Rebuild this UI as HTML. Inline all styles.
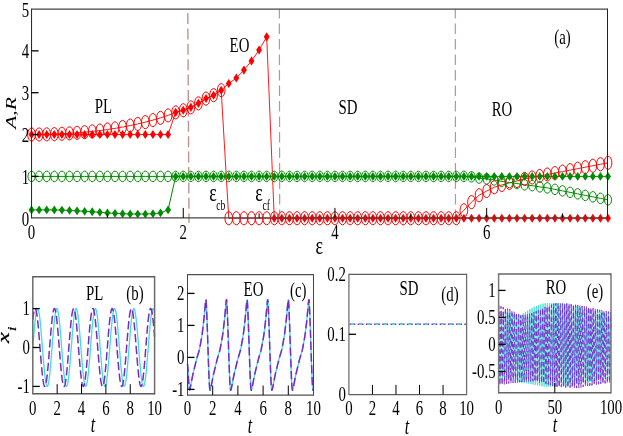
<!DOCTYPE html>
<html><head><meta charset="utf-8"><title>Figure</title>
<style>html,body{margin:0;padding:0;background:#fff;}body{width:623px;height:436px;overflow:hidden;font-family:"Liberation Serif",serif;}</style>
</head><body>
<svg width="623" height="436" viewBox="0 0 623 436" style="display:block;will-change:transform">
<rect width="623" height="436" fill="#fff"/>
<g font-family="'Liberation Serif', serif" fill="#000">
<line x1="187.8" y1="13.0" x2="189" y2="222.7" stroke="#c29292" stroke-width="1.4" stroke-dasharray="11 4.4"/>
<line x1="279.35" y1="9.2" x2="279.7" y2="217.9" stroke="#c29292" stroke-width="1.2" stroke-dasharray="10.4 5.1" stroke-dashoffset="1.1"/>
<line x1="455.3" y1="9.2" x2="455.5" y2="217.9" stroke="#c29292" stroke-width="1.2" stroke-dasharray="10.4 5.1" stroke-dashoffset="1.1"/>
<polyline points="31.55,134.55 39.13,134.5 46.72,134.36 54.3,134.13 61.89,133.8 69.47,133.37 77.06,132.83 84.64,132.19 92.23,131.43 99.81,130.54 107.4,129.53 114.98,128.37 122.57,127.07 130.16,125.6 137.74,123.96 145.32,122.13 152.91,120.11 160.5,117.86 168.08,115.39 175.66,112.37 183.25,110.28 190.84,107.35 198.42,103.37 206,98.56 213.59,95.21 221.18,90.19 228.76,218.25 236.34,218.25 243.93,218.25 251.51,218.25 259.1,218.25 266.69,218.25 274.27,218.25 281.85,218.25 289.44,218.25 297.02,218.25 304.61,218.25 312.19,218.25 319.78,218.25 327.37,218.25 334.95,218.25 342.53,218.25 350.12,218.25 357.7,218.25 365.29,218.25 372.88,218.25 380.46,218.25 388.05,218.25 395.63,218.25 403.22,218.25 410.8,218.25 418.38,218.25 425.97,218.25 433.55,218.25 441.14,218.25 448.72,218.25 456.31,218.25 463.89,210.3 471.48,202.14 479.06,195.23 486.65,191.05 494.23,187.28 501.82,184.98 509.4,182.89 516.99,181 524.57,178.91 532.16,177.45 539.75,175.98 547.33,174.52 554.91,173.05 562.5,171.59 570.08,170.12 577.67,168.66 585.25,167.19 592.84,165.73 600.42,164.26 608.01,162.8" fill="none" stroke="#ff0000" stroke-width="0.9" />
<polyline points="31.55,134.55 39.13,134.55 46.72,134.55 54.3,134.55 61.89,134.55 69.47,134.55 77.06,134.55 84.64,134.55 92.23,134.55 99.81,134.55 107.4,134.55 114.98,134.55 122.57,134.55 130.16,134.55 137.74,134.55 145.32,134.55 152.91,134.55 160.5,134.55 168.08,134.55 175.66,112.37 183.25,110.28 190.84,107.35 198.42,103.37 206,98.56 213.59,95.21 221.18,90.19 228.76,83.49 236.34,78.05 243.93,70.1 251.51,60.89 259.1,50.01 266.69,36.83 274.27,218.25 281.85,218.25 289.44,218.25 297.02,218.25 304.61,218.25 312.19,218.25 319.78,218.25 327.37,218.25 334.95,218.25 342.53,218.25 350.12,218.25 357.7,218.25 365.29,218.25 372.88,218.25 380.46,218.25 388.05,218.25 395.63,218.25 403.22,218.25 410.8,218.25 418.38,218.25 425.97,218.25 433.55,218.25 441.14,218.25 448.72,218.25 456.31,218.25 463.89,218.25 471.48,218.25 479.06,218.25 486.65,218.25 494.23,218.25 501.82,218.25 509.4,218.25 516.99,218.25 524.57,218.25 532.16,218.25 539.75,218.25 547.33,218.25 554.91,218.25 562.5,218.25 570.08,218.25 577.67,218.25 585.25,218.25 592.84,218.25 600.42,218.25 608.01,218.25" fill="none" stroke="#ff0000" stroke-width="0.9" />
<polyline points="31.55,176.4 39.13,176.4 46.72,176.4 54.3,176.4 61.89,176.4 69.47,176.4 77.06,176.4 84.64,176.4 92.23,176.4 99.81,176.4 107.4,176.4 114.98,176.4 122.57,176.4 130.16,176.4 137.74,176.4 145.32,176.4 152.91,176.4 160.5,176.4 168.08,176.4 175.66,176.4 183.25,176.4 190.84,176.4 198.42,176.4 206,176.4 213.59,176.4 221.18,176.4 228.76,176.4 236.34,176.4 243.93,176.4 251.51,176.4 259.1,176.4 266.69,176.4 274.27,176.4 281.85,176.4 289.44,176.4 297.02,176.4 304.61,176.4 312.19,176.4 319.78,176.4 327.37,176.4 334.95,176.4 342.53,176.4 350.12,176.4 357.7,176.4 365.29,176.4 372.88,176.4 380.46,176.4 388.05,176.4 395.63,176.4 403.22,176.4 410.8,176.4 418.38,176.4 425.97,176.4 433.55,176.4 441.14,176.4 448.72,176.4 456.31,176.4 463.89,176.4 471.48,176.82 479.06,178.07 486.65,178.91 494.23,179.96 501.82,181.42 509.4,182.47 516.99,183.51 524.57,184.77 532.16,185.61 539.75,186.86 547.33,187.87 554.91,189.36 562.5,190.86 570.08,192.36 577.67,193.85 585.25,195.35 592.84,196.84 600.42,198.34 608.01,199.84" fill="none" stroke="#008b00" stroke-width="1" />
<polyline points="31.55,209.88 39.13,209.88 46.72,209.88 54.3,209.96 61.89,210.09 69.47,210.42 77.06,210.84 84.64,211.3 92.23,211.76 99.81,212.35 107.4,212.94 114.98,213.35 122.57,213.73 130.16,213.98 137.74,214.06 145.32,214.06 152.91,213.65 160.5,212.94 168.08,209.88 175.66,176.4 183.25,176.4 190.84,176.4 198.42,176.4 206,176.4 213.59,176.4 221.18,176.4 228.76,176.4 236.34,176.4 243.93,176.4 251.51,176.4 259.1,176.4 266.69,176.4 274.27,176.4 281.85,176.4 289.44,176.4 297.02,176.4 304.61,176.4 312.19,176.4 319.78,176.4 327.37,176.4 334.95,176.4 342.53,176.4 350.12,176.4 357.7,176.4 365.29,176.4 372.88,176.4 380.46,176.4 388.05,176.4 395.63,176.4 403.22,176.4 410.8,176.4 418.38,176.4 425.97,176.4 433.55,176.4 441.14,176.4 448.72,176.4 456.31,176.4 463.89,176.4 471.48,176.4 479.06,176.4 486.65,176.4 494.23,176.4 501.82,176.4 509.4,176.4 516.99,176.4 524.57,176.4 532.16,176.4 539.75,176.4 547.33,176.4 554.91,176.4 562.5,176.4 570.08,176.4 577.67,176.4 585.25,176.4 592.84,176.4 600.42,176.4 608.01,176.4" fill="none" stroke="#008b00" stroke-width="1" />
<ellipse cx="31.55" cy="134.55" rx="3.85" ry="6.6" fill="none" stroke="#ff0000" stroke-width="1"/>
<ellipse cx="39.13" cy="134.5" rx="3.85" ry="6.6" fill="none" stroke="#ff0000" stroke-width="1"/>
<ellipse cx="46.72" cy="134.36" rx="3.85" ry="6.6" fill="none" stroke="#ff0000" stroke-width="1"/>
<ellipse cx="54.3" cy="134.13" rx="3.85" ry="6.6" fill="none" stroke="#ff0000" stroke-width="1"/>
<ellipse cx="61.89" cy="133.8" rx="3.85" ry="6.6" fill="none" stroke="#ff0000" stroke-width="1"/>
<ellipse cx="69.47" cy="133.37" rx="3.85" ry="6.6" fill="none" stroke="#ff0000" stroke-width="1"/>
<ellipse cx="77.06" cy="132.83" rx="3.85" ry="6.6" fill="none" stroke="#ff0000" stroke-width="1"/>
<ellipse cx="84.64" cy="132.19" rx="3.85" ry="6.6" fill="none" stroke="#ff0000" stroke-width="1"/>
<ellipse cx="92.23" cy="131.43" rx="3.85" ry="6.6" fill="none" stroke="#ff0000" stroke-width="1"/>
<ellipse cx="99.81" cy="130.54" rx="3.85" ry="6.6" fill="none" stroke="#ff0000" stroke-width="1"/>
<ellipse cx="107.4" cy="129.53" rx="3.85" ry="6.6" fill="none" stroke="#ff0000" stroke-width="1"/>
<ellipse cx="114.98" cy="128.37" rx="3.85" ry="6.6" fill="none" stroke="#ff0000" stroke-width="1"/>
<ellipse cx="122.57" cy="127.07" rx="3.85" ry="6.6" fill="none" stroke="#ff0000" stroke-width="1"/>
<ellipse cx="130.16" cy="125.6" rx="3.85" ry="6.6" fill="none" stroke="#ff0000" stroke-width="1"/>
<ellipse cx="137.74" cy="123.96" rx="3.85" ry="6.6" fill="none" stroke="#ff0000" stroke-width="1"/>
<ellipse cx="145.32" cy="122.13" rx="3.85" ry="6.6" fill="none" stroke="#ff0000" stroke-width="1"/>
<ellipse cx="152.91" cy="120.11" rx="3.85" ry="6.6" fill="none" stroke="#ff0000" stroke-width="1"/>
<ellipse cx="160.5" cy="117.86" rx="3.85" ry="6.6" fill="none" stroke="#ff0000" stroke-width="1"/>
<ellipse cx="168.08" cy="115.39" rx="3.85" ry="6.6" fill="none" stroke="#ff0000" stroke-width="1"/>
<ellipse cx="175.66" cy="112.37" rx="3.85" ry="6.6" fill="none" stroke="#ff0000" stroke-width="1"/>
<ellipse cx="183.25" cy="110.28" rx="3.85" ry="6.6" fill="none" stroke="#ff0000" stroke-width="1"/>
<ellipse cx="190.84" cy="107.35" rx="3.85" ry="6.6" fill="none" stroke="#ff0000" stroke-width="1"/>
<ellipse cx="198.42" cy="103.37" rx="3.85" ry="6.6" fill="none" stroke="#ff0000" stroke-width="1"/>
<ellipse cx="206" cy="98.56" rx="3.85" ry="6.6" fill="none" stroke="#ff0000" stroke-width="1"/>
<ellipse cx="213.59" cy="95.21" rx="3.85" ry="6.6" fill="none" stroke="#ff0000" stroke-width="1"/>
<ellipse cx="221.18" cy="90.19" rx="3.85" ry="6.6" fill="none" stroke="#ff0000" stroke-width="1"/>
<ellipse cx="228.76" cy="218.25" rx="3.85" ry="6.6" fill="none" stroke="#ff0000" stroke-width="1"/>
<ellipse cx="236.34" cy="218.25" rx="3.85" ry="6.6" fill="none" stroke="#ff0000" stroke-width="1"/>
<ellipse cx="243.93" cy="218.25" rx="3.85" ry="6.6" fill="none" stroke="#ff0000" stroke-width="1"/>
<ellipse cx="251.51" cy="218.25" rx="3.85" ry="6.6" fill="none" stroke="#ff0000" stroke-width="1"/>
<ellipse cx="259.1" cy="218.25" rx="3.85" ry="6.6" fill="none" stroke="#ff0000" stroke-width="1"/>
<ellipse cx="266.69" cy="218.25" rx="3.85" ry="6.6" fill="none" stroke="#ff0000" stroke-width="1"/>
<ellipse cx="274.27" cy="218.25" rx="3.85" ry="6.6" fill="none" stroke="#ff0000" stroke-width="1"/>
<ellipse cx="281.85" cy="218.25" rx="3.85" ry="6.6" fill="none" stroke="#ff0000" stroke-width="1"/>
<ellipse cx="289.44" cy="218.25" rx="3.85" ry="6.6" fill="none" stroke="#ff0000" stroke-width="1"/>
<ellipse cx="297.02" cy="218.25" rx="3.85" ry="6.6" fill="none" stroke="#ff0000" stroke-width="1"/>
<ellipse cx="304.61" cy="218.25" rx="3.85" ry="6.6" fill="none" stroke="#ff0000" stroke-width="1"/>
<ellipse cx="312.19" cy="218.25" rx="3.85" ry="6.6" fill="none" stroke="#ff0000" stroke-width="1"/>
<ellipse cx="319.78" cy="218.25" rx="3.85" ry="6.6" fill="none" stroke="#ff0000" stroke-width="1"/>
<ellipse cx="327.37" cy="218.25" rx="3.85" ry="6.6" fill="none" stroke="#ff0000" stroke-width="1"/>
<ellipse cx="334.95" cy="218.25" rx="3.85" ry="6.6" fill="none" stroke="#ff0000" stroke-width="1"/>
<ellipse cx="342.53" cy="218.25" rx="3.85" ry="6.6" fill="none" stroke="#ff0000" stroke-width="1"/>
<ellipse cx="350.12" cy="218.25" rx="3.85" ry="6.6" fill="none" stroke="#ff0000" stroke-width="1"/>
<ellipse cx="357.7" cy="218.25" rx="3.85" ry="6.6" fill="none" stroke="#ff0000" stroke-width="1"/>
<ellipse cx="365.29" cy="218.25" rx="3.85" ry="6.6" fill="none" stroke="#ff0000" stroke-width="1"/>
<ellipse cx="372.88" cy="218.25" rx="3.85" ry="6.6" fill="none" stroke="#ff0000" stroke-width="1"/>
<ellipse cx="380.46" cy="218.25" rx="3.85" ry="6.6" fill="none" stroke="#ff0000" stroke-width="1"/>
<ellipse cx="388.05" cy="218.25" rx="3.85" ry="6.6" fill="none" stroke="#ff0000" stroke-width="1"/>
<ellipse cx="395.63" cy="218.25" rx="3.85" ry="6.6" fill="none" stroke="#ff0000" stroke-width="1"/>
<ellipse cx="403.22" cy="218.25" rx="3.85" ry="6.6" fill="none" stroke="#ff0000" stroke-width="1"/>
<ellipse cx="410.8" cy="218.25" rx="3.85" ry="6.6" fill="none" stroke="#ff0000" stroke-width="1"/>
<ellipse cx="418.38" cy="218.25" rx="3.85" ry="6.6" fill="none" stroke="#ff0000" stroke-width="1"/>
<ellipse cx="425.97" cy="218.25" rx="3.85" ry="6.6" fill="none" stroke="#ff0000" stroke-width="1"/>
<ellipse cx="433.55" cy="218.25" rx="3.85" ry="6.6" fill="none" stroke="#ff0000" stroke-width="1"/>
<ellipse cx="441.14" cy="218.25" rx="3.85" ry="6.6" fill="none" stroke="#ff0000" stroke-width="1"/>
<ellipse cx="448.72" cy="218.25" rx="3.85" ry="6.6" fill="none" stroke="#ff0000" stroke-width="1"/>
<ellipse cx="456.31" cy="218.25" rx="3.85" ry="6.6" fill="none" stroke="#ff0000" stroke-width="1"/>
<ellipse cx="463.89" cy="210.3" rx="3.85" ry="6.6" fill="none" stroke="#ff0000" stroke-width="1"/>
<ellipse cx="471.48" cy="202.14" rx="3.85" ry="6.6" fill="none" stroke="#ff0000" stroke-width="1"/>
<ellipse cx="479.06" cy="195.23" rx="3.85" ry="6.6" fill="none" stroke="#ff0000" stroke-width="1"/>
<ellipse cx="486.65" cy="191.05" rx="3.85" ry="6.6" fill="none" stroke="#ff0000" stroke-width="1"/>
<ellipse cx="494.23" cy="187.28" rx="3.85" ry="6.6" fill="none" stroke="#ff0000" stroke-width="1"/>
<ellipse cx="501.82" cy="184.98" rx="3.85" ry="6.6" fill="none" stroke="#ff0000" stroke-width="1"/>
<ellipse cx="509.4" cy="182.89" rx="3.85" ry="6.6" fill="none" stroke="#ff0000" stroke-width="1"/>
<ellipse cx="516.99" cy="181" rx="3.85" ry="6.6" fill="none" stroke="#ff0000" stroke-width="1"/>
<ellipse cx="524.57" cy="178.91" rx="3.85" ry="6.6" fill="none" stroke="#ff0000" stroke-width="1"/>
<ellipse cx="532.16" cy="177.45" rx="3.85" ry="6.6" fill="none" stroke="#ff0000" stroke-width="1"/>
<ellipse cx="539.75" cy="175.98" rx="3.85" ry="6.6" fill="none" stroke="#ff0000" stroke-width="1"/>
<ellipse cx="547.33" cy="174.52" rx="3.85" ry="6.6" fill="none" stroke="#ff0000" stroke-width="1"/>
<ellipse cx="554.91" cy="173.05" rx="3.85" ry="6.6" fill="none" stroke="#ff0000" stroke-width="1"/>
<ellipse cx="562.5" cy="171.59" rx="3.85" ry="6.6" fill="none" stroke="#ff0000" stroke-width="1"/>
<ellipse cx="570.08" cy="170.12" rx="3.85" ry="6.6" fill="none" stroke="#ff0000" stroke-width="1"/>
<ellipse cx="577.67" cy="168.66" rx="3.85" ry="6.6" fill="none" stroke="#ff0000" stroke-width="1"/>
<ellipse cx="585.25" cy="167.19" rx="3.85" ry="6.6" fill="none" stroke="#ff0000" stroke-width="1"/>
<ellipse cx="592.84" cy="165.73" rx="3.85" ry="6.6" fill="none" stroke="#ff0000" stroke-width="1"/>
<ellipse cx="600.42" cy="164.26" rx="3.85" ry="6.6" fill="none" stroke="#ff0000" stroke-width="1"/>
<ellipse cx="608.01" cy="162.8" rx="3.85" ry="6.6" fill="none" stroke="#ff0000" stroke-width="1"/>
<path d="M28.6 134.55L31.55 130L34.5 134.55L31.55 139.1Z" fill="#ff0000"/>
<path d="M36.18 134.55L39.13 130L42.09 134.55L39.13 139.1Z" fill="#ff0000"/>
<path d="M43.77 134.55L46.72 130L49.67 134.55L46.72 139.1Z" fill="#ff0000"/>
<path d="M51.35 134.55L54.3 130L57.26 134.55L54.3 139.1Z" fill="#ff0000"/>
<path d="M58.94 134.55L61.89 130L64.84 134.55L61.89 139.1Z" fill="#ff0000"/>
<path d="M66.52 134.55L69.47 130L72.42 134.55L69.47 139.1Z" fill="#ff0000"/>
<path d="M74.11 134.55L77.06 130L80.01 134.55L77.06 139.1Z" fill="#ff0000"/>
<path d="M81.69 134.55L84.64 130L87.59 134.55L84.64 139.1Z" fill="#ff0000"/>
<path d="M89.28 134.55L92.23 130L95.18 134.55L92.23 139.1Z" fill="#ff0000"/>
<path d="M96.86 134.55L99.81 130L102.77 134.55L99.81 139.1Z" fill="#ff0000"/>
<path d="M104.45 134.55L107.4 130L110.35 134.55L107.4 139.1Z" fill="#ff0000"/>
<path d="M112.03 134.55L114.98 130L117.94 134.55L114.98 139.1Z" fill="#ff0000"/>
<path d="M119.62 134.55L122.57 130L125.52 134.55L122.57 139.1Z" fill="#ff0000"/>
<path d="M127.2 134.55L130.16 130L133.1 134.55L130.16 139.1Z" fill="#ff0000"/>
<path d="M134.79 134.55L137.74 130L140.69 134.55L137.74 139.1Z" fill="#ff0000"/>
<path d="M142.38 134.55L145.32 130L148.27 134.55L145.32 139.1Z" fill="#ff0000"/>
<path d="M149.96 134.55L152.91 130L155.86 134.55L152.91 139.1Z" fill="#ff0000"/>
<path d="M157.55 134.55L160.5 130L163.44 134.55L160.5 139.1Z" fill="#ff0000"/>
<path d="M165.13 134.55L168.08 130L171.03 134.55L168.08 139.1Z" fill="#ff0000"/>
<path d="M172.72 112.37L175.66 107.82L178.61 112.37L175.66 116.92Z" fill="#ff0000"/>
<path d="M180.3 110.28L183.25 105.73L186.2 110.28L183.25 114.83Z" fill="#ff0000"/>
<path d="M187.89 107.35L190.84 102.8L193.78 107.35L190.84 111.9Z" fill="#ff0000"/>
<path d="M195.47 103.37L198.42 98.82L201.37 103.37L198.42 107.92Z" fill="#ff0000"/>
<path d="M203.06 98.56L206 94.01L208.95 98.56L206 103.11Z" fill="#ff0000"/>
<path d="M210.64 95.21L213.59 90.66L216.54 95.21L213.59 99.76Z" fill="#ff0000"/>
<path d="M218.23 90.19L221.18 85.64L224.12 90.19L221.18 94.74Z" fill="#ff0000"/>
<path d="M225.81 83.49L228.76 78.94L231.71 83.49L228.76 88.04Z" fill="#ff0000"/>
<path d="M233.4 78.05L236.34 73.5L239.29 78.05L236.34 82.6Z" fill="#ff0000"/>
<path d="M240.98 70.1L243.93 65.55L246.88 70.1L243.93 74.65Z" fill="#ff0000"/>
<path d="M248.56 60.89L251.51 56.34L254.46 60.89L251.51 65.44Z" fill="#ff0000"/>
<path d="M256.15 50.01L259.1 45.46L262.05 50.01L259.1 54.56Z" fill="#ff0000"/>
<path d="M263.74 36.83L266.69 32.28L269.63 36.83L266.69 41.38Z" fill="#ff0000"/>
<path d="M271.32 218.25L274.27 213.7L277.22 218.25L274.27 222.8Z" fill="#ff0000"/>
<path d="M278.9 218.25L281.85 213.7L284.8 218.25L281.85 222.8Z" fill="#ff0000"/>
<path d="M286.49 218.25L289.44 213.7L292.39 218.25L289.44 222.8Z" fill="#ff0000"/>
<path d="M294.07 218.25L297.02 213.7L299.97 218.25L297.02 222.8Z" fill="#ff0000"/>
<path d="M301.66 218.25L304.61 213.7L307.56 218.25L304.61 222.8Z" fill="#ff0000"/>
<path d="M309.25 218.25L312.19 213.7L315.14 218.25L312.19 222.8Z" fill="#ff0000"/>
<path d="M316.83 218.25L319.78 213.7L322.73 218.25L319.78 222.8Z" fill="#ff0000"/>
<path d="M324.42 218.25L327.37 213.7L330.31 218.25L327.37 222.8Z" fill="#ff0000"/>
<path d="M332 218.25L334.95 213.7L337.9 218.25L334.95 222.8Z" fill="#ff0000"/>
<path d="M339.58 218.25L342.53 213.7L345.48 218.25L342.53 222.8Z" fill="#ff0000"/>
<path d="M347.17 218.25L350.12 213.7L353.07 218.25L350.12 222.8Z" fill="#ff0000"/>
<path d="M354.75 218.25L357.7 213.7L360.65 218.25L357.7 222.8Z" fill="#ff0000"/>
<path d="M362.34 218.25L365.29 213.7L368.24 218.25L365.29 222.8Z" fill="#ff0000"/>
<path d="M369.93 218.25L372.88 213.7L375.82 218.25L372.88 222.8Z" fill="#ff0000"/>
<path d="M377.51 218.25L380.46 213.7L383.41 218.25L380.46 222.8Z" fill="#ff0000"/>
<path d="M385.1 218.25L388.05 213.7L391 218.25L388.05 222.8Z" fill="#ff0000"/>
<path d="M392.68 218.25L395.63 213.7L398.58 218.25L395.63 222.8Z" fill="#ff0000"/>
<path d="M400.27 218.25L403.22 213.7L406.17 218.25L403.22 222.8Z" fill="#ff0000"/>
<path d="M407.85 218.25L410.8 213.7L413.75 218.25L410.8 222.8Z" fill="#ff0000"/>
<path d="M415.43 218.25L418.38 213.7L421.33 218.25L418.38 222.8Z" fill="#ff0000"/>
<path d="M423.02 218.25L425.97 213.7L428.92 218.25L425.97 222.8Z" fill="#ff0000"/>
<path d="M430.6 218.25L433.55 213.7L436.5 218.25L433.55 222.8Z" fill="#ff0000"/>
<path d="M438.19 218.25L441.14 213.7L444.09 218.25L441.14 222.8Z" fill="#ff0000"/>
<path d="M445.77 218.25L448.72 213.7L451.67 218.25L448.72 222.8Z" fill="#ff0000"/>
<path d="M453.36 218.25L456.31 213.7L459.26 218.25L456.31 222.8Z" fill="#ff0000"/>
<path d="M460.94 218.25L463.89 213.7L466.84 218.25L463.89 222.8Z" fill="#ff0000"/>
<path d="M468.53 218.25L471.48 213.7L474.43 218.25L471.48 222.8Z" fill="#ff0000"/>
<path d="M476.12 218.25L479.06 213.7L482.01 218.25L479.06 222.8Z" fill="#ff0000"/>
<path d="M483.7 218.25L486.65 213.7L489.6 218.25L486.65 222.8Z" fill="#ff0000"/>
<path d="M491.28 218.25L494.23 213.7L497.18 218.25L494.23 222.8Z" fill="#ff0000"/>
<path d="M498.87 218.25L501.82 213.7L504.77 218.25L501.82 222.8Z" fill="#ff0000"/>
<path d="M506.45 218.25L509.4 213.7L512.36 218.25L509.4 222.8Z" fill="#ff0000"/>
<path d="M514.04 218.25L516.99 213.7L519.94 218.25L516.99 222.8Z" fill="#ff0000"/>
<path d="M521.62 218.25L524.57 213.7L527.52 218.25L524.57 222.8Z" fill="#ff0000"/>
<path d="M529.21 218.25L532.16 213.7L535.11 218.25L532.16 222.8Z" fill="#ff0000"/>
<path d="M536.79 218.25L539.75 213.7L542.7 218.25L539.75 222.8Z" fill="#ff0000"/>
<path d="M544.38 218.25L547.33 213.7L550.28 218.25L547.33 222.8Z" fill="#ff0000"/>
<path d="M551.96 218.25L554.91 213.7L557.87 218.25L554.91 222.8Z" fill="#ff0000"/>
<path d="M559.55 218.25L562.5 213.7L565.45 218.25L562.5 222.8Z" fill="#ff0000"/>
<path d="M567.13 218.25L570.08 213.7L573.03 218.25L570.08 222.8Z" fill="#ff0000"/>
<path d="M574.72 218.25L577.67 213.7L580.62 218.25L577.67 222.8Z" fill="#ff0000"/>
<path d="M582.3 218.25L585.25 213.7L588.2 218.25L585.25 222.8Z" fill="#ff0000"/>
<path d="M589.89 218.25L592.84 213.7L595.79 218.25L592.84 222.8Z" fill="#ff0000"/>
<path d="M597.47 218.25L600.42 213.7L603.38 218.25L600.42 222.8Z" fill="#ff0000"/>
<path d="M605.06 218.25L608.01 213.7L610.96 218.25L608.01 222.8Z" fill="#ff0000"/>
<ellipse cx="31.55" cy="176.4" rx="3.55" ry="5.3" fill="none" stroke="#008b00" stroke-width="1"/>
<ellipse cx="39.13" cy="176.4" rx="3.55" ry="5.3" fill="none" stroke="#008b00" stroke-width="1"/>
<ellipse cx="46.72" cy="176.4" rx="3.55" ry="5.3" fill="none" stroke="#008b00" stroke-width="1"/>
<ellipse cx="54.3" cy="176.4" rx="3.55" ry="5.3" fill="none" stroke="#008b00" stroke-width="1"/>
<ellipse cx="61.89" cy="176.4" rx="3.55" ry="5.3" fill="none" stroke="#008b00" stroke-width="1"/>
<ellipse cx="69.47" cy="176.4" rx="3.55" ry="5.3" fill="none" stroke="#008b00" stroke-width="1"/>
<ellipse cx="77.06" cy="176.4" rx="3.55" ry="5.3" fill="none" stroke="#008b00" stroke-width="1"/>
<ellipse cx="84.64" cy="176.4" rx="3.55" ry="5.3" fill="none" stroke="#008b00" stroke-width="1"/>
<ellipse cx="92.23" cy="176.4" rx="3.55" ry="5.3" fill="none" stroke="#008b00" stroke-width="1"/>
<ellipse cx="99.81" cy="176.4" rx="3.55" ry="5.3" fill="none" stroke="#008b00" stroke-width="1"/>
<ellipse cx="107.4" cy="176.4" rx="3.55" ry="5.3" fill="none" stroke="#008b00" stroke-width="1"/>
<ellipse cx="114.98" cy="176.4" rx="3.55" ry="5.3" fill="none" stroke="#008b00" stroke-width="1"/>
<ellipse cx="122.57" cy="176.4" rx="3.55" ry="5.3" fill="none" stroke="#008b00" stroke-width="1"/>
<ellipse cx="130.16" cy="176.4" rx="3.55" ry="5.3" fill="none" stroke="#008b00" stroke-width="1"/>
<ellipse cx="137.74" cy="176.4" rx="3.55" ry="5.3" fill="none" stroke="#008b00" stroke-width="1"/>
<ellipse cx="145.32" cy="176.4" rx="3.55" ry="5.3" fill="none" stroke="#008b00" stroke-width="1"/>
<ellipse cx="152.91" cy="176.4" rx="3.55" ry="5.3" fill="none" stroke="#008b00" stroke-width="1"/>
<ellipse cx="160.5" cy="176.4" rx="3.55" ry="5.3" fill="none" stroke="#008b00" stroke-width="1"/>
<ellipse cx="168.08" cy="176.4" rx="3.55" ry="5.3" fill="none" stroke="#008b00" stroke-width="1"/>
<ellipse cx="175.66" cy="176.4" rx="3.55" ry="5.3" fill="none" stroke="#008b00" stroke-width="1"/>
<ellipse cx="183.25" cy="176.4" rx="3.55" ry="5.3" fill="none" stroke="#008b00" stroke-width="1"/>
<ellipse cx="190.84" cy="176.4" rx="3.55" ry="5.3" fill="none" stroke="#008b00" stroke-width="1"/>
<ellipse cx="198.42" cy="176.4" rx="3.55" ry="5.3" fill="none" stroke="#008b00" stroke-width="1"/>
<ellipse cx="206" cy="176.4" rx="3.55" ry="5.3" fill="none" stroke="#008b00" stroke-width="1"/>
<ellipse cx="213.59" cy="176.4" rx="3.55" ry="5.3" fill="none" stroke="#008b00" stroke-width="1"/>
<ellipse cx="221.18" cy="176.4" rx="3.55" ry="5.3" fill="none" stroke="#008b00" stroke-width="1"/>
<ellipse cx="228.76" cy="176.4" rx="3.55" ry="5.3" fill="none" stroke="#008b00" stroke-width="1"/>
<ellipse cx="236.34" cy="176.4" rx="3.55" ry="5.3" fill="none" stroke="#008b00" stroke-width="1"/>
<ellipse cx="243.93" cy="176.4" rx="3.55" ry="5.3" fill="none" stroke="#008b00" stroke-width="1"/>
<ellipse cx="251.51" cy="176.4" rx="3.55" ry="5.3" fill="none" stroke="#008b00" stroke-width="1"/>
<ellipse cx="259.1" cy="176.4" rx="3.55" ry="5.3" fill="none" stroke="#008b00" stroke-width="1"/>
<ellipse cx="266.69" cy="176.4" rx="3.55" ry="5.3" fill="none" stroke="#008b00" stroke-width="1"/>
<ellipse cx="274.27" cy="176.4" rx="3.55" ry="5.3" fill="none" stroke="#008b00" stroke-width="1"/>
<ellipse cx="281.85" cy="176.4" rx="3.55" ry="5.3" fill="none" stroke="#008b00" stroke-width="1"/>
<ellipse cx="289.44" cy="176.4" rx="3.55" ry="5.3" fill="none" stroke="#008b00" stroke-width="1"/>
<ellipse cx="297.02" cy="176.4" rx="3.55" ry="5.3" fill="none" stroke="#008b00" stroke-width="1"/>
<ellipse cx="304.61" cy="176.4" rx="3.55" ry="5.3" fill="none" stroke="#008b00" stroke-width="1"/>
<ellipse cx="312.19" cy="176.4" rx="3.55" ry="5.3" fill="none" stroke="#008b00" stroke-width="1"/>
<ellipse cx="319.78" cy="176.4" rx="3.55" ry="5.3" fill="none" stroke="#008b00" stroke-width="1"/>
<ellipse cx="327.37" cy="176.4" rx="3.55" ry="5.3" fill="none" stroke="#008b00" stroke-width="1"/>
<ellipse cx="334.95" cy="176.4" rx="3.55" ry="5.3" fill="none" stroke="#008b00" stroke-width="1"/>
<ellipse cx="342.53" cy="176.4" rx="3.55" ry="5.3" fill="none" stroke="#008b00" stroke-width="1"/>
<ellipse cx="350.12" cy="176.4" rx="3.55" ry="5.3" fill="none" stroke="#008b00" stroke-width="1"/>
<ellipse cx="357.7" cy="176.4" rx="3.55" ry="5.3" fill="none" stroke="#008b00" stroke-width="1"/>
<ellipse cx="365.29" cy="176.4" rx="3.55" ry="5.3" fill="none" stroke="#008b00" stroke-width="1"/>
<ellipse cx="372.88" cy="176.4" rx="3.55" ry="5.3" fill="none" stroke="#008b00" stroke-width="1"/>
<ellipse cx="380.46" cy="176.4" rx="3.55" ry="5.3" fill="none" stroke="#008b00" stroke-width="1"/>
<ellipse cx="388.05" cy="176.4" rx="3.55" ry="5.3" fill="none" stroke="#008b00" stroke-width="1"/>
<ellipse cx="395.63" cy="176.4" rx="3.55" ry="5.3" fill="none" stroke="#008b00" stroke-width="1"/>
<ellipse cx="403.22" cy="176.4" rx="3.55" ry="5.3" fill="none" stroke="#008b00" stroke-width="1"/>
<ellipse cx="410.8" cy="176.4" rx="3.55" ry="5.3" fill="none" stroke="#008b00" stroke-width="1"/>
<ellipse cx="418.38" cy="176.4" rx="3.55" ry="5.3" fill="none" stroke="#008b00" stroke-width="1"/>
<ellipse cx="425.97" cy="176.4" rx="3.55" ry="5.3" fill="none" stroke="#008b00" stroke-width="1"/>
<ellipse cx="433.55" cy="176.4" rx="3.55" ry="5.3" fill="none" stroke="#008b00" stroke-width="1"/>
<ellipse cx="441.14" cy="176.4" rx="3.55" ry="5.3" fill="none" stroke="#008b00" stroke-width="1"/>
<ellipse cx="448.72" cy="176.4" rx="3.55" ry="5.3" fill="none" stroke="#008b00" stroke-width="1"/>
<ellipse cx="456.31" cy="176.4" rx="3.55" ry="5.3" fill="none" stroke="#008b00" stroke-width="1"/>
<ellipse cx="463.89" cy="176.4" rx="3.55" ry="5.3" fill="none" stroke="#008b00" stroke-width="1"/>
<ellipse cx="471.48" cy="176.82" rx="3.55" ry="5.3" fill="none" stroke="#008b00" stroke-width="1"/>
<ellipse cx="479.06" cy="178.07" rx="3.55" ry="5.3" fill="none" stroke="#008b00" stroke-width="1"/>
<ellipse cx="486.65" cy="178.91" rx="3.55" ry="5.3" fill="none" stroke="#008b00" stroke-width="1"/>
<ellipse cx="494.23" cy="179.96" rx="3.55" ry="5.3" fill="none" stroke="#008b00" stroke-width="1"/>
<ellipse cx="501.82" cy="181.42" rx="3.55" ry="5.3" fill="none" stroke="#008b00" stroke-width="1"/>
<ellipse cx="509.4" cy="182.47" rx="3.55" ry="5.3" fill="none" stroke="#008b00" stroke-width="1"/>
<ellipse cx="516.99" cy="183.51" rx="3.55" ry="5.3" fill="none" stroke="#008b00" stroke-width="1"/>
<ellipse cx="524.57" cy="184.77" rx="3.55" ry="5.3" fill="none" stroke="#008b00" stroke-width="1"/>
<ellipse cx="532.16" cy="185.61" rx="3.55" ry="5.3" fill="none" stroke="#008b00" stroke-width="1"/>
<ellipse cx="539.75" cy="186.86" rx="3.55" ry="5.3" fill="none" stroke="#008b00" stroke-width="1"/>
<ellipse cx="547.33" cy="187.87" rx="3.55" ry="5.3" fill="none" stroke="#008b00" stroke-width="1"/>
<ellipse cx="554.91" cy="189.36" rx="3.55" ry="5.3" fill="none" stroke="#008b00" stroke-width="1"/>
<ellipse cx="562.5" cy="190.86" rx="3.55" ry="5.3" fill="none" stroke="#008b00" stroke-width="1"/>
<ellipse cx="570.08" cy="192.36" rx="3.55" ry="5.3" fill="none" stroke="#008b00" stroke-width="1"/>
<ellipse cx="577.67" cy="193.85" rx="3.55" ry="5.3" fill="none" stroke="#008b00" stroke-width="1"/>
<ellipse cx="585.25" cy="195.35" rx="3.55" ry="5.3" fill="none" stroke="#008b00" stroke-width="1"/>
<ellipse cx="592.84" cy="196.84" rx="3.55" ry="5.3" fill="none" stroke="#008b00" stroke-width="1"/>
<ellipse cx="600.42" cy="198.34" rx="3.55" ry="5.3" fill="none" stroke="#008b00" stroke-width="1"/>
<ellipse cx="608.01" cy="199.84" rx="3.55" ry="5.3" fill="none" stroke="#008b00" stroke-width="1"/>
<path d="M28.55 209.88L31.55 205.48L34.55 209.88L31.55 214.28Z" fill="#008b00"/>
<path d="M36.13 209.88L39.13 205.48L42.13 209.88L39.13 214.28Z" fill="#008b00"/>
<path d="M43.72 209.88L46.72 205.48L49.72 209.88L46.72 214.28Z" fill="#008b00"/>
<path d="M51.3 209.96L54.3 205.56L57.3 209.96L54.3 214.36Z" fill="#008b00"/>
<path d="M58.89 210.09L61.89 205.69L64.89 210.09L61.89 214.49Z" fill="#008b00"/>
<path d="M66.47 210.42L69.47 206.02L72.47 210.42L69.47 214.82Z" fill="#008b00"/>
<path d="M74.06 210.84L77.06 206.44L80.06 210.84L77.06 215.24Z" fill="#008b00"/>
<path d="M81.64 211.3L84.64 206.9L87.64 211.3L84.64 215.7Z" fill="#008b00"/>
<path d="M89.23 211.76L92.23 207.36L95.23 211.76L92.23 216.16Z" fill="#008b00"/>
<path d="M96.81 212.35L99.81 207.95L102.81 212.35L99.81 216.75Z" fill="#008b00"/>
<path d="M104.4 212.94L107.4 208.54L110.4 212.94L107.4 217.34Z" fill="#008b00"/>
<path d="M111.98 213.35L114.98 208.95L117.98 213.35L114.98 217.75Z" fill="#008b00"/>
<path d="M119.57 213.73L122.57 209.33L125.57 213.73L122.57 218.13Z" fill="#008b00"/>
<path d="M127.16 213.98L130.16 209.58L133.16 213.98L130.16 218.38Z" fill="#008b00"/>
<path d="M134.74 214.06L137.74 209.66L140.74 214.06L137.74 218.47Z" fill="#008b00"/>
<path d="M142.32 214.06L145.32 209.66L148.32 214.06L145.32 218.47Z" fill="#008b00"/>
<path d="M149.91 213.65L152.91 209.25L155.91 213.65L152.91 218.05Z" fill="#008b00"/>
<path d="M157.5 212.94L160.5 208.54L163.5 212.94L160.5 217.34Z" fill="#008b00"/>
<path d="M165.08 209.88L168.08 205.48L171.08 209.88L168.08 214.28Z" fill="#008b00"/>
<path d="M172.66 176.4L175.66 172L178.66 176.4L175.66 180.8Z" fill="#008b00"/>
<path d="M180.25 176.4L183.25 172L186.25 176.4L183.25 180.8Z" fill="#008b00"/>
<path d="M187.84 176.4L190.84 172L193.84 176.4L190.84 180.8Z" fill="#008b00"/>
<path d="M195.42 176.4L198.42 172L201.42 176.4L198.42 180.8Z" fill="#008b00"/>
<path d="M203 176.4L206 172L209 176.4L206 180.8Z" fill="#008b00"/>
<path d="M210.59 176.4L213.59 172L216.59 176.4L213.59 180.8Z" fill="#008b00"/>
<path d="M218.18 176.4L221.18 172L224.18 176.4L221.18 180.8Z" fill="#008b00"/>
<path d="M225.76 176.4L228.76 172L231.76 176.4L228.76 180.8Z" fill="#008b00"/>
<path d="M233.34 176.4L236.34 172L239.34 176.4L236.34 180.8Z" fill="#008b00"/>
<path d="M240.93 176.4L243.93 172L246.93 176.4L243.93 180.8Z" fill="#008b00"/>
<path d="M248.51 176.4L251.51 172L254.51 176.4L251.51 180.8Z" fill="#008b00"/>
<path d="M256.1 176.4L259.1 172L262.1 176.4L259.1 180.8Z" fill="#008b00"/>
<path d="M263.69 176.4L266.69 172L269.69 176.4L266.69 180.8Z" fill="#008b00"/>
<path d="M271.27 176.4L274.27 172L277.27 176.4L274.27 180.8Z" fill="#008b00"/>
<path d="M278.85 176.4L281.85 172L284.85 176.4L281.85 180.8Z" fill="#008b00"/>
<path d="M286.44 176.4L289.44 172L292.44 176.4L289.44 180.8Z" fill="#008b00"/>
<path d="M294.02 176.4L297.02 172L300.02 176.4L297.02 180.8Z" fill="#008b00"/>
<path d="M301.61 176.4L304.61 172L307.61 176.4L304.61 180.8Z" fill="#008b00"/>
<path d="M309.19 176.4L312.19 172L315.19 176.4L312.19 180.8Z" fill="#008b00"/>
<path d="M316.78 176.4L319.78 172L322.78 176.4L319.78 180.8Z" fill="#008b00"/>
<path d="M324.37 176.4L327.37 172L330.37 176.4L327.37 180.8Z" fill="#008b00"/>
<path d="M331.95 176.4L334.95 172L337.95 176.4L334.95 180.8Z" fill="#008b00"/>
<path d="M339.53 176.4L342.53 172L345.53 176.4L342.53 180.8Z" fill="#008b00"/>
<path d="M347.12 176.4L350.12 172L353.12 176.4L350.12 180.8Z" fill="#008b00"/>
<path d="M354.7 176.4L357.7 172L360.7 176.4L357.7 180.8Z" fill="#008b00"/>
<path d="M362.29 176.4L365.29 172L368.29 176.4L365.29 180.8Z" fill="#008b00"/>
<path d="M369.88 176.4L372.88 172L375.88 176.4L372.88 180.8Z" fill="#008b00"/>
<path d="M377.46 176.4L380.46 172L383.46 176.4L380.46 180.8Z" fill="#008b00"/>
<path d="M385.05 176.4L388.05 172L391.05 176.4L388.05 180.8Z" fill="#008b00"/>
<path d="M392.63 176.4L395.63 172L398.63 176.4L395.63 180.8Z" fill="#008b00"/>
<path d="M400.22 176.4L403.22 172L406.22 176.4L403.22 180.8Z" fill="#008b00"/>
<path d="M407.8 176.4L410.8 172L413.8 176.4L410.8 180.8Z" fill="#008b00"/>
<path d="M415.38 176.4L418.38 172L421.38 176.4L418.38 180.8Z" fill="#008b00"/>
<path d="M422.97 176.4L425.97 172L428.97 176.4L425.97 180.8Z" fill="#008b00"/>
<path d="M430.55 176.4L433.55 172L436.55 176.4L433.55 180.8Z" fill="#008b00"/>
<path d="M438.14 176.4L441.14 172L444.14 176.4L441.14 180.8Z" fill="#008b00"/>
<path d="M445.72 176.4L448.72 172L451.72 176.4L448.72 180.8Z" fill="#008b00"/>
<path d="M453.31 176.4L456.31 172L459.31 176.4L456.31 180.8Z" fill="#008b00"/>
<path d="M460.89 176.4L463.89 172L466.89 176.4L463.89 180.8Z" fill="#008b00"/>
<path d="M468.48 176.4L471.48 172L474.48 176.4L471.48 180.8Z" fill="#008b00"/>
<path d="M476.06 176.4L479.06 172L482.06 176.4L479.06 180.8Z" fill="#008b00"/>
<path d="M483.65 176.4L486.65 172L489.65 176.4L486.65 180.8Z" fill="#008b00"/>
<path d="M491.23 176.4L494.23 172L497.23 176.4L494.23 180.8Z" fill="#008b00"/>
<path d="M498.82 176.4L501.82 172L504.82 176.4L501.82 180.8Z" fill="#008b00"/>
<path d="M506.4 176.4L509.4 172L512.4 176.4L509.4 180.8Z" fill="#008b00"/>
<path d="M513.99 176.4L516.99 172L519.99 176.4L516.99 180.8Z" fill="#008b00"/>
<path d="M521.57 176.4L524.57 172L527.57 176.4L524.57 180.8Z" fill="#008b00"/>
<path d="M529.16 176.4L532.16 172L535.16 176.4L532.16 180.8Z" fill="#008b00"/>
<path d="M536.75 176.4L539.75 172L542.75 176.4L539.75 180.8Z" fill="#008b00"/>
<path d="M544.33 176.4L547.33 172L550.33 176.4L547.33 180.8Z" fill="#008b00"/>
<path d="M551.91 176.4L554.91 172L557.91 176.4L554.91 180.8Z" fill="#008b00"/>
<path d="M559.5 176.4L562.5 172L565.5 176.4L562.5 180.8Z" fill="#008b00"/>
<path d="M567.08 176.4L570.08 172L573.08 176.4L570.08 180.8Z" fill="#008b00"/>
<path d="M574.67 176.4L577.67 172L580.67 176.4L577.67 180.8Z" fill="#008b00"/>
<path d="M582.25 176.4L585.25 172L588.25 176.4L585.25 180.8Z" fill="#008b00"/>
<path d="M589.84 176.4L592.84 172L595.84 176.4L592.84 180.8Z" fill="#008b00"/>
<path d="M597.42 176.4L600.42 172L603.42 176.4L600.42 180.8Z" fill="#008b00"/>
<path d="M605.01 176.4L608.01 172L611.01 176.4L608.01 180.8Z" fill="#008b00"/>
<line x1="31.55" y1="8.55" x2="31.55" y2="218.55" stroke="#222" stroke-width="1.0" />
<line x1="607.5" y1="8.55" x2="607.5" y2="218.55" stroke="#222" stroke-width="1.0" />
<line x1="31.55" y1="9.2" x2="607.5" y2="9.2" stroke="#444" stroke-width="1.3" />
<line x1="31.55" y1="217.9" x2="607.5" y2="217.9" stroke="#444" stroke-width="1.3" />
<line x1="31.55" y1="176.4" x2="38.55" y2="176.4" stroke="#000" stroke-width="1.3" />
<line x1="31.55" y1="134.55" x2="38.55" y2="134.55" stroke="#000" stroke-width="1.3" />
<line x1="31.55" y1="92.7" x2="38.55" y2="92.7" stroke="#000" stroke-width="1.3" />
<line x1="31.55" y1="50.85" x2="38.55" y2="50.85" stroke="#000" stroke-width="1.3" />
<line x1="183.25" y1="217.9" x2="183.25" y2="207.9" stroke="#000" stroke-width="1.0" />
<line x1="334.95" y1="217.9" x2="334.95" y2="207.9" stroke="#000" stroke-width="1.0" />
<line x1="486.65" y1="217.9" x2="486.65" y2="207.9" stroke="#000" stroke-width="1.0" />
<line x1="107.4" y1="217.9" x2="107.4" y2="213.4" stroke="#000" stroke-width="1.0" />
<line x1="259.1" y1="217.9" x2="259.1" y2="213.4" stroke="#000" stroke-width="1.0" />
<line x1="410.8" y1="217.9" x2="410.8" y2="213.4" stroke="#000" stroke-width="1.0" />
<line x1="562.5" y1="217.9" x2="562.5" y2="213.4" stroke="#000" stroke-width="1.0" />
<text transform="translate(29.05,225.85) scale(0.69,1)" font-size="21.5" text-anchor="end" >0</text>
<text transform="translate(29.05,184) scale(0.69,1)" font-size="21.5" text-anchor="end" >1</text>
<text transform="translate(29.05,142.15) scale(0.69,1)" font-size="21.5" text-anchor="end" >2</text>
<text transform="translate(29.05,100.3) scale(0.69,1)" font-size="21.5" text-anchor="end" >3</text>
<text transform="translate(29.05,58.45) scale(0.69,1)" font-size="21.5" text-anchor="end" >4</text>
<text transform="translate(29.05,16.6) scale(0.69,1)" font-size="21.5" text-anchor="end" >5</text>
<text transform="translate(31.55,238.9) scale(0.69,1)" font-size="21.5" text-anchor="middle" >0</text>
<text transform="translate(183.25,238.9) scale(0.69,1)" font-size="21.5" text-anchor="middle" >2</text>
<text transform="translate(334.95,238.9) scale(0.69,1)" font-size="21.5" text-anchor="middle" >4</text>
<text transform="translate(486.65,238.9) scale(0.69,1)" font-size="21.5" text-anchor="middle" >6</text>
<text transform="translate(319.3,254.3) scale(0.69,1)" font-size="26" text-anchor="middle" >ε</text>
<text transform="translate(15.7,113) scale(0.69,1) rotate(-90)" font-size="21.5" text-anchor="middle" font-style="italic">A,R</text>
<text transform="translate(103.5,113.1) scale(0.69,1)" font-size="21.5" text-anchor="middle" >PL</text>
<text transform="translate(239.5,52.3) scale(0.69,1)" font-size="21.5" text-anchor="middle" >EO</text>
<text transform="translate(348,113.5) scale(0.69,1)" font-size="21.5" text-anchor="middle" >SD</text>
<text transform="translate(502,115.5) scale(0.69,1)" font-size="21.5" text-anchor="middle" >RO</text>
<text transform="translate(562.5,43.7) scale(0.69,1)" font-size="21.5" text-anchor="middle" >(a)</text>
<text transform="translate(213,201.3) scale(0.69,1)" font-size="26" text-anchor="middle" >ε</text>
<text transform="translate(220.8,210.1) scale(0.69,1)" font-size="14" text-anchor="middle" >cb</text>
<text transform="translate(259,201.3) scale(0.69,1)" font-size="26" text-anchor="middle" >ε</text>
<text transform="translate(266.2,210.1) scale(0.69,1)" font-size="14" text-anchor="middle" >cf</text>
<polyline points="32.8,347.5 33,344.92 33.21,342.36 33.41,339.82 33.61,337.31 33.81,334.84 34.02,332.44 34.22,330.09 34.42,327.83 34.63,325.65 34.83,323.56 35.03,321.59 35.24,319.72 35.44,317.98 35.64,316.37 35.84,314.89 36.05,313.56 36.25,312.37 36.45,311.34 36.66,310.47 36.86,309.76 37.06,309.22 37.27,308.85 37.47,308.64 37.67,308.61 37.88,308.74 38.08,309.05 38.28,309.53 38.48,310.17 38.69,310.98 38.89,311.94 39.09,313.06 39.3,314.34 39.5,315.76 39.7,317.32 39.9,319.01 40.11,320.83 40.31,322.76 40.51,324.8 40.72,326.94 40.92,329.18 41.12,331.49 41.33,333.87 41.53,336.32 41.73,338.81 41.93,341.34 42.14,343.9 42.34,346.47 42.54,349.05 42.75,351.62 42.95,354.17 43.15,356.69 43.36,359.18 43.56,361.61 43.76,363.98 43.96,366.28 44.17,368.49 44.37,370.61 44.57,372.64 44.78,374.55 44.98,376.34 45.18,378 45.39,379.54 45.59,380.93 45.79,382.17 45.99,383.26 46.2,384.2 46.4,384.97 46.6,385.58 46.81,386.02 47.01,386.3 47.21,386.4 47.42,386.33 47.62,386.09 47.82,385.68 48.02,385.11 48.23,384.37 48.43,383.46 48.63,382.4 48.84,381.19 49.04,379.83 49.24,378.32 49.45,376.68 49.65,374.92 49.85,373.03 50.05,371.03 50.26,368.92 50.46,366.73 50.66,364.44 50.87,362.09 51.07,359.67 51.27,357.19 51.48,354.68 51.68,352.13 51.88,349.56 52.08,346.98 52.29,344.41 52.49,341.85 52.69,339.31 52.9,336.81 53.1,334.36 53.3,331.96 53.51,329.63 53.71,327.38 53.91,325.22 54.11,323.16 54.32,321.2 54.52,319.36 54.72,317.65 54.93,316.06 55.13,314.61 55.33,313.31 55.54,312.15 55.74,311.16 55.94,310.32 56.14,309.64 56.35,309.13 56.55,308.79 56.75,308.62 56.96,308.62 57.16,308.79 57.36,309.13 57.57,309.64 57.77,310.32 57.97,311.16 58.17,312.15 58.38,313.31 58.58,314.61 58.78,316.06 58.99,317.65 59.19,319.36 59.39,321.2 59.6,323.16 59.8,325.22 60,327.38 60.2,329.63 60.41,331.96 60.61,334.36 60.81,336.81 61.02,339.31 61.22,341.85 61.42,344.41 61.63,346.98 61.83,349.56 62.03,352.13 62.23,354.68 62.44,357.19 62.64,359.67 62.84,362.09 63.05,364.44 63.25,366.73 63.45,368.92 63.66,371.03 63.86,373.03 64.06,374.92 64.27,376.68 64.47,378.32 64.67,379.83 64.87,381.19 65.08,382.4 65.28,383.46 65.48,384.37 65.69,385.11 65.89,385.68 66.09,386.09 66.29,386.33 66.5,386.4 66.7,386.3 66.9,386.02 67.11,385.58 67.31,384.97 67.51,384.2 67.72,383.26 67.92,382.17 68.12,380.93 68.32,379.54 68.53,378 68.73,376.34 68.93,374.55 69.14,372.64 69.34,370.61 69.54,368.49 69.75,366.28 69.95,363.98 70.15,361.61 70.35,359.18 70.56,356.69 70.76,354.17 70.96,351.62 71.17,349.05 71.37,346.47 71.57,343.9 71.78,341.34 71.98,338.81 72.18,336.32 72.38,333.87 72.59,331.49 72.79,329.18 72.99,326.94 73.2,324.8 73.4,322.76 73.6,320.83 73.81,319.01 74.01,317.32 74.21,315.76 74.41,314.34 74.62,313.06 74.82,311.94 75.02,310.98 75.23,310.17 75.43,309.53 75.63,309.05 75.84,308.74 76.04,308.61 76.24,308.64 76.44,308.85 76.65,309.22 76.85,309.76 77.05,310.47 77.26,311.34 77.46,312.37 77.66,313.56 77.87,314.89 78.07,316.37 78.27,317.98 78.47,319.72 78.68,321.59 78.88,323.56 79.08,325.65 79.29,327.83 79.49,330.09 79.69,332.44 79.9,334.84 80.1,337.31 80.3,339.82 80.5,342.36 80.71,344.92 80.91,347.5 81.11,350.08 81.32,352.64 81.52,355.18 81.72,357.69 81.93,360.16 82.13,362.56 82.33,364.91 82.53,367.17 82.74,369.35 82.94,371.44 83.14,373.41 83.35,375.28 83.55,377.02 83.75,378.63 83.96,380.11 84.16,381.44 84.36,382.63 84.56,383.66 84.77,384.53 84.97,385.24 85.17,385.78 85.38,386.15 85.58,386.36 85.78,386.39 85.99,386.26 86.19,385.95 86.39,385.47 86.59,384.83 86.8,384.02 87,383.06 87.2,381.94 87.41,380.66 87.61,379.24 87.81,377.68 88.02,375.99 88.22,374.17 88.42,372.24 88.62,370.2 88.83,368.06 89.03,365.82 89.23,363.51 89.44,361.13 89.64,358.68 89.84,356.19 90.05,353.66 90.25,351.1 90.45,348.53 90.66,345.95 90.86,343.38 91.06,340.83 91.26,338.31 91.47,335.82 91.67,333.39 91.87,331.02 92.08,328.72 92.28,326.51 92.48,324.39 92.69,322.36 92.89,320.45 93.09,318.66 93.29,317 93.5,315.46 93.7,314.07 93.9,312.83 94.11,311.74 94.31,310.8 94.51,310.03 94.72,309.42 94.92,308.98 95.12,308.7 95.32,308.6 95.53,308.67 95.73,308.91 95.93,309.32 96.14,309.89 96.34,310.63 96.54,311.54 96.74,312.6 96.95,313.81 97.15,315.17 97.35,316.68 97.56,318.32 97.76,320.08 97.96,321.97 98.17,323.97 98.37,326.08 98.57,328.27 98.77,330.56 98.98,332.91 99.18,335.33 99.38,337.81 99.59,340.32 99.79,342.87 99.99,345.44 100.2,348.02 100.4,350.59 100.6,353.15 100.8,355.69 101.01,358.19 101.21,360.64 101.41,363.04 101.62,365.37 101.82,367.62 102.02,369.78 102.23,371.84 102.43,373.8 102.63,375.64 102.83,377.35 103.04,378.94 103.24,380.39 103.44,381.69 103.65,382.85 103.85,383.84 104.05,384.68 104.26,385.36 104.46,385.87 104.66,386.21 104.86,386.38 105.07,386.38 105.27,386.21 105.47,385.87 105.68,385.36 105.88,384.68 106.08,383.84 106.29,382.85 106.49,381.69 106.69,380.39 106.89,378.94 107.1,377.35 107.3,375.64 107.5,373.8 107.71,371.84 107.91,369.78 108.11,367.62 108.32,365.37 108.52,363.04 108.72,360.64 108.92,358.19 109.13,355.69 109.33,353.15 109.53,350.59 109.74,348.02 109.94,345.44 110.14,342.87 110.35,340.32 110.55,337.81 110.75,335.33 110.95,332.91 111.16,330.56 111.36,328.27 111.56,326.08 111.77,323.97 111.97,321.97 112.17,320.08 112.38,318.32 112.58,316.68 112.78,315.17 112.98,313.81 113.19,312.6 113.39,311.54 113.59,310.63 113.8,309.89 114,309.32 114.2,308.91 114.41,308.67 114.61,308.6 114.81,308.7 115.02,308.98 115.22,309.42 115.42,310.03 115.62,310.8 115.83,311.74 116.03,312.83 116.23,314.07 116.44,315.46 116.64,317 116.84,318.66 117.05,320.45 117.25,322.36 117.45,324.39 117.65,326.51 117.86,328.72 118.06,331.02 118.26,333.39 118.47,335.82 118.67,338.31 118.87,340.83 119.08,343.38 119.28,345.95 119.48,348.53 119.68,351.1 119.89,353.66 120.09,356.19 120.29,358.68 120.5,361.13 120.7,363.51 120.9,365.82 121.1,368.06 121.31,370.2 121.51,372.24 121.71,374.17 121.92,375.99 122.12,377.68 122.32,379.24 122.53,380.66 122.73,381.94 122.93,383.06 123.14,384.02 123.34,384.83 123.54,385.47 123.74,385.95 123.95,386.26 124.15,386.39 124.35,386.36 124.56,386.15 124.76,385.78 124.96,385.24 125.16,384.53 125.37,383.66 125.57,382.63 125.77,381.44 125.98,380.11 126.18,378.63 126.38,377.02 126.59,375.28 126.79,373.41 126.99,371.44 127.19,369.35 127.4,367.17 127.6,364.91 127.8,362.56 128.01,360.16 128.21,357.69 128.41,355.18 128.62,352.64 128.82,350.08 129.02,347.5 129.22,344.92 129.43,342.36 129.63,339.82 129.83,337.31 130.04,334.84 130.24,332.44 130.44,330.09 130.65,327.83 130.85,325.65 131.05,323.56 131.25,321.59 131.46,319.72 131.66,317.98 131.86,316.37 132.07,314.89 132.27,313.56 132.47,312.37 132.68,311.34 132.88,310.47 133.08,309.76 133.28,309.22 133.49,308.85 133.69,308.64 133.89,308.61 134.1,308.74 134.3,309.05 134.5,309.53 134.71,310.17 134.91,310.98 135.11,311.94 135.31,313.06 135.52,314.34 135.72,315.76 135.92,317.32 136.13,319.01 136.33,320.83 136.53,322.76 136.74,324.8 136.94,326.94 137.14,329.18 137.34,331.49 137.55,333.87 137.75,336.32 137.95,338.81 138.16,341.34 138.36,343.9 138.56,346.47 138.77,349.05 138.97,351.62 139.17,354.17 139.38,356.69 139.58,359.18 139.78,361.61 139.98,363.98 140.19,366.28 140.39,368.49 140.59,370.61 140.8,372.64 141,374.55 141.2,376.34 141.4,378 141.61,379.54 141.81,380.93 142.01,382.17 142.22,383.26 142.42,384.2 142.62,384.97 142.83,385.58 143.03,386.02 143.23,386.3 143.44,386.4 143.64,386.33 143.84,386.09 144.04,385.68 144.25,385.11 144.45,384.37 144.65,383.46 144.86,382.4 145.06,381.19 145.26,379.83 145.46,378.32 145.67,376.68 145.87,374.92 146.07,373.03 146.28,371.03 146.48,368.92 146.68,366.73 146.89,364.44 147.09,362.09 147.29,359.67 147.49,357.19 147.7,354.68 147.9,352.13 148.1,349.56 148.31,346.98 148.51,344.41 148.71,341.85 148.92,339.31 149.12,336.81 149.32,334.36 149.52,331.96 149.73,329.63 149.93,327.38 150.13,325.22 150.34,323.16 150.54,321.2 150.74,319.36 150.95,317.65 151.15,316.06 151.35,314.61 151.56,313.31 151.76,312.15 151.96,311.16 152.16,310.32 152.37,309.64 152.57,309.13 152.77,308.79 152.98,308.62 153.18,308.62 153.38,308.79 153.58,309.13 153.79,309.64 153.99,310.32 154.19,311.16 154.4,312.15 154.6,313.31" fill="none" stroke="#40e0d0" stroke-width="1.3" />
<polyline points="32.8,319.72 33,317.98 33.21,316.37 33.41,314.89 33.61,313.56 33.81,312.37 34.02,311.34 34.22,310.47 34.42,309.76 34.63,309.22 34.83,308.85 35.03,308.64 35.24,308.61 35.44,308.74 35.64,309.05 35.84,309.53 36.05,310.17 36.25,310.98 36.45,311.94 36.66,313.06 36.86,314.34 37.06,315.76 37.27,317.32 37.47,319.01 37.67,320.83 37.88,322.76 38.08,324.8 38.28,326.94 38.48,329.18 38.69,331.49 38.89,333.87 39.09,336.32 39.3,338.81 39.5,341.34 39.7,343.9 39.9,346.47 40.11,349.05 40.31,351.62 40.51,354.17 40.72,356.69 40.92,359.18 41.12,361.61 41.33,363.98 41.53,366.28 41.73,368.49 41.93,370.61 42.14,372.64 42.34,374.55 42.54,376.34 42.75,378 42.95,379.54 43.15,380.93 43.36,382.17 43.56,383.26 43.76,384.2 43.96,384.97 44.17,385.58 44.37,386.02 44.57,386.3 44.78,386.4 44.98,386.33 45.18,386.09 45.39,385.68 45.59,385.11 45.79,384.37 45.99,383.46 46.2,382.4 46.4,381.19 46.6,379.83 46.81,378.32 47.01,376.68 47.21,374.92 47.42,373.03 47.62,371.03 47.82,368.92 48.02,366.73 48.23,364.44 48.43,362.09 48.63,359.67 48.84,357.19 49.04,354.68 49.24,352.13 49.45,349.56 49.65,346.98 49.85,344.41 50.05,341.85 50.26,339.31 50.46,336.81 50.66,334.36 50.87,331.96 51.07,329.63 51.27,327.38 51.48,325.22 51.68,323.16 51.88,321.2 52.08,319.36 52.29,317.65 52.49,316.06 52.69,314.61 52.9,313.31 53.1,312.15 53.3,311.16 53.51,310.32 53.71,309.64 53.91,309.13 54.11,308.79 54.32,308.62 54.52,308.62 54.72,308.79 54.93,309.13 55.13,309.64 55.33,310.32 55.54,311.16 55.74,312.15 55.94,313.31 56.14,314.61 56.35,316.06 56.55,317.65 56.75,319.36 56.96,321.2 57.16,323.16 57.36,325.22 57.57,327.38 57.77,329.63 57.97,331.96 58.17,334.36 58.38,336.81 58.58,339.31 58.78,341.85 58.99,344.41 59.19,346.98 59.39,349.56 59.6,352.13 59.8,354.68 60,357.19 60.2,359.67 60.41,362.09 60.61,364.44 60.81,366.73 61.02,368.92 61.22,371.03 61.42,373.03 61.63,374.92 61.83,376.68 62.03,378.32 62.23,379.83 62.44,381.19 62.64,382.4 62.84,383.46 63.05,384.37 63.25,385.11 63.45,385.68 63.66,386.09 63.86,386.33 64.06,386.4 64.27,386.3 64.47,386.02 64.67,385.58 64.87,384.97 65.08,384.2 65.28,383.26 65.48,382.17 65.69,380.93 65.89,379.54 66.09,378 66.29,376.34 66.5,374.55 66.7,372.64 66.9,370.61 67.11,368.49 67.31,366.28 67.51,363.98 67.72,361.61 67.92,359.18 68.12,356.69 68.32,354.17 68.53,351.62 68.73,349.05 68.93,346.47 69.14,343.9 69.34,341.34 69.54,338.81 69.75,336.32 69.95,333.87 70.15,331.49 70.35,329.18 70.56,326.94 70.76,324.8 70.96,322.76 71.17,320.83 71.37,319.01 71.57,317.32 71.78,315.76 71.98,314.34 72.18,313.06 72.38,311.94 72.59,310.98 72.79,310.17 72.99,309.53 73.2,309.05 73.4,308.74 73.6,308.61 73.81,308.64 74.01,308.85 74.21,309.22 74.41,309.76 74.62,310.47 74.82,311.34 75.02,312.37 75.23,313.56 75.43,314.89 75.63,316.37 75.84,317.98 76.04,319.72 76.24,321.59 76.44,323.56 76.65,325.65 76.85,327.83 77.05,330.09 77.26,332.44 77.46,334.84 77.66,337.31 77.87,339.82 78.07,342.36 78.27,344.92 78.47,347.5 78.68,350.08 78.88,352.64 79.08,355.18 79.29,357.69 79.49,360.16 79.69,362.56 79.9,364.91 80.1,367.17 80.3,369.35 80.5,371.44 80.71,373.41 80.91,375.28 81.11,377.02 81.32,378.63 81.52,380.11 81.72,381.44 81.93,382.63 82.13,383.66 82.33,384.53 82.53,385.24 82.74,385.78 82.94,386.15 83.14,386.36 83.35,386.39 83.55,386.26 83.75,385.95 83.96,385.47 84.16,384.83 84.36,384.02 84.56,383.06 84.77,381.94 84.97,380.66 85.17,379.24 85.38,377.68 85.58,375.99 85.78,374.17 85.99,372.24 86.19,370.2 86.39,368.06 86.59,365.82 86.8,363.51 87,361.13 87.2,358.68 87.41,356.19 87.61,353.66 87.81,351.1 88.02,348.53 88.22,345.95 88.42,343.38 88.62,340.83 88.83,338.31 89.03,335.82 89.23,333.39 89.44,331.02 89.64,328.72 89.84,326.51 90.05,324.39 90.25,322.36 90.45,320.45 90.66,318.66 90.86,317 91.06,315.46 91.26,314.07 91.47,312.83 91.67,311.74 91.87,310.8 92.08,310.03 92.28,309.42 92.48,308.98 92.69,308.7 92.89,308.6 93.09,308.67 93.29,308.91 93.5,309.32 93.7,309.89 93.9,310.63 94.11,311.54 94.31,312.6 94.51,313.81 94.72,315.17 94.92,316.68 95.12,318.32 95.32,320.08 95.53,321.97 95.73,323.97 95.93,326.08 96.14,328.27 96.34,330.56 96.54,332.91 96.74,335.33 96.95,337.81 97.15,340.32 97.35,342.87 97.56,345.44 97.76,348.02 97.96,350.59 98.17,353.15 98.37,355.69 98.57,358.19 98.77,360.64 98.98,363.04 99.18,365.37 99.38,367.62 99.59,369.78 99.79,371.84 99.99,373.8 100.2,375.64 100.4,377.35 100.6,378.94 100.8,380.39 101.01,381.69 101.21,382.85 101.41,383.84 101.62,384.68 101.82,385.36 102.02,385.87 102.23,386.21 102.43,386.38 102.63,386.38 102.83,386.21 103.04,385.87 103.24,385.36 103.44,384.68 103.65,383.84 103.85,382.85 104.05,381.69 104.26,380.39 104.46,378.94 104.66,377.35 104.86,375.64 105.07,373.8 105.27,371.84 105.47,369.78 105.68,367.62 105.88,365.37 106.08,363.04 106.29,360.64 106.49,358.19 106.69,355.69 106.89,353.15 107.1,350.59 107.3,348.02 107.5,345.44 107.71,342.87 107.91,340.32 108.11,337.81 108.32,335.33 108.52,332.91 108.72,330.56 108.92,328.27 109.13,326.08 109.33,323.97 109.53,321.97 109.74,320.08 109.94,318.32 110.14,316.68 110.35,315.17 110.55,313.81 110.75,312.6 110.95,311.54 111.16,310.63 111.36,309.89 111.56,309.32 111.77,308.91 111.97,308.67 112.17,308.6 112.38,308.7 112.58,308.98 112.78,309.42 112.98,310.03 113.19,310.8 113.39,311.74 113.59,312.83 113.8,314.07 114,315.46 114.2,317 114.41,318.66 114.61,320.45 114.81,322.36 115.02,324.39 115.22,326.51 115.42,328.72 115.62,331.02 115.83,333.39 116.03,335.82 116.23,338.31 116.44,340.83 116.64,343.38 116.84,345.95 117.05,348.53 117.25,351.1 117.45,353.66 117.65,356.19 117.86,358.68 118.06,361.13 118.26,363.51 118.47,365.82 118.67,368.06 118.87,370.2 119.08,372.24 119.28,374.17 119.48,375.99 119.68,377.68 119.89,379.24 120.09,380.66 120.29,381.94 120.5,383.06 120.7,384.02 120.9,384.83 121.1,385.47 121.31,385.95 121.51,386.26 121.71,386.39 121.92,386.36 122.12,386.15 122.32,385.78 122.53,385.24 122.73,384.53 122.93,383.66 123.14,382.63 123.34,381.44 123.54,380.11 123.74,378.63 123.95,377.02 124.15,375.28 124.35,373.41 124.56,371.44 124.76,369.35 124.96,367.17 125.16,364.91 125.37,362.56 125.57,360.16 125.77,357.69 125.98,355.18 126.18,352.64 126.38,350.08 126.59,347.5 126.79,344.92 126.99,342.36 127.19,339.82 127.4,337.31 127.6,334.84 127.8,332.44 128.01,330.09 128.21,327.83 128.41,325.65 128.62,323.56 128.82,321.59 129.02,319.72 129.22,317.98 129.43,316.37 129.63,314.89 129.83,313.56 130.04,312.37 130.24,311.34 130.44,310.47 130.65,309.76 130.85,309.22 131.05,308.85 131.25,308.64 131.46,308.61 131.66,308.74 131.86,309.05 132.07,309.53 132.27,310.17 132.47,310.98 132.68,311.94 132.88,313.06 133.08,314.34 133.28,315.76 133.49,317.32 133.69,319.01 133.89,320.83 134.1,322.76 134.3,324.8 134.5,326.94 134.71,329.18 134.91,331.49 135.11,333.87 135.31,336.32 135.52,338.81 135.72,341.34 135.92,343.9 136.13,346.47 136.33,349.05 136.53,351.62 136.74,354.17 136.94,356.69 137.14,359.18 137.34,361.61 137.55,363.98 137.75,366.28 137.95,368.49 138.16,370.61 138.36,372.64 138.56,374.55 138.77,376.34 138.97,378 139.17,379.54 139.38,380.93 139.58,382.17 139.78,383.26 139.98,384.2 140.19,384.97 140.39,385.58 140.59,386.02 140.8,386.3 141,386.4 141.2,386.33 141.4,386.09 141.61,385.68 141.81,385.11 142.01,384.37 142.22,383.46 142.42,382.4 142.62,381.19 142.83,379.83 143.03,378.32 143.23,376.68 143.44,374.92 143.64,373.03 143.84,371.03 144.04,368.92 144.25,366.73 144.45,364.44 144.65,362.09 144.86,359.67 145.06,357.19 145.26,354.68 145.46,352.13 145.67,349.56 145.87,346.98 146.07,344.41 146.28,341.85 146.48,339.31 146.68,336.81 146.89,334.36 147.09,331.96 147.29,329.63 147.49,327.38 147.7,325.22 147.9,323.16 148.1,321.2 148.31,319.36 148.51,317.65 148.71,316.06 148.92,314.61 149.12,313.31 149.32,312.15 149.52,311.16 149.73,310.32 149.93,309.64 150.13,309.13 150.34,308.79 150.54,308.62 150.74,308.62 150.95,308.79 151.15,309.13 151.35,309.64 151.56,310.32 151.76,311.16 151.96,312.15 152.16,313.31 152.37,314.61 152.57,316.06 152.77,317.65 152.98,319.36 153.18,321.2 153.38,323.16 153.58,325.22 153.79,327.38 153.99,329.63 154.19,331.96 154.4,334.36 154.6,336.81" fill="none" stroke="#7d26cd" stroke-width="1.5" stroke-dasharray="8.3 3.5"/>
<line x1="32.8" y1="276" x2="32.8" y2="394.6" stroke="#6c6c6c" stroke-width="1.5" />
<line x1="154.6" y1="276" x2="154.6" y2="394.6" stroke="#6c6c6c" stroke-width="1.5" />
<line x1="32.8" y1="276.8" x2="154.6" y2="276.8" stroke="#5c5c5c" stroke-width="1.6" />
<line x1="32.8" y1="393.8" x2="154.6" y2="393.8" stroke="#5c5c5c" stroke-width="1.6" />
<line x1="32.8" y1="308.6" x2="39.8" y2="308.6" stroke="#000" stroke-width="1.3" />
<text transform="translate(29.8,315.1) scale(0.69,1)" font-size="21.5" text-anchor="end" >1</text>
<line x1="32.8" y1="347.5" x2="39.8" y2="347.5" stroke="#000" stroke-width="1.3" />
<text transform="translate(29.8,354) scale(0.69,1)" font-size="21.5" text-anchor="end" >0</text>
<line x1="32.8" y1="386.4" x2="39.8" y2="386.4" stroke="#000" stroke-width="1.3" />
<text transform="translate(29.8,392.9) scale(0.69,1)" font-size="21.5" text-anchor="end" >-1</text>
<text transform="translate(32.8,414.7) scale(0.69,1)" font-size="21.5" text-anchor="middle" >0</text>
<line x1="57.16" y1="393.8" x2="57.16" y2="384.2" stroke="#000" stroke-width="1.0" />
<text transform="translate(57.16,414.7) scale(0.69,1)" font-size="21.5" text-anchor="middle" >2</text>
<line x1="81.52" y1="393.8" x2="81.52" y2="384.2" stroke="#000" stroke-width="1.0" />
<text transform="translate(81.52,414.7) scale(0.69,1)" font-size="21.5" text-anchor="middle" >4</text>
<line x1="105.88" y1="393.8" x2="105.88" y2="384.2" stroke="#000" stroke-width="1.0" />
<text transform="translate(105.88,414.7) scale(0.69,1)" font-size="21.5" text-anchor="middle" >6</text>
<line x1="130.24" y1="393.8" x2="130.24" y2="384.2" stroke="#000" stroke-width="1.0" />
<text transform="translate(130.24,414.7) scale(0.69,1)" font-size="21.5" text-anchor="middle" >8</text>
<text transform="translate(154.6,414.7) scale(0.69,1)" font-size="21.5" text-anchor="middle" >10</text>
<text transform="translate(94.6,299.7) scale(0.69,1)" font-size="21.5" text-anchor="middle" >PL</text>
<text transform="translate(135,300) scale(0.69,1)" font-size="21.5" text-anchor="middle" >(b)</text>
<text transform="translate(93,432) scale(0.69,1)" font-size="23" text-anchor="middle" font-style="italic" >t</text>
<text transform="translate(9.2,337.5) scale(0.69,1) rotate(-90)" font-size="24.5" text-anchor="middle" font-style="italic" stroke="#000" stroke-width="0.35">x</text>
<text transform="translate(16,329) scale(0.69,1) rotate(-90)" font-size="17" text-anchor="middle" font-style="italic" stroke="#000" stroke-width="0.25">i</text>
<polyline points="187.5,363.88 187.71,366.08 187.92,368.94 188.13,372.18 188.34,375.57 188.55,378.97 188.76,382.31 188.97,385.42 189.18,387.96 189.39,389.44 189.6,389.91 189.81,389.6 190.02,388.84 190.23,387.91 190.44,386.88 190.65,385.81 190.86,384.72 191.07,383.63 191.28,382.54 191.49,381.44 191.7,380.35 191.91,379.26 192.12,378.17 192.33,377.09 192.54,376.04 192.75,375.04 192.96,374.1 193.17,373.21 193.38,372.34 193.59,371.47 193.8,370.61 194.01,369.75 194.22,368.89 194.43,368.03 194.64,367.17 194.85,366.31 195.06,365.45 195.27,364.59 195.48,363.73 195.69,362.87 195.9,362.01 196.11,361.16 196.32,360.31 196.53,359.49 196.74,358.71 196.95,357.96 197.16,357.25 197.37,356.54 197.58,355.84 197.79,355.13 198,354.43 198.21,353.73 198.42,353.02 198.63,352.32 198.84,351.61 199.05,350.87 199.26,350.08 199.47,349.17 199.68,348.16 199.89,347.08 200.1,345.95 200.31,344.81 200.52,343.66 200.73,342.52 200.94,341.38 201.15,340.23 201.36,339.09 201.57,337.93 201.78,336.7 201.99,335.37 202.2,333.88 202.41,332.24 202.62,330.51 202.83,328.74 203.04,326.96 203.25,325.18 203.46,323.39 203.67,321.54 203.88,319.59 204.09,317.5 204.3,315.26 204.51,312.95 204.72,310.6 204.93,308.24 205.14,305.87 205.35,303.5 205.56,301.37 205.77,299.92 205.98,299.86 206.19,301.69 206.4,305.12 206.61,309.65 206.82,314.78 207.03,320.26 207.24,326.05 207.45,332.16 207.66,338.49 207.87,344.92 208.08,351.35 208.29,357.65 208.5,363.69 208.71,369.4 208.92,374.76 209.13,379.64 209.34,383.81 209.55,386.95 209.76,389.01 209.97,390.02 210.18,390.15 210.39,389.72 210.6,388.93 210.81,388 211.02,386.98 211.23,385.91 211.44,384.83 211.65,383.74 211.86,382.64 212.07,381.55 212.28,380.46 212.49,379.37 212.7,378.28 212.91,377.2 213.12,376.14 213.33,375.14 213.54,374.19 213.75,373.29 213.96,372.42 214.17,371.56 214.38,370.7 214.59,369.84 214.8,368.98 215.01,368.12 215.22,367.26 215.43,366.4 215.64,365.54 215.85,364.68 216.06,363.82 216.27,362.96 216.48,362.1 216.69,361.24 216.9,360.39 217.11,359.57 217.32,358.79 217.53,358.04 217.74,357.32 217.95,356.61 218.16,355.91 218.37,355.2 218.58,354.5 218.79,353.8 219,353.09 219.21,352.39 219.42,351.68 219.63,350.95 219.84,350.16 220.05,349.27 220.26,348.27 220.47,347.19 220.68,346.06 220.89,344.92 221.1,343.78 221.31,342.63 221.52,341.49 221.73,340.35 221.94,339.2 222.15,338.04 222.36,336.83 222.57,335.51 222.78,334.04 222.99,332.41 223.2,330.68 223.41,328.92 223.62,327.14 223.83,325.36 224.04,323.57 224.25,321.73 224.46,319.79 224.67,317.71 224.88,315.49 225.09,313.18 225.3,310.84 225.51,308.48 225.72,306.1 225.93,303.73 226.14,301.56 226.35,300.03 226.56,299.73 226.77,301.41 226.98,304.72 227.19,309.16 227.4,314.25 227.61,319.71 227.82,325.45 228.03,331.53 228.24,337.85 228.45,344.28 228.66,350.71 228.87,357.03 229.08,363.11 229.29,368.84 229.5,374.25 229.71,379.18 229.92,383.42 230.13,386.7 230.34,388.84 230.55,389.97 230.76,390.17 230.97,389.77 231.18,389.02 231.39,388.1 231.6,387.09 231.81,386.02 232.02,384.94 232.23,383.85 232.44,382.75 232.65,381.66 232.86,380.57 233.07,379.48 233.28,378.39 233.49,377.31 233.7,376.25 233.91,375.24 234.12,374.28 234.33,373.38 234.54,372.51 234.75,371.65 234.96,370.78 235.17,369.92 235.38,369.06 235.59,368.2 235.8,367.34 236.01,366.48 236.22,365.62 236.43,364.76 236.64,363.9 236.85,363.04 237.06,362.18 237.27,361.33 237.48,360.48 237.69,359.65 237.9,358.86 238.11,358.11 238.32,357.39 238.53,356.68 238.74,355.98 238.95,355.27 239.16,354.57 239.37,353.87 239.58,353.16 239.79,352.46 240,351.75 240.21,351.02 240.42,350.24 240.63,349.37 240.84,348.37 241.05,347.3 241.26,346.17 241.47,345.03 241.68,343.89 241.89,342.75 242.1,341.61 242.31,340.46 242.52,339.32 242.73,338.16 242.94,336.96 243.15,335.65 243.36,334.19 243.57,332.58 243.78,330.86 243.99,329.09 244.2,327.32 244.41,325.54 244.62,323.75 244.83,321.92 245.04,319.99 245.25,317.92 245.46,315.72 245.67,313.41 245.88,311.07 246.09,308.71 246.3,306.34 246.51,303.97 246.72,301.75 246.93,300.14 247.14,299.73 247.35,301.16 247.56,304.32 247.77,308.69 247.98,313.73 248.19,319.15 248.4,324.87 248.61,330.91 248.82,337.21 249.03,343.64 249.24,350.07 249.45,356.4 249.66,362.51 249.87,368.28 250.08,373.72 250.29,378.72 250.5,383.03 250.71,386.42 250.92,388.67 251.13,389.93 251.34,390.18 251.55,389.83 251.76,389.11 251.97,388.2 252.18,387.19 252.39,386.13 252.6,385.05 252.81,383.95 253.02,382.86 253.23,381.77 253.44,380.68 253.65,379.59 253.86,378.5 254.07,377.41 254.28,376.35 254.49,375.34 254.7,374.37 254.91,373.47 255.12,372.6 255.33,371.73 255.54,370.87 255.75,370.01 255.96,369.15 256.17,368.29 256.38,367.43 256.59,366.57 256.8,365.71 257.01,364.85 257.22,363.99 257.43,363.13 257.64,362.27 257.85,361.41 258.06,360.56 258.27,359.73 258.48,358.94 258.69,358.19 258.9,357.46 259.11,356.75 259.32,356.05 259.53,355.34 259.74,354.64 259.95,353.94 260.16,353.24 260.37,352.53 260.58,351.82 260.79,351.1 261,350.32 261.21,349.46 261.42,348.48 261.63,347.41 261.84,346.29 262.05,345.15 262.26,344.01 262.47,342.86 262.68,341.72 262.89,340.58 263.1,339.43 263.31,338.28 263.52,337.08 263.73,335.79 263.94,334.34 264.15,332.74 264.36,331.03 264.57,329.27 264.78,327.5 264.99,325.72 265.2,323.93 265.41,322.1 265.62,320.19 265.83,318.13 266.04,315.94 266.25,313.65 266.46,311.31 266.67,308.95 266.88,306.58 267.09,304.21 267.3,301.94 267.51,300.26 267.72,299.73 267.93,300.9 268.14,303.93 268.35,308.22 268.56,313.2 268.77,318.59 268.98,324.29 269.19,330.28 269.4,336.57 269.61,342.99 269.82,349.44 270.03,355.78 270.24,361.91 270.45,367.73 270.66,373.19 270.87,378.25 271.08,382.63 271.29,386.12 271.5,388.5 271.71,389.82 271.92,390.2 272.13,389.88 272.34,389.19 272.55,388.29 272.76,387.29 272.97,386.24 273.18,385.15 273.39,384.06 273.6,382.97 273.81,381.88 274.02,380.79 274.23,379.7 274.44,378.61 274.65,377.52 274.86,376.46 275.07,375.44 275.28,374.47 275.49,373.56 275.7,372.68 275.91,371.82 276.12,370.96 276.33,370.1 276.54,369.24 276.75,368.38 276.96,367.52 277.17,366.66 277.38,365.8 277.59,364.94 277.8,364.08 278.01,363.22 278.22,362.36 278.43,361.5 278.64,360.65 278.85,359.81 279.06,359.02 279.27,358.26 279.48,357.53 279.69,356.82 279.9,356.12 280.11,355.41 280.32,354.71 280.53,354.01 280.74,353.31 280.95,352.6 281.16,351.9 281.37,351.17 281.58,350.4 281.79,349.55 282,348.58 282.21,347.52 282.42,346.4 282.63,345.26 282.84,344.12 283.05,342.98 283.26,341.83 283.47,340.69 283.68,339.55 283.89,338.39 284.1,337.2 284.31,335.93 284.52,334.49 284.73,332.91 284.94,331.21 285.15,329.45 285.36,327.68 285.57,325.9 285.78,324.11 285.99,322.29 286.2,320.39 286.41,318.35 286.62,316.17 286.83,313.88 287.04,311.54 287.25,309.19 287.46,306.82 287.67,304.44 287.88,302.15 288.09,300.38 288.3,299.72 288.51,300.7 288.72,303.56 288.93,307.74 289.14,312.68 289.35,318.04 289.56,323.71 289.77,329.67 289.98,335.93 290.19,342.35 290.4,348.79 290.61,355.15 290.82,361.3 291.03,367.16 291.24,372.66 291.45,377.79 291.66,382.24 291.87,385.81 292.08,388.32 292.29,389.72 292.5,390.21 292.71,389.94 292.92,389.27 293.13,388.39 293.34,387.4 293.55,386.34 293.76,385.26 293.97,384.17 294.18,383.08 294.39,381.99 294.6,380.9 294.81,379.81 295.02,378.71 295.23,377.63 295.44,376.56 295.65,375.54 295.86,374.56 296.07,373.65 296.28,372.77 296.49,371.9 296.7,371.04 296.91,370.18 297.12,369.32 297.33,368.46 297.54,367.6 297.75,366.74 297.96,365.88 298.17,365.02 298.38,364.16 298.59,363.3 298.8,362.44 299.01,361.58 299.22,360.73 299.43,359.9 299.64,359.09 299.85,358.33 300.06,357.6 300.27,356.89 300.48,356.19 300.69,355.48 300.9,354.78 301.11,354.08 301.32,353.38 301.53,352.67 301.74,351.97 301.95,351.25 302.16,350.48 302.37,349.64 302.58,348.69 302.79,347.63 303,346.51 303.21,345.38 303.42,344.23 303.63,343.09 303.84,341.95 304.05,340.81 304.26,339.66 304.47,338.51 304.68,337.32 304.89,336.06 305.1,334.64 305.31,333.07 305.52,331.38 305.73,329.63 305.94,327.85 306.15,326.07 306.36,324.29 306.57,322.47 306.78,320.58 306.99,318.56 307.2,316.39 307.41,314.11 307.62,311.78 307.83,309.42 308.04,307.05 308.25,304.68 308.46,302.38 308.67,300.49 308.88,299.72 309.09,300.55 309.3,303.2 309.51,307.27 309.72,312.17 309.93,317.49 310.14,323.13 310.35,329.07 310.56,335.29 310.77,341.7 310.98,348.15 311.19,354.53 311.4,360.7 311.61,366.59 311.82,372.13 312.03,377.29 312.24,381.84 312.45,385.5 312.66,388.11 312.87,389.62 313.08,390.2 313.29,389.99 313.5,389.35" fill="none" stroke="#40e0d0" stroke-width="1.3" stroke-linejoin="round"/>
<polyline points="187.5,363.88 187.71,366.08 187.92,368.94 188.13,372.18 188.34,375.57 188.55,378.97 188.76,382.31 188.97,385.42 189.18,387.96 189.39,389.44 189.6,389.91 189.81,389.6 190.02,388.84 190.23,387.91 190.44,386.88 190.65,385.81 190.86,384.72 191.07,383.63 191.28,382.54 191.49,381.44 191.7,380.35 191.91,379.26 192.12,378.17 192.33,377.09 192.54,376.04 192.75,375.04 192.96,374.1 193.17,373.21 193.38,372.34 193.59,371.47 193.8,370.61 194.01,369.75 194.22,368.89 194.43,368.03 194.64,367.17 194.85,366.31 195.06,365.45 195.27,364.59 195.48,363.73 195.69,362.87 195.9,362.01 196.11,361.16 196.32,360.31 196.53,359.49 196.74,358.71 196.95,357.96 197.16,357.25 197.37,356.54 197.58,355.84 197.79,355.13 198,354.43 198.21,353.73 198.42,353.02 198.63,352.32 198.84,351.61 199.05,350.87 199.26,350.08 199.47,349.17 199.68,348.16 199.89,347.08 200.1,345.95 200.31,344.81 200.52,343.66 200.73,342.52 200.94,341.38 201.15,340.23 201.36,339.09 201.57,337.93 201.78,336.7 201.99,335.37 202.2,333.88 202.41,332.24 202.62,330.51 202.83,328.74 203.04,326.96 203.25,325.18 203.46,323.39 203.67,321.54 203.88,319.59 204.09,317.5 204.3,315.26 204.51,312.95 204.72,310.6 204.93,308.24 205.14,305.87 205.35,303.5 205.56,301.37 205.77,299.92 205.98,299.86 206.19,301.69 206.4,305.12 206.61,309.65 206.82,314.78 207.03,320.26 207.24,326.05 207.45,332.16 207.66,338.49 207.87,344.92 208.08,351.35 208.29,357.65 208.5,363.69 208.71,369.4 208.92,374.76 209.13,379.64 209.34,383.81 209.55,386.95 209.76,389.01 209.97,390.02 210.18,390.15 210.39,389.72 210.6,388.93 210.81,388 211.02,386.98 211.23,385.91 211.44,384.83 211.65,383.74 211.86,382.64 212.07,381.55 212.28,380.46 212.49,379.37 212.7,378.28 212.91,377.2 213.12,376.14 213.33,375.14 213.54,374.19 213.75,373.29 213.96,372.42 214.17,371.56 214.38,370.7 214.59,369.84 214.8,368.98 215.01,368.12 215.22,367.26 215.43,366.4 215.64,365.54 215.85,364.68 216.06,363.82 216.27,362.96 216.48,362.1 216.69,361.24 216.9,360.39 217.11,359.57 217.32,358.79 217.53,358.04 217.74,357.32 217.95,356.61 218.16,355.91 218.37,355.2 218.58,354.5 218.79,353.8 219,353.09 219.21,352.39 219.42,351.68 219.63,350.95 219.84,350.16 220.05,349.27 220.26,348.27 220.47,347.19 220.68,346.06 220.89,344.92 221.1,343.78 221.31,342.63 221.52,341.49 221.73,340.35 221.94,339.2 222.15,338.04 222.36,336.83 222.57,335.51 222.78,334.04 222.99,332.41 223.2,330.68 223.41,328.92 223.62,327.14 223.83,325.36 224.04,323.57 224.25,321.73 224.46,319.79 224.67,317.71 224.88,315.49 225.09,313.18 225.3,310.84 225.51,308.48 225.72,306.1 225.93,303.73 226.14,301.56 226.35,300.03 226.56,299.73 226.77,301.41 226.98,304.72 227.19,309.16 227.4,314.25 227.61,319.71 227.82,325.45 228.03,331.53 228.24,337.85 228.45,344.28 228.66,350.71 228.87,357.03 229.08,363.11 229.29,368.84 229.5,374.25 229.71,379.18 229.92,383.42 230.13,386.7 230.34,388.84 230.55,389.97 230.76,390.17 230.97,389.77 231.18,389.02 231.39,388.1 231.6,387.09 231.81,386.02 232.02,384.94 232.23,383.85 232.44,382.75 232.65,381.66 232.86,380.57 233.07,379.48 233.28,378.39 233.49,377.31 233.7,376.25 233.91,375.24 234.12,374.28 234.33,373.38 234.54,372.51 234.75,371.65 234.96,370.78 235.17,369.92 235.38,369.06 235.59,368.2 235.8,367.34 236.01,366.48 236.22,365.62 236.43,364.76 236.64,363.9 236.85,363.04 237.06,362.18 237.27,361.33 237.48,360.48 237.69,359.65 237.9,358.86 238.11,358.11 238.32,357.39 238.53,356.68 238.74,355.98 238.95,355.27 239.16,354.57 239.37,353.87 239.58,353.16 239.79,352.46 240,351.75 240.21,351.02 240.42,350.24 240.63,349.37 240.84,348.37 241.05,347.3 241.26,346.17 241.47,345.03 241.68,343.89 241.89,342.75 242.1,341.61 242.31,340.46 242.52,339.32 242.73,338.16 242.94,336.96 243.15,335.65 243.36,334.19 243.57,332.58 243.78,330.86 243.99,329.09 244.2,327.32 244.41,325.54 244.62,323.75 244.83,321.92 245.04,319.99 245.25,317.92 245.46,315.72 245.67,313.41 245.88,311.07 246.09,308.71 246.3,306.34 246.51,303.97 246.72,301.75 246.93,300.14 247.14,299.73 247.35,301.16 247.56,304.32 247.77,308.69 247.98,313.73 248.19,319.15 248.4,324.87 248.61,330.91 248.82,337.21 249.03,343.64 249.24,350.07 249.45,356.4 249.66,362.51 249.87,368.28 250.08,373.72 250.29,378.72 250.5,383.03 250.71,386.42 250.92,388.67 251.13,389.93 251.34,390.18 251.55,389.83 251.76,389.11 251.97,388.2 252.18,387.19 252.39,386.13 252.6,385.05 252.81,383.95 253.02,382.86 253.23,381.77 253.44,380.68 253.65,379.59 253.86,378.5 254.07,377.41 254.28,376.35 254.49,375.34 254.7,374.37 254.91,373.47 255.12,372.6 255.33,371.73 255.54,370.87 255.75,370.01 255.96,369.15 256.17,368.29 256.38,367.43 256.59,366.57 256.8,365.71 257.01,364.85 257.22,363.99 257.43,363.13 257.64,362.27 257.85,361.41 258.06,360.56 258.27,359.73 258.48,358.94 258.69,358.19 258.9,357.46 259.11,356.75 259.32,356.05 259.53,355.34 259.74,354.64 259.95,353.94 260.16,353.24 260.37,352.53 260.58,351.82 260.79,351.1 261,350.32 261.21,349.46 261.42,348.48 261.63,347.41 261.84,346.29 262.05,345.15 262.26,344.01 262.47,342.86 262.68,341.72 262.89,340.58 263.1,339.43 263.31,338.28 263.52,337.08 263.73,335.79 263.94,334.34 264.15,332.74 264.36,331.03 264.57,329.27 264.78,327.5 264.99,325.72 265.2,323.93 265.41,322.1 265.62,320.19 265.83,318.13 266.04,315.94 266.25,313.65 266.46,311.31 266.67,308.95 266.88,306.58 267.09,304.21 267.3,301.94 267.51,300.26 267.72,299.73 267.93,300.9 268.14,303.93 268.35,308.22 268.56,313.2 268.77,318.59 268.98,324.29 269.19,330.28 269.4,336.57 269.61,342.99 269.82,349.44 270.03,355.78 270.24,361.91 270.45,367.73 270.66,373.19 270.87,378.25 271.08,382.63 271.29,386.12 271.5,388.5 271.71,389.82 271.92,390.2 272.13,389.88 272.34,389.19 272.55,388.29 272.76,387.29 272.97,386.24 273.18,385.15 273.39,384.06 273.6,382.97 273.81,381.88 274.02,380.79 274.23,379.7 274.44,378.61 274.65,377.52 274.86,376.46 275.07,375.44 275.28,374.47 275.49,373.56 275.7,372.68 275.91,371.82 276.12,370.96 276.33,370.1 276.54,369.24 276.75,368.38 276.96,367.52 277.17,366.66 277.38,365.8 277.59,364.94 277.8,364.08 278.01,363.22 278.22,362.36 278.43,361.5 278.64,360.65 278.85,359.81 279.06,359.02 279.27,358.26 279.48,357.53 279.69,356.82 279.9,356.12 280.11,355.41 280.32,354.71 280.53,354.01 280.74,353.31 280.95,352.6 281.16,351.9 281.37,351.17 281.58,350.4 281.79,349.55 282,348.58 282.21,347.52 282.42,346.4 282.63,345.26 282.84,344.12 283.05,342.98 283.26,341.83 283.47,340.69 283.68,339.55 283.89,338.39 284.1,337.2 284.31,335.93 284.52,334.49 284.73,332.91 284.94,331.21 285.15,329.45 285.36,327.68 285.57,325.9 285.78,324.11 285.99,322.29 286.2,320.39 286.41,318.35 286.62,316.17 286.83,313.88 287.04,311.54 287.25,309.19 287.46,306.82 287.67,304.44 287.88,302.15 288.09,300.38 288.3,299.72 288.51,300.7 288.72,303.56 288.93,307.74 289.14,312.68 289.35,318.04 289.56,323.71 289.77,329.67 289.98,335.93 290.19,342.35 290.4,348.79 290.61,355.15 290.82,361.3 291.03,367.16 291.24,372.66 291.45,377.79 291.66,382.24 291.87,385.81 292.08,388.32 292.29,389.72 292.5,390.21 292.71,389.94 292.92,389.27 293.13,388.39 293.34,387.4 293.55,386.34 293.76,385.26 293.97,384.17 294.18,383.08 294.39,381.99 294.6,380.9 294.81,379.81 295.02,378.71 295.23,377.63 295.44,376.56 295.65,375.54 295.86,374.56 296.07,373.65 296.28,372.77 296.49,371.9 296.7,371.04 296.91,370.18 297.12,369.32 297.33,368.46 297.54,367.6 297.75,366.74 297.96,365.88 298.17,365.02 298.38,364.16 298.59,363.3 298.8,362.44 299.01,361.58 299.22,360.73 299.43,359.9 299.64,359.09 299.85,358.33 300.06,357.6 300.27,356.89 300.48,356.19 300.69,355.48 300.9,354.78 301.11,354.08 301.32,353.38 301.53,352.67 301.74,351.97 301.95,351.25 302.16,350.48 302.37,349.64 302.58,348.69 302.79,347.63 303,346.51 303.21,345.38 303.42,344.23 303.63,343.09 303.84,341.95 304.05,340.81 304.26,339.66 304.47,338.51 304.68,337.32 304.89,336.06 305.1,334.64 305.31,333.07 305.52,331.38 305.73,329.63 305.94,327.85 306.15,326.07 306.36,324.29 306.57,322.47 306.78,320.58 306.99,318.56 307.2,316.39 307.41,314.11 307.62,311.78 307.83,309.42 308.04,307.05 308.25,304.68 308.46,302.38 308.67,300.49 308.88,299.72 309.09,300.55 309.3,303.2 309.51,307.27 309.72,312.17 309.93,317.49 310.14,323.13 310.35,329.07 310.56,335.29 310.77,341.7 310.98,348.15 311.19,354.53 311.4,360.7 311.61,366.59 311.82,372.13 312.03,377.29 312.24,381.84 312.45,385.5 312.66,388.11 312.87,389.62 313.08,390.2 313.29,389.99 313.5,389.35" fill="none" stroke="#7d26cd" stroke-width="1.5" stroke-dasharray="8.3 3.5" stroke-linejoin="round"/>
<line x1="187.5" y1="274.1" x2="187.5" y2="395.7" stroke="#444" stroke-width="1.05" />
<line x1="313.5" y1="274.1" x2="313.5" y2="395.7" stroke="#444" stroke-width="1.05" />
<line x1="187.5" y1="274.7" x2="313.5" y2="274.7" stroke="#505050" stroke-width="1.2" />
<line x1="187.5" y1="395.1" x2="313.5" y2="395.1" stroke="#505050" stroke-width="1.2" />
<line x1="187.5" y1="293.4" x2="194.5" y2="293.4" stroke="#000" stroke-width="1.3" />
<text transform="translate(184.5,299.9) scale(0.69,1)" font-size="21.5" text-anchor="end" >2</text>
<line x1="187.5" y1="325.4" x2="194.5" y2="325.4" stroke="#000" stroke-width="1.3" />
<text transform="translate(184.5,331.9) scale(0.69,1)" font-size="21.5" text-anchor="end" >1</text>
<line x1="187.5" y1="357.4" x2="194.5" y2="357.4" stroke="#000" stroke-width="1.3" />
<text transform="translate(184.5,363.9) scale(0.69,1)" font-size="21.5" text-anchor="end" >0</text>
<line x1="187.5" y1="389.4" x2="194.5" y2="389.4" stroke="#000" stroke-width="1.3" />
<text transform="translate(184.5,395.9) scale(0.69,1)" font-size="21.5" text-anchor="end" >-1</text>
<text transform="translate(187.5,414.6) scale(0.69,1)" font-size="21.5" text-anchor="middle" >0</text>
<line x1="212.7" y1="395.1" x2="212.7" y2="385.5" stroke="#000" stroke-width="1.0" />
<text transform="translate(212.7,414.6) scale(0.69,1)" font-size="21.5" text-anchor="middle" >2</text>
<line x1="237.9" y1="395.1" x2="237.9" y2="385.5" stroke="#000" stroke-width="1.0" />
<text transform="translate(237.9,414.6) scale(0.69,1)" font-size="21.5" text-anchor="middle" >4</text>
<line x1="263.1" y1="395.1" x2="263.1" y2="385.5" stroke="#000" stroke-width="1.0" />
<text transform="translate(263.1,414.6) scale(0.69,1)" font-size="21.5" text-anchor="middle" >6</text>
<line x1="288.3" y1="395.1" x2="288.3" y2="385.5" stroke="#000" stroke-width="1.0" />
<text transform="translate(288.3,414.6) scale(0.69,1)" font-size="21.5" text-anchor="middle" >8</text>
<text transform="translate(313.5,414.6) scale(0.69,1)" font-size="21.5" text-anchor="middle" >10</text>
<text transform="translate(253.5,295.8) scale(0.69,1)" font-size="21.5" text-anchor="middle" >EO</text>
<text transform="translate(298.3,296.5) scale(0.69,1)" font-size="21.5" text-anchor="middle" >(c)</text>
<text transform="translate(250,433) scale(0.69,1)" font-size="23" text-anchor="middle" font-style="italic" >t</text>
<line x1="349.5" y1="324.2" x2="466.6" y2="324.2" stroke="#7d26cd" stroke-width="1.5" stroke-dasharray="5.8 2.4"/>
<line x1="349.5" y1="324.2" x2="466.6" y2="324.2" stroke="#40e0d0" stroke-width="1.5" stroke-dasharray="3.4 4.8" stroke-dashoffset="-1.2"/>
<line x1="348.9" y1="273.68" x2="348.9" y2="395.12" stroke="#707070" stroke-width="1.3" />
<line x1="466.6" y1="273.68" x2="466.6" y2="395.12" stroke="#707070" stroke-width="1.3" />
<line x1="348.9" y1="274.3" x2="466.6" y2="274.3" stroke="#606060" stroke-width="1.25" />
<line x1="348.9" y1="394.5" x2="466.6" y2="394.5" stroke="#606060" stroke-width="1.25" />
<text transform="translate(345.9,280.8) scale(0.69,1)" font-size="21.5" text-anchor="end" >0.2</text>
<line x1="348.9" y1="334.3" x2="355.9" y2="334.3" stroke="#000" stroke-width="1.3" />
<text transform="translate(345.9,340.8) scale(0.69,1)" font-size="21.5" text-anchor="end" >0.1</text>
<text transform="translate(345.9,401) scale(0.69,1)" font-size="21.5" text-anchor="end" >0</text>
<text transform="translate(348.9,415.4) scale(0.69,1)" font-size="21.5" text-anchor="middle" >0</text>
<line x1="372.44" y1="394.5" x2="372.44" y2="384.9" stroke="#000" stroke-width="1.0" />
<text transform="translate(372.44,415.4) scale(0.69,1)" font-size="21.5" text-anchor="middle" >2</text>
<line x1="395.98" y1="394.5" x2="395.98" y2="384.9" stroke="#000" stroke-width="1.0" />
<text transform="translate(395.98,415.4) scale(0.69,1)" font-size="21.5" text-anchor="middle" >4</text>
<line x1="419.52" y1="394.5" x2="419.52" y2="384.9" stroke="#000" stroke-width="1.0" />
<text transform="translate(419.52,415.4) scale(0.69,1)" font-size="21.5" text-anchor="middle" >6</text>
<line x1="443.06" y1="394.5" x2="443.06" y2="384.9" stroke="#000" stroke-width="1.0" />
<text transform="translate(443.06,415.4) scale(0.69,1)" font-size="21.5" text-anchor="middle" >8</text>
<text transform="translate(466.6,415.4) scale(0.69,1)" font-size="21.5" text-anchor="middle" >10</text>
<text transform="translate(409,295.3) scale(0.69,1)" font-size="21.5" text-anchor="middle" >SD</text>
<text transform="translate(450,300.5) scale(0.69,1)" font-size="21.5" text-anchor="middle" >(d)</text>
<text transform="translate(407,433.8) scale(0.69,1)" font-size="23" text-anchor="middle" font-style="italic" >t</text>
<polyline points="498.6,344.94 498.64,341.3 498.67,337.7 498.71,334.18 498.75,330.79 498.79,327.57 498.82,324.54 498.86,321.75 498.9,319.23 498.94,317 498.97,315.1 499.01,313.54 499.05,312.35 499.09,311.53 499.12,311.1 499.16,311.06 499.2,311.41 499.24,312.14 499.27,313.26 499.31,314.74 499.35,316.57 499.39,318.73 499.42,321.19 499.46,323.93 499.5,326.91 499.54,330.1 499.57,333.46 499.61,336.96 499.65,340.54 499.69,344.18 499.72,347.84 499.76,351.45 499.8,355 499.84,358.43 499.87,361.71 499.91,364.79 499.95,367.65 499.99,370.25 500.02,372.56 500.06,374.55 500.1,376.21 500.14,377.5 500.17,378.43 500.21,378.97 500.25,379.12 500.29,378.87 500.32,378.25 500.36,377.24 500.4,375.86 500.44,374.12 500.47,372.06 500.51,369.68 500.55,367.03 500.59,364.12 500.62,361 500.66,357.69 500.7,354.24 500.74,350.69 500.77,347.07 500.81,343.44 500.85,339.82 500.89,336.27 500.92,332.83 500.96,329.52 501,326.4 501.04,323.5 501.07,320.85 501.11,318.48 501.15,316.42 501.19,314.69 501.22,313.32 501.26,312.31 501.3,311.69 501.34,311.45 501.37,311.6 501.41,312.14 501.45,313.07 501.48,314.37 501.52,316.02 501.56,318.01 501.6,320.32 501.63,322.91 501.67,325.77 501.71,328.85 501.75,332.12 501.78,335.54 501.82,339.08 501.86,342.68 501.9,346.32 501.93,349.95 501.97,353.53 502.01,357.01 502.05,360.36 502.08,363.54 502.12,366.5 502.16,369.23 502.2,371.68 502.23,373.82 502.27,375.64 502.31,377.12 502.35,378.22 502.38,378.96 502.42,379.3 502.46,379.25 502.5,378.82 502.53,378 502.57,376.81 502.61,375.26 502.65,373.36 502.68,371.14 502.72,368.63 502.76,365.86 502.8,362.85 502.83,359.64 502.87,356.26 502.91,352.77 502.95,349.19 502.98,345.57 503.02,341.95 503.06,338.38 503.1,334.88 503.13,331.51 503.17,328.31 503.21,325.3 503.25,322.53 503.28,320.02 503.32,317.81 503.36,315.92 503.4,314.37 503.43,313.18 503.47,312.37 503.51,311.94 503.55,311.9 503.58,312.25 503.62,312.98 503.66,314.09 503.7,315.56 503.73,317.38 503.77,319.53 503.81,321.97 503.85,324.69 503.88,327.65 503.92,330.82 503.96,334.16 504,337.64 504.03,341.2 504.07,344.82 504.11,348.45 504.15,352.05 504.18,355.57 504.22,358.98 504.26,362.24 504.29,365.3 504.33,368.14 504.37,370.73 504.41,373.02 504.44,375 504.48,376.65 504.52,377.93 504.56,378.85 504.59,379.39 504.63,379.54 504.67,379.3 504.71,378.67 504.74,377.67 504.78,376.3 504.82,374.58 504.86,372.52 504.89,370.16 504.93,367.52 504.97,364.64 505.01,361.53 505.04,358.24 505.08,354.82 505.12,351.29 505.16,347.69 505.19,344.08 505.23,340.49 505.27,336.96 505.31,333.54 505.34,330.25 505.38,327.15 505.42,324.27 505.46,321.63 505.49,319.28 505.53,317.23 505.57,315.51 505.61,314.15 505.64,313.15 505.68,312.53 505.72,312.29 505.76,312.44 505.79,312.98 505.83,313.9 505.87,315.19 505.91,316.83 505.94,318.81 505.98,321.11 506.02,323.69 506.06,326.52 506.09,329.58 506.13,332.83 506.17,336.23 506.21,339.75 506.24,343.33 506.28,346.95 506.32,350.56 506.36,354.11 506.39,357.57 506.43,360.9 506.47,364.05 506.51,367 506.54,369.71 506.58,372.15 506.62,374.28 506.66,376.09 506.69,377.55 506.73,378.65 506.77,379.38 506.81,379.72 506.84,379.68 506.88,379.24 506.92,378.43 506.96,377.25 506.99,375.7 507.03,373.82 507.07,371.62 507.1,369.12 507.14,366.36 507.18,363.37 507.22,360.18 507.25,356.83 507.29,353.36 507.33,349.8 507.37,346.2 507.4,342.61 507.44,339.05 507.48,335.58 507.52,332.23 507.55,329.05 507.59,326.06 507.63,323.3 507.67,320.81 507.7,318.61 507.74,316.74 507.78,315.2 507.82,314.02 507.85,313.21 507.89,312.78 507.93,312.74 507.97,313.09 508,313.81 508.04,314.92 508.08,316.38 508.12,318.19 508.15,320.32 508.19,322.75 508.23,325.46 508.27,328.4 508.3,331.55 508.34,334.87 508.38,338.32 508.42,341.86 508.45,345.46 508.49,349.06 508.53,352.64 508.57,356.14 508.6,359.53 508.64,362.76 508.68,365.81 508.72,368.64 508.75,371.2 508.79,373.48 508.83,375.45 508.87,377.08 508.9,378.36 508.94,379.28 508.98,379.81 509.02,379.96 509.05,379.72 509.09,379.1 509.13,378.1 509.17,376.74 509.2,375.03 509.24,372.99 509.28,370.64 509.32,368.02 509.35,365.15 509.39,362.06 509.43,358.8 509.47,355.39 509.5,351.88 509.54,348.31 509.58,344.72 509.62,341.16 509.65,337.65 509.69,334.24 509.73,330.98 509.77,327.9 509.8,325.03 509.84,322.41 509.88,320.07 509.91,318.04 509.95,316.33 509.99,314.97 510.03,313.98 510.06,313.36 510.1,313.12 510.14,313.27 510.18,313.81 510.21,314.72 510.25,316 510.29,317.63 510.33,319.6 510.36,321.88 510.4,324.44 510.44,327.27 510.48,330.31 510.51,333.54 510.55,336.93 510.59,340.43 510.63,344 510.66,347.6 510.7,351.19 510.74,354.73 510.78,358.18 510.81,361.49 510.85,364.64 510.89,367.58 510.93,370.28 510.96,372.7 511,374.83 511.04,376.64 511.08,378.1 511.11,379.2 511.15,379.93 511.19,380.27 511.23,380.23 511.26,379.8 511.3,379 511.34,377.82 511.38,376.28 511.41,374.41 511.45,372.22 511.49,369.73 511.53,366.98 511.56,364 511.6,360.82 511.64,357.48 511.68,354.01 511.71,350.47 511.75,346.88 511.79,343.29 511.83,339.75 511.86,336.28 511.9,332.94 511.94,329.76 511.98,326.78 512.01,324.02 512.05,321.54 512.09,319.34 512.13,317.46 512.16,315.92 512.2,314.74 512.24,313.94 512.28,313.51 512.31,313.46 512.35,313.81 512.39,314.53 512.43,315.63 512.46,317.09 512.5,318.9 512.54,321.03 512.58,323.46 512.61,326.16 512.65,329.1 512.69,332.25 512.72,335.57 512.76,339.02 512.8,342.57 512.84,346.16 512.87,349.77 512.91,353.35 512.95,356.85 512.99,360.24 513.02,363.48 513.06,366.53 513.1,369.36 513.14,371.93 513.17,374.22 513.21,376.19 513.25,377.83 513.29,379.11 513.32,380.03 513.36,380.57 513.4,380.72 513.44,380.49 513.47,379.87 513.51,378.87 513.55,377.51 513.59,375.8 513.62,373.76 513.66,371.41 513.7,368.79 513.74,365.91 513.77,362.82 513.81,359.55 513.85,356.14 513.89,352.63 513.92,349.05 513.96,345.45 514,341.87 514.04,338.36 514.07,334.94 514.11,331.67 514.15,328.58 514.19,325.7 514.22,323.08 514.26,320.73 514.3,318.68 514.34,316.97 514.37,315.61 514.41,314.61 514.45,313.99 514.49,313.75 514.52,313.9 514.56,314.44 514.6,315.35 514.64,316.64 514.67,318.28 514.71,320.25 514.75,322.54 514.79,325.11 514.82,327.94 514.86,331 514.9,334.24 514.94,337.64 514.97,341.14 515.01,344.73 515.05,348.34 515.09,351.94 515.12,355.49 515.16,358.95 515.2,362.28 515.24,365.43 515.27,368.38 515.31,371.09 515.35,373.52 515.39,375.66 515.42,377.47 515.46,378.94 515.5,380.04 515.53,380.77 515.57,381.11 515.61,381.07 515.65,380.65 515.68,379.84 515.72,378.65 515.76,377.11 515.8,375.23 515.83,373.03 515.87,370.54 515.91,367.78 515.95,364.79 515.98,361.6 516.02,358.25 516.06,354.77 516.1,351.22 516.13,347.62 516.17,344.02 516.21,340.46 516.25,336.99 516.28,333.63 516.32,330.44 516.36,327.45 516.4,324.69 516.43,322.19 516.47,319.99 516.51,318.11 516.55,316.56 516.58,315.38 516.62,314.57 516.66,314.14 516.7,314.1 516.73,314.44 516.77,315.17 516.81,316.27 516.85,317.74 516.88,319.55 516.92,321.69 516.96,324.12 517,326.83 517.03,329.78 517.07,332.94 517.11,336.27 517.15,339.73 517.18,343.29 517.22,346.9 517.26,350.52 517.3,354.1 517.33,357.62 517.37,361.02 517.41,364.27 517.45,367.33 517.48,370.17 517.52,372.75 517.56,375.04 517.6,377.02 517.63,378.66 517.67,379.95 517.71,380.87 517.75,381.41 517.78,381.56 517.82,381.33 517.86,380.71 517.9,379.71 517.93,378.34 517.97,376.63 518.01,374.58 518.05,372.23 518.08,369.59 518.12,366.71 518.16,363.61 518.2,360.33 518.23,356.91 518.27,353.38 518.31,349.79 518.34,346.18 518.38,342.59 518.42,339.07 518.46,335.64 518.49,332.36 518.53,329.26 518.57,326.37 518.61,323.74 518.64,321.38 518.68,319.33 518.72,317.61 518.76,316.25 518.79,315.24 518.83,314.62 518.87,314.38 518.91,314.54 518.94,315.07 518.98,315.99 519.02,317.28 519.06,318.92 519.09,320.9 519.13,323.2 519.17,325.78 519.21,328.62 519.24,331.68 519.28,334.94 519.32,338.34 519.36,341.86 519.39,345.45 519.43,349.08 519.47,352.69 519.51,356.25 519.54,359.72 519.58,363.06 519.62,366.22 519.66,369.18 519.69,371.9 519.73,374.34 519.77,376.48 519.81,378.3 519.84,379.77 519.88,380.88 519.92,381.61 519.96,381.96 519.99,381.92 520.03,381.49 520.07,380.67 520.11,379.49 520.14,377.94 520.18,376.06 520.22,373.85 520.26,371.35 520.29,368.58 520.33,365.58 520.37,362.38 520.41,359.02 520.44,355.53 520.48,351.97 520.52,348.36 520.56,344.75 520.59,341.18 520.63,337.69 520.67,334.33 520.71,331.13 520.74,328.12 520.78,325.35 520.82,322.85 520.86,320.64 520.89,318.75 520.93,317.2 520.97,316.02 521.01,315.2 521.04,314.77 521.08,314.73 521.12,315.04 521.15,315.75 521.19,316.83 521.23,318.27 521.27,320.06 521.3,322.19 521.34,324.61 521.38,327.32 521.42,330.27 521.45,333.43 521.49,336.76 521.53,340.23 521.57,343.8 521.6,347.42 521.64,351.06 521.68,354.67 521.72,358.21 521.75,361.64 521.79,364.92 521.83,368.01 521.87,370.87 521.9,373.48 521.94,375.8 521.98,377.8 522.02,379.47 522.05,380.77 522.09,381.7 522.13,382.25 522.17,382.41 522.2,382.17 522.24,381.54 522.28,380.52 522.32,379.13 522.35,377.38 522.39,375.3 522.43,372.9 522.47,370.21 522.5,367.26 522.54,364.1 522.58,360.74 522.62,357.24 522.65,353.63 522.69,349.95 522.73,346.25 522.77,342.56 522.8,338.94 522.84,335.41 522.88,332.04 522.92,328.84 522.95,325.86 522.99,323.13 523.03,320.69 523.07,318.56 523.1,316.77 523.14,315.34 523.18,314.29 523.22,313.62 523.25,313.35 523.29,313.47 523.33,314 523.37,314.91 523.4,316.21 523.44,317.88 523.48,319.89 523.52,322.23 523.55,324.87 523.59,327.77 523.63,330.91 523.67,334.25 523.7,337.75 523.74,341.37 523.78,345.06 523.82,348.79 523.85,352.52 523.89,356.19 523.93,359.78 523.96,363.22 524,366.49 524.04,369.55 524.08,372.37 524.11,374.9 524.15,377.12 524.19,379 524.23,380.53 524.26,381.68 524.3,382.44 524.34,382.8 524.38,382.75 524.41,382.31 524.45,381.46 524.49,380.23 524.53,378.61 524.56,376.64 524.6,374.34 524.64,371.72 524.68,368.83 524.71,365.69 524.75,362.34 524.79,358.82 524.83,355.16 524.86,351.42 524.9,347.62 524.94,343.83 524.98,340.07 525.01,336.4 525.05,332.86 525.09,329.48 525.13,326.31 525.16,323.38 525.2,320.72 525.24,318.38 525.28,316.37 525.31,314.71 525.35,313.43 525.39,312.55 525.43,312.07 525.46,311.99 525.5,312.33 525.54,313.07 525.58,314.2 525.61,315.73 525.65,317.62 525.69,319.85 525.73,322.41 525.76,325.26 525.8,328.36 525.84,331.69 525.88,335.2 525.91,338.86 525.95,342.61 525.99,346.43 526.03,350.26 526.06,354.06 526.1,357.79 526.14,361.39 526.18,364.85 526.21,368.1 526.25,371.11 526.29,373.86 526.33,376.3 526.36,378.4 526.4,380.16 526.44,381.53 526.48,382.51 526.51,383.09 526.55,383.25 526.59,383 526.63,382.33 526.66,381.26 526.7,379.8 526.74,377.96 526.77,375.77 526.81,373.24 526.85,370.41 526.89,367.31 526.92,363.98 526.96,360.45 527,356.77 527.04,352.97 527.07,349.1 527.11,345.2 527.15,341.33 527.19,337.51 527.22,333.81 527.26,330.26 527.3,326.89 527.34,323.76 527.37,320.89 527.41,318.33 527.45,316.09 527.49,314.21 527.52,312.71 527.56,311.6 527.6,310.89 527.64,310.61 527.67,310.74 527.71,311.29 527.75,312.26 527.79,313.63 527.82,315.38 527.86,317.5 527.9,319.96 527.94,322.73 527.97,325.79 528.01,329.09 528.05,332.6 528.09,336.28 528.12,340.08 528.16,343.97 528.2,347.9 528.24,351.81 528.27,355.67 528.31,359.44 528.35,363.06 528.39,366.5 528.42,369.72 528.46,372.68 528.5,375.34 528.54,377.67 528.57,379.65 528.61,381.25 528.65,382.46 528.69,383.26 528.72,383.64 528.76,383.59 528.8,383.12 528.84,382.23 528.87,380.93 528.91,379.24 528.95,377.17 528.99,374.75 529.02,372 529.06,368.96 529.1,365.66 529.14,362.14 529.17,358.43 529.21,354.59 529.25,350.66 529.29,346.68 529.32,342.69 529.36,338.74 529.4,334.89 529.44,331.16 529.47,327.62 529.51,324.28 529.55,321.21 529.58,318.42 529.62,315.96 529.66,313.84 529.7,312.11 529.73,310.77 529.77,309.84 529.81,309.33 529.85,309.25 529.88,309.61 529.92,310.39 529.96,311.58 530,313.18 530.03,315.17 530.07,317.52 530.11,320.2 530.15,323.19 530.18,326.46 530.22,329.95 530.26,333.64 530.3,337.48 530.33,341.43 530.37,345.43 530.41,349.46 530.45,353.45 530.48,357.36 530.52,361.15 530.56,364.77 530.6,368.19 530.63,371.35 530.67,374.23 530.71,376.79 530.75,379.01 530.78,380.85 530.82,382.29 530.86,383.32 530.9,383.92 530.93,384.09 530.97,383.83 531.01,383.13 531.05,382 531.08,380.47 531.12,378.54 531.16,376.23 531.2,373.58 531.23,370.61 531.27,367.36 531.31,363.86 531.35,360.16 531.38,356.29 531.42,352.31 531.46,348.25 531.5,344.16 531.53,340.09 531.57,336.09 531.61,332.21 531.65,328.48 531.68,324.95 531.72,321.66 531.76,318.66 531.8,315.96 531.83,313.62 531.87,311.64 531.91,310.07 531.95,308.9 531.98,308.17 532.02,307.87 532.06,308.01 532.1,308.59 532.13,309.61 532.17,311.04 532.21,312.88 532.25,315.1 532.28,317.69 532.32,320.6 532.36,323.81 532.39,327.28 532.43,330.97 532.47,334.83 532.51,338.83 532.54,342.91 532.58,347.03 532.62,351.13 532.66,355.19 532.69,359.13 532.73,362.93 532.77,366.54 532.81,369.91 532.84,373 532.88,375.79 532.92,378.23 532.96,380.31 532.99,381.99 533.03,383.25 533.07,384.08 533.11,384.48 533.14,384.43 533.18,383.94 533.22,383.01 533.26,381.65 533.29,379.88 533.33,377.72 533.37,375.18 533.41,372.31 533.44,369.14 533.48,365.69 533.52,362.02 533.56,358.16 533.59,354.15 533.63,350.04 533.67,345.89 533.71,341.73 533.74,337.62 533.78,333.61 533.82,329.73 533.86,326.03 533.89,322.56 533.93,319.36 533.97,316.47 534.01,313.9 534.04,311.71 534.08,309.91 534.12,308.52 534.16,307.56 534.19,307.05 534.23,306.98 534.27,307.35 534.31,308.18 534.34,309.43 534.38,311.11 534.42,313.19 534.46,315.64 534.49,318.44 534.53,321.56 534.57,324.97 534.61,328.61 534.64,332.45 534.68,336.46 534.72,340.57 534.76,344.74 534.79,348.92 534.83,353.08 534.87,357.15 534.91,361.09 534.94,364.86 534.98,368.41 535.02,371.7 535.06,374.69 535.09,377.36 535.13,379.65 535.17,381.56 535.2,383.06 535.24,384.13 535.28,384.76 535.32,384.93 535.35,384.66 535.39,383.93 535.43,382.77 535.47,381.18 535.5,379.17 535.54,376.78 535.58,374.04 535.62,370.96 535.65,367.59 535.69,363.97 535.73,360.13 535.77,356.12 535.8,352 535.84,347.79 535.88,343.56 535.92,339.36 535.95,335.22 535.99,331.2 536.03,327.35 536.07,323.7 536.1,320.31 536.14,317.21 536.18,314.43 536.22,312.01 536.25,309.98 536.29,308.36 536.33,307.16 536.37,306.41 536.4,306.11 536.44,306.27 536.48,306.88 536.52,307.94 536.55,309.43 536.59,311.34 536.63,313.65 536.67,316.32 536.7,319.34 536.74,322.66 536.78,326.24 536.82,330.05 536.85,334.04 536.89,338.17 536.93,342.39 536.97,346.64 537,350.88 537.04,355.07 537.08,359.14 537.12,363.07 537.15,366.79 537.19,370.27 537.23,373.47 537.27,376.35 537.3,378.87 537.34,381.01 537.38,382.75 537.42,384.05 537.45,384.91 537.49,385.32 537.53,385.27 537.57,384.76 537.6,383.8 537.64,382.4 537.68,380.57 537.72,378.33 537.75,375.72 537.79,372.76 537.83,369.48 537.87,365.92 537.9,362.12 537.94,358.13 537.98,354 538.01,349.76 538.05,345.47 538.09,341.18 538.13,336.93 538.16,332.78 538.2,328.78 538.24,324.96 538.28,321.38 538.31,318.08 538.35,315.09 538.39,312.44 538.43,310.18 538.46,308.32 538.5,306.89 538.54,305.9 538.58,305.37 538.61,305.29 538.65,305.68 538.69,306.53 538.73,307.83 538.76,309.56 538.8,311.71 538.84,314.24 538.88,317.13 538.91,320.36 538.95,323.87 538.99,327.63 539.03,331.6 539.06,335.73 539.1,339.97 539.14,344.28 539.18,348.61 539.21,352.89 539.25,357.1 539.29,361.17 539.33,365.06 539.36,368.72 539.4,372.12 539.44,375.21 539.48,377.96 539.51,380.33 539.55,382.3 539.59,383.84 539.63,384.95 539.66,385.59 539.7,385.77 539.74,385.49 539.78,384.74 539.81,383.54 539.85,381.9 539.89,379.83 539.93,377.36 539.96,374.53 540,371.35 540.04,367.87 540.08,364.13 540.11,360.17 540.15,356.04 540.19,351.78 540.23,347.44 540.26,343.08 540.3,338.73 540.34,334.46 540.38,330.32 540.41,326.34 540.45,322.58 540.49,319.08 540.53,315.87 540.56,313.01 540.6,310.51 540.64,308.42 540.68,306.74 540.71,305.51 540.75,304.74 540.79,304.43 540.82,304.59 540.86,305.22 540.9,306.31 540.94,307.85 540.97,309.82 541.01,312.2 541.05,314.97 541.09,318.08 541.12,321.5 541.16,325.2 541.2,329.14 541.24,333.25 541.27,337.51 541.31,341.86 541.35,346.25 541.39,350.63 541.42,354.95 541.46,359.16 541.5,363.2 541.54,367.05 541.57,370.64 541.61,373.94 541.65,376.91 541.69,379.51 541.72,381.72 541.76,383.51 541.8,384.85 541.84,385.74 541.87,386.16 541.91,386.11 541.95,385.59 541.99,384.59 542.02,383.15 542.06,381.26 542.1,378.95 542.14,376.26 542.17,373.2 542.21,369.81 542.25,366.14 542.29,362.23 542.32,358.11 542.36,353.84 542.4,349.47 542.44,345.05 542.47,340.62 542.51,336.24 542.55,331.96 542.59,327.83 542.62,323.9 542.66,320.2 542.7,316.79 542.74,313.71 542.77,310.98 542.81,308.65 542.85,306.73 542.89,305.25 542.92,304.23 542.96,303.68 543,303.61 543.04,304.01 543.07,304.89 543.11,306.23 543.15,308.01 543.19,310.23 543.22,312.84 543.26,315.83 543.3,319.15 543.34,322.77 543.37,326.65 543.41,330.75 543.45,335.01 543.49,339.38 543.52,343.83 543.56,348.29 543.6,352.71 543.63,357.04 543.67,361.24 543.71,365.24 543.75,369.02 543.78,372.51 543.82,375.69 543.86,378.51 543.9,380.95 543.93,382.97 543.97,384.55 544.01,385.68 544.05,386.34 544.08,386.52 544.12,386.22 544.16,385.44 544.2,384.2 544.23,382.5 544.27,380.38 544.31,377.84 544.35,374.92 544.38,371.66 544.42,368.09 544.46,364.25 544.5,360.19 544.53,355.95 544.57,351.59 544.61,347.15 544.65,342.68 544.68,338.24 544.72,333.87 544.76,329.64 544.8,325.57 544.83,321.73 544.87,318.16 544.91,314.9 544.95,311.98 544.98,309.44 545.02,307.31 545.06,305.61 545.1,304.37 545.13,303.59 545.17,303.29 545.21,303.46 545.25,304.12 545.28,305.25 545.32,306.83 545.36,308.85 545.4,311.29 545.43,314.11 545.47,317.29 545.51,320.79 545.55,324.56 545.58,328.57 545.62,332.77 545.66,337.11 545.7,341.54 545.73,346.01 545.77,350.46 545.81,354.85 545.85,359.13 545.88,363.24 545.92,367.14 545.96,370.78 546,374.13 546.03,377.13 546.07,379.77 546.11,382.01 546.15,383.81 546.18,385.17 546.22,386.07 546.26,386.49 546.3,386.43 546.33,385.89 546.37,384.88 546.41,383.4 546.44,381.49 546.48,379.15 546.52,376.41 546.56,373.32 546.59,369.89 546.63,366.18 546.67,362.22 546.71,358.06 546.74,353.74 546.78,349.33 546.82,344.86 546.86,340.39 546.89,335.98 546.93,331.67 546.97,327.5 547.01,323.54 547.04,319.83 547.08,316.4 547.12,313.3 547.16,310.56 547.19,308.22 547.23,306.3 547.27,304.83 547.31,303.81 547.34,303.27 547.38,303.21 547.42,303.63 547.46,304.52 547.49,305.88 547.53,307.69 547.57,309.92 547.61,312.56 547.64,315.57 547.68,318.92 547.72,322.56 547.76,326.47 547.79,330.58 547.83,334.86 547.87,339.26 547.91,343.72 547.94,348.19 547.98,352.62 548.02,356.97 548.06,361.17 548.09,365.19 548.13,368.97 548.17,372.48 548.21,375.66 548.24,378.49 548.28,380.93 548.32,382.96 548.36,384.55 548.39,385.68 548.43,386.34 548.47,386.52 548.51,386.22 548.54,385.44 548.58,384.19 548.62,382.49 548.66,380.36 548.69,377.82 548.73,374.89 548.77,371.62 548.81,368.04 548.84,364.2 548.88,360.12 548.92,355.88 548.96,351.5 548.99,347.05 549.03,342.57 549.07,338.12 549.11,333.74 549.14,329.49 549.18,325.42 549.22,321.57 549.25,317.99 549.29,314.72 549.33,311.79 549.37,309.24 549.4,307.11 549.44,305.41 549.48,304.16 549.52,303.38 549.55,303.08 549.59,303.25 549.63,303.91 549.67,305.04 549.7,306.63 549.74,308.65 549.78,311.1 549.82,313.93 549.85,317.12 549.89,320.62 549.93,324.41 549.97,328.43 550,332.64 550.04,336.99 550.08,341.42 550.12,345.9 550.15,350.37 550.19,354.77 550.23,359.06 550.27,363.18 550.3,367.09 550.34,370.74 550.38,374.09 550.42,377.11 550.45,379.75 550.49,382 550.53,383.81 550.57,385.17 550.6,386.07 550.64,386.49 550.68,386.43 550.72,385.89 550.75,384.87 550.79,383.4 550.83,381.47 550.87,379.13 550.9,376.39 550.94,373.28 550.98,369.85 551.02,366.12 551.05,362.15 551.09,357.98 551.13,353.66 551.17,349.23 551.2,344.76 551.24,340.28 551.28,335.85 551.32,331.53 551.35,327.36 551.39,323.38 551.43,319.66 551.47,316.22 551.5,313.11 551.54,310.37 551.58,308.02 551.62,306.1 551.65,304.62 551.69,303.6 551.73,303.06 551.77,303 551.8,303.42 551.84,304.31 551.88,305.68 551.92,307.49 551.95,309.73 551.99,312.37 552.03,315.39 552.06,318.75 552.1,322.4 552.14,326.32 552.18,330.44 552.21,334.73 552.25,339.14 552.29,343.61 552.33,348.09 552.36,352.54 552.4,356.89 552.44,361.11 552.48,365.14 552.51,368.93 552.55,372.44 552.59,375.63 552.63,378.47 552.66,380.92 552.7,382.95 552.74,384.54 552.78,385.68 552.81,386.34 552.85,386.52 552.89,386.22 552.93,385.44 552.96,384.19 553,382.48 553.04,380.34 553.08,377.79 553.11,374.86 553.15,371.58 553.19,368 553.23,364.14 553.26,360.06 553.3,355.8 553.34,351.41 553.38,346.95 553.41,342.46 553.45,337.99 553.49,333.61 553.53,329.35 553.56,325.26 553.6,321.41 553.64,317.82 553.68,314.53 553.71,311.6 553.75,309.05 553.79,306.91 553.83,305.2 553.86,303.95 553.9,303.17 553.94,302.87 553.98,303.04 554.01,303.7 554.05,304.83 554.09,306.43 554.13,308.46 554.16,310.91 554.2,313.75 554.24,316.94 554.28,320.46 554.31,324.25 554.35,328.28 554.39,332.5 554.43,336.86 554.46,341.31 554.5,345.8 554.54,350.28 554.58,354.69 554.61,358.99 554.65,363.12 554.69,367.04 554.73,370.7 554.76,374.06 554.8,377.09 554.84,379.73 554.87,381.98 554.91,383.79 554.95,385.15 554.99,386.05 555.02,386.46 555.06,386.4 555.1,385.86 555.14,384.84 555.17,383.36 555.21,381.43 555.25,379.08 555.29,376.33 555.32,373.22 555.36,369.78 555.4,366.06 555.44,362.09 555.47,357.91 555.51,353.59 555.55,349.16 555.59,344.69 555.62,340.21 555.66,335.79 555.7,331.47 555.74,327.31 555.77,323.34 555.81,319.63 555.85,316.2 555.89,313.1 555.92,310.37 555.96,308.03 556,306.11 556.04,304.64 556.07,303.64 556.11,303.1 556.15,303.05 556.19,303.47 556.22,304.37 556.26,305.74 556.3,307.55 556.34,309.79 556.37,312.44 556.41,315.45 556.45,318.8 556.49,322.45 556.52,326.36 556.56,330.47 556.6,334.75 556.64,339.14 556.67,343.6 556.71,348.06 556.75,352.49 556.79,356.83 556.82,361.03 556.86,365.04 556.9,368.81 556.94,372.3 556.97,375.48 557.01,378.3 557.05,380.73 557.09,382.75 557.12,384.33 557.16,385.45 557.2,386.11 557.24,386.28 557.27,385.98 557.31,385.2 557.35,383.96 557.39,382.26 557.42,380.13 557.46,377.6 557.5,374.68 557.54,371.43 557.57,367.86 557.61,364.03 557.65,359.98 557.68,355.75 557.72,351.4 557.76,346.97 557.8,342.51 557.83,338.09 557.87,333.74 557.91,329.52 557.95,325.47 557.98,321.65 558.02,318.1 558.06,314.85 558.1,311.95 558.13,309.42 558.17,307.31 558.21,305.62 558.25,304.39 558.28,303.62 558.32,303.33 558.36,303.52 558.4,304.18 558.43,305.3 558.47,306.88 558.51,308.9 558.55,311.33 558.58,314.15 558.62,317.31 558.66,320.8 558.7,324.56 558.73,328.55 558.77,332.72 558.81,337.04 558.85,341.44 558.88,345.88 558.92,350.3 558.96,354.67 559,358.91 559.03,362.99 559.07,366.87 559.11,370.48 559.15,373.8 559.18,376.78 559.22,379.4 559.26,381.61 559.3,383.4 559.33,384.75 559.37,385.63 559.41,386.04 559.45,385.98 559.48,385.44 559.52,384.44 559.56,382.97 559.6,381.07 559.63,378.75 559.67,376.04 559.71,372.97 559.75,369.57 559.78,365.89 559.82,361.97 559.86,357.85 559.9,353.58 559.93,349.21 559.97,344.79 560.01,340.38 560.05,336.01 560.08,331.75 560.12,327.63 560.16,323.72 560.2,320.05 560.23,316.66 560.27,313.6 560.31,310.9 560.35,308.6 560.38,306.71 560.42,305.26 560.46,304.26 560.49,303.73 560.53,303.68 560.57,304.1 560.61,304.99 560.64,306.34 560.68,308.13 560.72,310.34 560.76,312.95 560.79,315.93 560.83,319.24 560.87,322.84 560.91,326.69 560.94,330.76 560.98,334.98 561.02,339.32 561.06,343.72 561.09,348.13 561.13,352.5 561.17,356.78 561.21,360.93 561.24,364.88 561.28,368.61 561.32,372.06 561.36,375.19 561.39,377.98 561.43,380.38 561.47,382.38 561.51,383.93 561.54,385.04 561.58,385.69 561.62,385.86 561.66,385.56 561.69,384.79 561.73,383.57 561.77,381.89 561.81,379.79 561.84,377.29 561.88,374.41 561.92,371.19 561.96,367.67 561.99,363.89 562.03,359.89 562.07,355.72 562.11,351.42 562.14,347.05 562.18,342.65 562.22,338.28 562.26,333.98 562.29,329.82 562.33,325.82 562.37,322.05 562.41,318.54 562.44,315.33 562.48,312.47 562.52,309.98 562.56,307.89 562.59,306.23 562.63,305.01 562.67,304.25 562.71,303.96 562.74,304.15 562.78,304.8 562.82,305.91 562.86,307.47 562.89,309.46 562.93,311.86 562.97,314.64 563.01,317.77 563.04,321.21 563.08,324.92 563.12,328.86 563.16,332.98 563.19,337.24 563.23,341.59 563.27,345.97 563.3,350.34 563.34,354.65 563.38,358.84 563.42,362.87 563.45,366.69 563.49,370.26 563.53,373.54 563.57,376.48 563.6,379.06 563.64,381.25 563.68,383.02 563.72,384.34 563.75,385.22 563.79,385.62 563.83,385.56 563.87,385.03 563.9,384.04 563.94,382.59 563.98,380.71 564.02,378.42 564.05,375.75 564.09,372.71 564.13,369.36 564.17,365.73 564.2,361.86 564.24,357.79 564.28,353.58 564.32,349.26 564.35,344.9 564.39,340.54 564.43,336.23 564.47,332.02 564.5,327.96 564.54,324.09 564.58,320.47 564.62,317.13 564.65,314.11 564.69,311.44 564.73,309.16 564.77,307.3 564.8,305.87 564.84,304.88 564.88,304.36 564.92,304.31 564.95,304.73 564.99,305.6 565.03,306.93 565.07,308.7 565.1,310.89 565.14,313.46 565.18,316.4 565.22,319.67 565.25,323.22 565.29,327.03 565.33,331.04 565.37,335.21 565.4,339.49 565.44,343.84 565.48,348.19 565.52,352.51 565.55,356.73 565.59,360.83 565.63,364.73 565.67,368.41 565.7,371.82 565.74,374.91 565.78,377.66 565.82,380.03 565.85,382 565.89,383.54 565.93,384.63 565.97,385.27 566,385.44 566.04,385.14 566.08,384.39 566.11,383.17 566.15,381.52 566.19,379.45 566.23,376.98 566.26,374.14 566.3,370.96 566.34,367.49 566.38,363.75 566.41,359.81 566.45,355.69 566.49,351.45 566.53,347.13 566.56,342.8 566.6,338.48 566.64,334.25 566.68,330.14 566.71,326.2 566.75,322.47 566.79,319.01 566.83,315.85 566.86,313.03 566.9,310.57 566.94,308.51 566.98,306.87 567.01,305.67 567.05,304.93 567.09,304.65 567.13,304.83 567.16,305.47 567.2,306.57 567.24,308.11 567.28,310.08 567.31,312.45 567.35,315.19 567.39,318.28 567.43,321.67 567.46,325.33 567.5,329.22 567.54,333.29 567.58,337.49 567.61,341.77 567.65,346.1 567.69,350.41 567.73,354.66 567.76,358.79 567.8,362.76 567.84,366.53 567.88,370.05 567.91,373.29 567.95,376.19 567.99,378.73 568.03,380.89 568.06,382.63 568.1,383.94 568.14,384.8 568.18,385.2 568.21,385.14 568.25,384.62 568.29,383.64 568.33,382.21 568.36,380.36 568.4,378.1 568.44,375.47 568.48,372.48 568.51,369.17 568.55,365.59 568.59,361.78 568.63,357.77 568.66,353.62 568.7,349.37 568.74,345.07 568.78,340.77 568.81,336.53 568.85,332.38 568.89,328.38 568.92,324.57 568.96,321 569,317.71 569.04,314.74 569.07,312.11 569.11,309.87 569.15,308.04 569.19,306.63 569.22,305.66 569.26,305.15 569.3,305.1 569.34,305.51 569.37,306.38 569.41,307.69 569.45,309.43 569.49,311.59 569.52,314.12 569.56,317.02 569.6,320.24 569.64,323.74 569.67,327.49 569.71,331.45 569.75,335.55 569.79,339.77 569.82,344.05 569.86,348.34 569.9,352.59 569.94,356.75 569.97,360.78 570.01,364.63 570.05,368.25 570.09,371.6 570.12,374.65 570.16,377.36 570.2,379.69 570.24,381.63 570.27,383.15 570.31,384.22 570.35,384.85 570.39,385.02 570.42,384.73 570.46,383.98 570.5,382.79 570.54,381.16 570.57,379.12 570.61,376.69 570.65,373.89 570.69,370.77 570.72,367.35 570.76,363.67 570.8,359.79 570.84,355.73 570.87,351.56 570.91,347.31 570.95,343.04 570.99,338.8 571.02,334.63 571.06,330.58 571.1,326.7 571.14,323.04 571.17,319.63 571.21,316.52 571.25,313.74 571.29,311.32 571.32,309.29 571.36,307.68 571.4,306.5 571.44,305.77 571.47,305.49 571.51,305.67 571.55,306.3 571.59,307.38 571.62,308.9 571.66,310.84 571.7,313.17 571.73,315.87 571.77,318.91 571.81,322.25 571.85,325.85 571.88,329.68 571.92,333.68 571.96,337.82 572,342.04 572.03,346.29 572.07,350.53 572.11,354.71 572.15,358.78 572.18,362.7 572.22,366.41 572.26,369.87 572.3,373.05 572.33,375.91 572.37,378.42 572.41,380.54 572.45,382.25 572.48,383.54 572.52,384.39 572.56,384.78 572.6,384.72 572.63,384.21 572.67,383.24 572.71,381.84 572.75,380.02 572.78,377.79 572.82,375.2 572.86,372.26 572.9,369.01 572.93,365.48 572.97,361.73 573.01,357.78 573.05,353.69 573.08,349.51 573.12,345.28 573.16,341.05 573.2,336.87 573.23,332.79 573.27,328.85 573.31,325.11 573.35,321.59 573.38,318.35 573.42,315.43 573.46,312.85 573.5,310.64 573.53,308.83 573.57,307.44 573.61,306.49 573.65,305.99 573.68,305.94 573.72,306.34 573.76,307.2 573.8,308.49 573.83,310.21 573.87,312.33 573.91,314.82 573.95,317.68 573.98,320.84 574.02,324.29 574.06,327.98 574.1,331.87 574.13,335.92 574.17,340.07 574.21,344.28 574.25,348.5 574.28,352.68 574.32,356.78 574.36,360.74 574.4,364.53 574.43,368.09 574.47,371.4 574.51,374.4 574.54,377.06 574.58,379.36 574.62,381.26 574.66,382.76 574.69,383.82 574.73,384.43 574.77,384.6 574.81,384.31 574.84,383.58 574.88,382.4 574.92,380.8 574.96,378.79 574.99,376.4 575.03,373.65 575.07,370.57 575.11,367.2 575.14,363.59 575.18,359.76 575.22,355.77 575.26,351.67 575.29,347.49 575.33,343.28 575.37,339.11 575.41,335 575.44,331.02 575.48,327.2 575.52,323.6 575.56,320.25 575.59,317.18 575.63,314.45 575.67,312.07 575.71,310.07 575.74,308.49 575.78,307.33 575.82,306.6 575.86,306.33 575.89,306.51 575.93,307.13 575.97,308.2 576.01,309.69 576.04,311.6 576.08,313.89 576.12,316.55 576.16,319.54 576.19,322.82 576.23,326.37 576.27,330.13 576.31,334.07 576.34,338.14 576.38,342.3 576.42,346.49 576.46,350.66 576.49,354.77 576.53,358.78 576.57,362.63 576.61,366.28 576.64,369.69 576.68,372.82 576.72,375.63 576.76,378.1 576.79,380.19 576.83,381.87 576.87,383.14 576.91,383.97 576.94,384.36 576.98,384.3 577.02,383.79 577.06,382.85 577.09,381.47 577.13,379.67 577.17,377.49 577.21,374.93 577.24,372.04 577.28,368.84 577.32,365.37 577.35,361.67 577.39,357.79 577.43,353.76 577.47,349.65 577.5,345.49 577.54,341.32 577.58,337.21 577.62,333.2 577.65,329.33 577.69,325.65 577.73,322.19 577.77,319.01 577.8,316.13 577.84,313.6 577.88,311.43 577.92,309.65 577.95,308.29 577.99,307.36 578.03,306.87 578.07,306.82 578.1,307.22 578.14,308.06 578.18,309.33 578.22,311.02 578.25,313.1 578.29,315.56 578.33,318.36 578.37,321.47 578.4,324.86 578.44,328.48 578.48,332.3 578.52,336.27 578.55,340.34 578.59,344.48 578.63,348.62 578.67,352.72 578.7,356.74 578.74,360.63 578.78,364.34 578.82,367.84 578.85,371.07 578.89,374.01 578.93,376.62 578.97,378.88 579,380.74 579.04,382.2 579.08,383.24 579.12,383.84 579.15,384 579.19,383.71 579.23,382.99 579.27,381.83 579.3,380.26 579.34,378.29 579.38,375.94 579.42,373.24 579.45,370.22 579.49,366.92 579.53,363.38 579.57,359.63 579.6,355.72 579.64,351.69 579.68,347.6 579.72,343.48 579.75,339.39 579.79,335.37 579.83,331.47 579.87,327.73 579.9,324.2 579.94,320.92 579.98,317.93 580.02,315.25 580.05,312.92 580.09,310.97 580.13,309.42 580.16,308.29 580.2,307.58 580.24,307.31 580.28,307.49 580.31,308.1 580.35,309.15 580.39,310.61 580.43,312.47 580.46,314.72 580.5,317.32 580.54,320.24 580.58,323.46 580.61,326.93 580.65,330.61 580.69,334.46 580.73,338.44 580.76,342.5 580.8,346.59 580.84,350.67 580.88,354.68 580.91,358.6 580.95,362.36 580.99,365.92 581.03,369.25 581.06,372.3 581.1,375.05 581.14,377.45 581.18,379.49 581.21,381.13 581.25,382.37 581.29,383.18 581.33,383.55 581.36,383.49 581.4,382.99 581.44,382.06 581.48,380.71 581.51,378.96 581.55,376.82 581.59,374.32 581.63,371.5 581.66,368.37 581.7,364.99 581.74,361.38 581.78,357.59 581.81,353.67 581.85,349.65 581.89,345.59 581.93,341.53 581.96,337.52 582,333.6 582.04,329.83 582.08,326.24 582.11,322.87 582.15,319.76 582.19,316.96 582.23,314.48 582.26,312.37 582.3,310.63 582.34,309.31 582.38,308.4 582.41,307.92 582.45,307.87 582.49,308.26 582.53,309.08 582.56,310.32 582.6,311.97 582.64,314 582.68,316.4 582.71,319.13 582.75,322.16 582.79,325.47 582.83,329 582.86,332.73 582.9,336.6 582.94,340.58 582.97,344.61 583.01,348.65 583.05,352.65 583.09,356.57 583.12,360.36 583.16,363.99 583.2,367.4 583.24,370.55 583.27,373.42 583.31,375.97 583.35,378.16 583.39,379.98 583.42,381.4 583.46,382.41 583.5,383 583.54,383.15 583.57,382.88 583.61,382.17 583.65,381.04 583.69,379.51 583.72,377.58 583.76,375.29 583.8,372.66 583.84,369.72 583.87,366.5 583.91,363.04 583.95,359.38 583.99,355.57 584.02,351.64 584.06,347.65 584.1,343.64 584.14,339.65 584.17,335.73 584.21,331.92 584.25,328.28 584.29,324.84 584.32,321.64 584.36,318.71 584.4,316.1 584.44,313.83 584.47,311.93 584.51,310.42 584.55,309.31 584.59,308.63 584.62,308.37 584.66,308.54 584.7,309.14 584.74,310.15 584.77,311.58 584.81,313.4 584.85,315.59 584.89,318.13 584.92,320.98 584.96,324.11 585,327.49 585.04,331.08 585.07,334.84 585.11,338.72 585.15,342.68 585.19,346.67 585.22,350.65 585.26,354.56 585.3,358.38 585.34,362.04 585.37,365.52 585.41,368.76 585.45,371.74 585.49,374.42 585.52,376.76 585.56,378.75 585.6,380.35 585.64,381.55 585.67,382.34 585.71,382.71 585.75,382.65 585.78,382.16 585.82,381.26 585.86,379.94 585.9,378.23 585.93,376.15 585.97,373.71 586.01,370.95 586.05,367.91 586.08,364.61 586.12,361.09 586.16,357.4 586.2,353.57 586.23,349.66 586.27,345.7 586.31,341.74 586.35,337.83 586.38,334.01 586.42,330.33 586.46,326.83 586.5,323.54 586.53,320.51 586.57,317.78 586.61,315.37 586.65,313.3 586.68,311.62 586.72,310.32 586.76,309.44 586.8,308.97 586.83,308.92 586.87,309.3 586.91,310.1 586.95,311.31 586.98,312.92 587.02,314.9 587.06,317.24 587.1,319.9 587.13,322.86 587.17,326.08 587.21,329.53 587.25,333.16 587.28,336.93 587.32,340.81 587.36,344.74 587.4,348.68 587.43,352.58 587.47,356.4 587.51,360.1 587.55,363.63 587.58,366.95 587.62,370.03 587.66,372.82 587.7,375.31 587.73,377.45 587.77,379.22 587.81,380.61 587.85,381.59 587.88,382.16 587.92,382.31 587.96,382.04 588,381.35 588.03,380.25 588.07,378.76 588.11,376.88 588.15,374.65 588.18,372.08 588.22,369.21 588.26,366.08 588.3,362.71 588.33,359.14 588.37,355.43 588.41,351.6 588.45,347.71 588.48,343.79 588.52,339.9 588.56,336.08 588.59,332.38 588.63,328.83 588.67,325.47 588.71,322.35 588.74,319.5 588.78,316.96 588.82,314.75 588.86,312.89 588.89,311.42 588.93,310.34 588.97,309.67 589.01,309.42 589.04,309.59 589.08,310.17 589.12,311.16 589.16,312.55 589.19,314.33 589.23,316.46 589.27,318.94 589.31,321.72 589.34,324.77 589.38,328.07 589.42,331.57 589.46,335.24 589.49,339.02 589.53,342.88 589.57,346.77 589.61,350.65 589.64,354.48 589.68,358.2 589.72,361.77 589.76,365.16 589.79,368.33 589.83,371.24 589.87,373.85 589.91,376.14 589.94,378.07 589.98,379.64 590.02,380.81 590.06,381.59 590.09,381.94 590.13,381.89 590.17,381.41 590.21,380.53 590.24,379.25 590.28,377.58 590.32,375.55 590.36,373.18 590.39,370.49 590.43,367.52 590.47,364.3 590.51,360.87 590.54,357.27 590.58,353.53 590.62,349.71 590.66,345.85 590.69,341.99 590.73,338.18 590.77,334.45 590.81,330.86 590.84,327.44 590.88,324.24 590.92,321.29 590.96,318.62 590.99,316.26 591.03,314.25 591.07,312.6 591.11,311.34 591.14,310.48 591.18,310.02 591.22,309.98 591.26,310.35 591.29,311.13 591.33,312.31 591.37,313.88 591.4,315.81 591.44,318.09 591.48,320.69 591.52,323.58 591.55,326.73 591.59,330.09 591.63,333.64 591.67,337.32 591.7,341.11 591.74,344.94 591.78,348.79 591.82,352.6 591.85,356.33 591.89,359.95 591.93,363.39 591.97,366.64 592,369.64 592.04,372.37 592.08,374.8 592.12,376.89 592.15,378.62 592.19,379.98 592.23,380.94 592.27,381.5 592.3,381.65 592.34,381.39 592.38,380.72 592.42,379.65 592.45,378.19 592.49,376.36 592.53,374.18 592.57,371.67 592.6,368.87 592.64,365.81 592.68,362.52 592.72,359.04 592.75,355.41 592.79,351.67 592.83,347.87 592.87,344.05 592.9,340.25 592.94,336.52 592.98,332.9 593.02,329.43 593.05,326.15 593.09,323.1 593.13,320.32 593.17,317.84 593.2,315.68 593.24,313.87 593.28,312.43 593.32,311.37 593.35,310.72 593.39,310.47 593.43,310.64 593.47,311.21 593.5,312.18 593.54,313.54 593.58,315.27 593.62,317.35 593.65,319.77 593.69,322.49 593.73,325.47 593.77,328.69 593.8,332.11 593.84,335.69 593.88,339.39 593.92,343.16 593.95,346.96 593.99,350.75 594.03,354.48 594.07,358.12 594.1,361.61 594.14,364.92 594.18,368.02 594.21,370.86 594.25,373.41 594.29,375.64 594.33,377.53 594.36,379.06 594.4,380.21 594.44,380.96 594.48,381.31 594.51,381.26 594.55,380.79 594.59,379.93 594.63,378.68 594.66,377.05 594.7,375.07 594.74,372.75 594.78,370.12 594.81,367.22 594.85,364.08 594.89,360.73 594.93,357.21 594.96,353.57 595,349.84 595.04,346.06 595.08,342.29 595.11,338.57 595.15,334.93 595.19,331.42 595.23,328.08 595.26,324.96 595.3,322.07 595.34,319.46 595.38,317.17 595.41,315.2 595.45,313.59 595.49,312.36 595.53,311.52 595.56,311.07 595.6,311.03 595.64,311.39 595.68,312.15 595.71,313.31 595.75,314.84 595.79,316.73 595.83,318.95 595.86,321.49 595.9,324.32 595.94,327.39 595.98,330.67 596.01,334.14 596.05,337.74 596.09,341.43 596.13,345.18 596.16,348.93 596.2,352.65 596.24,356.3 596.28,359.83 596.31,363.19 596.35,366.36 596.39,369.3 596.43,371.96 596.46,374.33 596.5,376.37 596.54,378.06 596.58,379.39 596.61,380.33 596.65,380.87 596.69,381.02 596.73,380.76 596.76,380.11 596.8,379.06 596.84,377.64 596.88,375.85 596.91,373.72 596.95,371.27 596.99,368.54 597.02,365.55 597.06,362.34 597.1,358.94 597.14,355.39 597.17,351.75 597.21,348.03 597.25,344.3 597.29,340.59 597.32,336.95 597.36,333.42 597.4,330.03 597.44,326.83 597.47,323.86 597.51,321.14 597.55,318.71 597.59,316.6 597.62,314.84 597.66,313.43 597.7,312.4 597.74,311.77 597.77,311.53 597.81,311.68 597.85,312.24 597.89,313.19 597.92,314.52 597.96,316.21 598,318.25 598.04,320.6 598.07,323.26 598.11,326.17 598.15,329.32 598.19,332.66 598.22,336.15 598.26,339.76 598.3,343.44 598.34,347.15 598.37,350.85 598.41,354.49 598.45,358.04 598.49,361.45 598.52,364.68 598.56,367.7 598.6,370.47 598.64,372.96 598.67,375.15 598.71,376.99 598.75,378.48 598.79,379.6 598.82,380.34 598.86,380.68 598.9,380.63 598.94,380.18 598.97,379.33 599.01,378.11 599.05,376.52 599.09,374.58 599.12,372.32 599.16,369.76 599.2,366.93 599.24,363.86 599.27,360.59 599.31,357.15 599.35,353.6 599.39,349.96 599.42,346.27 599.46,342.59 599.5,338.96 599.54,335.41 599.57,331.98 599.61,328.73 599.65,325.67 599.69,322.86 599.72,320.31 599.76,318.07 599.8,316.15 599.83,314.58 599.87,313.37 599.91,312.54 599.95,312.1 599.98,312.06 600.02,312.41 600.06,313.15 600.1,314.27 600.13,315.76 600.17,317.61 600.21,319.78 600.25,322.26 600.28,325.01 600.32,328.01 600.36,331.21 600.4,334.59 600.43,338.11 600.47,341.71 600.51,345.37 600.55,349.04 600.58,352.68 600.62,356.24 600.66,359.68 600.7,362.97 600.73,366.06 600.77,368.93 600.81,371.54 600.85,373.85 600.88,375.85 600.92,377.5 600.96,378.79 601,379.71 601.03,380.25 601.07,380.39 601.11,380.14 601.15,379.5 601.18,378.47 601.22,377.08 601.26,375.33 601.3,373.25 601.33,370.86 601.37,368.18 601.41,365.26 601.45,362.11 601.48,358.79 601.52,355.32 601.56,351.75 601.6,348.12 601.63,344.46 601.67,340.83 601.71,337.27 601.75,333.81 601.78,330.49 601.82,327.36 601.86,324.44 601.9,321.78 601.93,319.4 601.97,317.34 602.01,315.6 602.05,314.22 602.08,313.22 602.12,312.59 602.16,312.35 602.2,312.5 602.23,313.04 602.27,313.97 602.31,315.26 602.35,316.92 602.38,318.91 602.42,321.21 602.46,323.81 602.5,326.66 602.53,329.74 602.57,333.01 602.61,336.43 602.64,339.96 602.68,343.56 602.72,347.2 602.76,350.82 602.79,354.39 602.83,357.87 602.87,361.21 602.91,364.37 602.94,367.33 602.98,370.05 603.02,372.49 603.06,374.62 603.09,376.43 603.13,377.9 603.17,378.99 603.21,379.72 603.24,380.05 603.28,380 603.32,379.55 603.36,378.73 603.39,377.53 603.43,375.97 603.47,374.07 603.51,371.85 603.54,369.34 603.58,366.56 603.62,363.55 603.66,360.34 603.69,356.97 603.73,353.48 603.77,349.9 603.81,346.29 603.84,342.68 603.88,339.11 603.92,335.62 603.96,332.26 603.99,329.06 604.03,326.06 604.07,323.29 604.11,320.8 604.14,318.59 604.18,316.7 604.22,315.16 604.26,313.98 604.29,313.16 604.33,312.73 604.37,312.69 604.41,313.04 604.44,313.76 604.48,314.86 604.52,316.33 604.56,318.14 604.59,320.27 604.63,322.7 604.67,325.4 604.71,328.34 604.74,331.49 604.78,334.81 604.82,338.26 604.86,341.8 604.89,345.39 604.93,348.99 604.97,352.56 605.01,356.05 605.04,359.43 605.08,362.66 605.12,365.7 605.16,368.51 605.19,371.07 605.23,373.34 605.27,375.3 605.31,376.92 605.34,378.19 605.38,379.09 605.42,379.62 605.45,379.76 605.49,379.51 605.53,378.88 605.57,377.88 605.6,376.51 605.64,374.79 605.68,372.75 605.72,370.4 605.75,367.78 605.79,364.9 605.83,361.82 605.87,358.56 605.9,355.15 605.94,351.65 605.98,348.08 606.02,344.5 606.05,340.94 606.09,337.44 606.13,334.04 606.17,330.78 606.2,327.71 606.24,324.85 606.28,322.24 606.32,319.9 606.35,317.88 606.39,316.17 606.43,314.82 606.47,313.83 606.5,313.21 606.54,312.98 606.58,313.13 606.62,313.66 606.65,314.57 606.69,315.84 606.73,317.46 606.77,319.42 606.8,321.68 606.84,324.23 606.88,327.03 606.92,330.05 606.95,333.26 606.99,336.61 607.03,340.08 607.07,343.62 607.1,347.18 607.14,350.74 607.18,354.24 607.22,357.65 607.25,360.93 607.29,364.04 607.33,366.94 607.37,369.6 607.4,372 607.44,374.1 607.48,375.87 607.52,377.31 607.55,378.38 607.59,379.09 607.63,379.42 607.67,379.37 607.7,378.93 607.74,378.12 607.78,376.94 607.82,375.41 607.85,373.55 607.89,371.37 607.93,368.91 607.97,366.18 608,363.22 608.04,360.08 608.08,356.77 608.12,353.34 608.15,349.84 608.19,346.29 608.23,342.74 608.26,339.24 608.3,335.82 608.34,332.52 608.38,329.38 608.41,326.44 608.45,323.73 608.49,321.27 608.53,319.11 608.56,317.26 608.6,315.75 608.64,314.58 608.68,313.79 608.71,313.36 608.75,313.32 608.79,313.66 608.83,314.37 608.86,315.46 608.9,316.89 608.94,318.67 608.98,320.76 609.01,323.14 609.05,325.79 609.09,328.68 609.13,331.77 609.16,335.03 609.2,338.41 609.24,341.88 609.28,345.41 609.31,348.94 609.35,352.44 609.39,355.87 609.43,359.18 609.46,362.35 609.5,365.33 609.54,368.09 609.58,370.6 609.61,372.83 609.65,374.75 609.69,376.34 609.73,377.59 609.76,378.47 609.8,378.99 609.84,379.12 609.88,378.88 609.91,378.27 609.95,377.28 609.99,375.94 610.03,374.25 610.06,372.25 610.1,369.95 610.14,367.37 610.18,364.55 610.21,361.53 610.25,358.32 610.29,354.98 610.33,351.55 610.36,348.05 610.4,344.53 610.44,341.04 610.48,337.6 610.51,334.27 610.55,331.08 610.59,328.06 610.63,325.26 610.66,322.69 610.7,320.4 610.74,318.41 610.78,316.75 610.81,315.42 610.85,314.45 610.89,313.84 610.93,313.61 610.96,313.76 611,314.28" fill="none" stroke="#40e0d0" stroke-width="0.9" />
<polyline points="498.6,314.18 498.64,311.71 498.67,309.63 498.71,307.96 498.75,306.73 498.79,305.94 498.82,305.61 498.86,305.74 498.9,306.33 498.94,307.37 498.97,308.84 499.01,310.74 499.05,313.04 499.09,315.71 499.12,318.73 499.16,322.05 499.2,325.64 499.24,329.46 499.27,333.46 499.31,337.59 499.35,341.82 499.39,346.09 499.42,350.35 499.46,354.55 499.5,358.65 499.54,362.59 499.57,366.33 499.61,369.84 499.65,373.06 499.69,375.96 499.72,378.51 499.76,380.68 499.8,382.45 499.84,383.79 499.87,384.69 499.91,385.13 499.95,385.12 499.99,384.66 500.02,383.74 500.06,382.39 500.1,380.61 500.14,378.43 500.17,375.87 500.21,372.97 500.25,369.75 500.29,366.25 500.32,362.52 500.36,358.6 500.4,354.52 500.44,350.35 500.47,346.13 500.51,341.9 500.55,337.71 500.59,333.62 500.62,329.67 500.66,325.9 500.7,322.37 500.74,319.1 500.77,316.14 500.81,313.53 500.85,311.28 500.89,309.43 500.92,308 500.96,307 501,306.45 501.04,306.35 501.07,306.71 501.11,307.51 501.15,308.75 501.19,310.42 501.22,312.49 501.26,314.94 501.3,317.75 501.34,320.88 501.37,324.29 501.41,327.94 501.45,331.8 501.48,335.82 501.52,339.94 501.56,344.13 501.6,348.34 501.63,352.52 501.67,356.61 501.71,360.58 501.75,364.37 501.78,367.95 501.82,371.26 501.86,374.29 501.9,376.98 501.93,379.31 501.97,381.25 502.01,382.78 502.05,383.88 502.08,384.55 502.12,384.76 502.16,384.53 502.2,383.85 502.23,382.73 502.27,381.18 502.31,379.23 502.35,376.89 502.38,374.2 502.42,371.18 502.46,367.86 502.5,364.3 502.53,360.52 502.57,356.57 502.61,352.51 502.65,348.36 502.68,344.19 502.72,340.04 502.76,335.96 502.8,331.99 502.83,328.18 502.87,324.58 502.91,321.22 502.95,318.15 502.98,315.4 503.02,313 503.06,310.98 503.1,309.36 503.13,308.17 503.17,307.4 503.21,307.08 503.25,307.21 503.28,307.78 503.32,308.79 503.36,310.22 503.4,312.07 503.43,314.3 503.47,316.9 503.51,319.82 503.55,323.05 503.58,326.53 503.62,330.24 503.66,334.12 503.7,338.14 503.73,342.25 503.77,346.39 503.81,350.52 503.85,354.6 503.88,358.58 503.92,362.41 503.96,366.04 504,369.44 504.03,372.57 504.07,375.39 504.11,377.87 504.15,379.97 504.18,381.69 504.22,382.99 504.26,383.86 504.29,384.29 504.33,384.28 504.37,383.83 504.41,382.94 504.44,381.63 504.48,379.9 504.52,377.79 504.56,375.3 504.59,372.48 504.63,369.36 504.67,365.96 504.71,362.34 504.74,358.53 504.78,354.58 504.82,350.53 504.86,346.43 504.89,342.32 504.93,338.26 504.97,334.29 505.01,330.45 505.04,326.8 505.08,323.37 505.12,320.2 505.16,317.33 505.19,314.79 505.23,312.61 505.27,310.81 505.31,309.42 505.34,308.46 505.38,307.92 505.42,307.83 505.46,308.17 505.49,308.95 505.53,310.16 505.57,311.77 505.61,313.79 505.64,316.17 505.68,318.89 505.72,321.92 505.76,325.23 505.79,328.78 505.83,332.53 505.87,336.42 505.91,340.43 505.94,344.5 505.98,348.58 506.02,352.63 506.06,356.6 506.09,360.45 506.13,364.13 506.17,367.6 506.21,370.82 506.24,373.76 506.28,376.37 506.32,378.63 506.36,380.51 506.39,382 506.43,383.07 506.47,383.71 506.51,383.92 506.54,383.69 506.58,383.03 506.62,381.95 506.66,380.45 506.69,378.55 506.73,376.28 506.77,373.67 506.81,370.74 506.84,367.52 506.88,364.06 506.92,360.4 506.96,356.57 506.99,352.62 507.03,348.6 507.07,344.55 507.1,340.53 507.14,336.56 507.18,332.72 507.22,329.02 507.25,325.53 507.29,322.27 507.33,319.29 507.37,316.62 507.4,314.3 507.44,312.34 507.48,310.77 507.52,309.61 507.55,308.87 507.59,308.56 507.63,308.68 507.67,309.23 507.7,310.21 507.74,311.61 507.78,313.4 507.82,315.56 507.85,318.08 507.89,320.92 507.93,324.05 507.97,327.43 508,331.02 508.04,334.79 508.08,338.69 508.12,342.67 508.15,346.69 508.19,350.7 508.23,354.66 508.27,358.51 508.3,362.23 508.34,365.75 508.38,369.05 508.42,372.08 508.45,374.82 508.49,377.22 508.53,379.26 508.57,380.92 508.6,382.19 508.64,383.03 508.68,383.45 508.72,383.44 508.75,383 508.79,382.14 508.83,380.87 508.87,379.19 508.9,377.14 508.94,374.73 508.98,372 509.02,368.97 509.05,365.68 509.09,362.16 509.13,358.47 509.17,354.63 509.2,350.71 509.24,346.73 509.28,342.75 509.32,338.81 509.35,334.96 509.39,331.24 509.43,327.7 509.47,324.37 509.5,321.29 509.54,318.51 509.58,316.05 509.62,313.93 509.65,312.19 509.69,310.85 509.73,309.91 509.77,309.39 509.8,309.3 509.84,309.64 509.88,310.4 509.91,311.58 509.95,313.16 509.99,315.11 510.03,317.43 510.06,320.08 510.1,323.03 510.14,326.24 510.18,329.69 510.21,333.32 510.25,337.11 510.29,340.99 510.33,344.94 510.36,348.9 510.4,352.83 510.44,356.69 510.48,360.42 510.51,363.99 510.55,367.35 510.59,370.47 510.63,373.32 510.66,375.85 510.7,378.04 510.74,379.87 510.78,381.31 510.81,382.35 510.85,382.97 510.89,383.18 510.93,382.96 510.96,382.33 511,381.28 511.04,379.83 511.08,378 511.11,375.81 511.15,373.29 511.19,370.46 511.23,367.36 511.26,364.02 511.3,360.48 511.34,356.78 511.38,352.98 511.41,349.1 511.45,345.19 511.49,341.31 511.53,337.49 511.56,333.78 511.6,330.22 511.64,326.85 511.68,323.71 511.71,320.85 511.75,318.28 511.79,316.04 511.83,314.16 511.86,312.65 511.9,311.54 511.94,310.83 511.98,310.54 512.01,310.67 512.05,311.22 512.09,312.17 512.13,313.52 512.16,315.26 512.2,317.36 512.24,319.79 512.28,322.54 512.31,325.57 512.35,328.84 512.39,332.31 512.43,335.95 512.46,339.71 512.5,343.56 512.54,347.44 512.58,351.31 512.61,355.13 512.65,358.85 512.69,362.44 512.72,365.84 512.76,369.02 512.8,371.95 512.84,374.59 512.87,376.9 512.91,378.87 512.95,380.48 512.99,381.69 513.02,382.51 513.06,382.92 513.1,382.91 513.14,382.5 513.17,381.67 513.21,380.45 513.25,378.84 513.29,376.87 513.32,374.55 513.36,371.93 513.4,369.02 513.44,365.85 513.47,362.48 513.51,358.93 513.55,355.25 513.59,351.48 513.62,347.66 513.66,343.84 513.7,340.06 513.74,336.37 513.77,332.8 513.81,329.4 513.85,326.21 513.89,323.27 513.92,320.6 513.96,318.24 514,316.22 514.04,314.56 514.07,313.28 514.11,312.39 514.15,311.9 514.19,311.82 514.22,312.15 514.26,312.88 514.3,314.02 514.34,315.53 514.37,317.41 514.41,319.64 514.45,322.18 514.49,325.01 514.52,328.1 514.56,331.41 514.6,334.9 514.64,338.53 514.67,342.26 514.71,346.05 514.75,349.86 514.79,353.63 514.82,357.33 514.86,360.91 514.9,364.34 514.94,367.57 514.97,370.56 515.01,373.29 515.05,375.72 515.09,377.83 515.12,379.58 515.16,380.96 515.2,381.96 515.24,382.56 515.27,382.76 515.31,382.55 515.35,381.94 515.39,380.93 515.42,379.55 515.46,377.79 515.5,375.69 515.53,373.27 515.57,370.55 515.61,367.57 515.65,364.37 515.68,360.97 515.72,357.43 515.76,353.77 515.8,350.05 515.83,346.3 515.87,342.58 515.91,338.91 515.95,335.35 515.98,331.94 516.02,328.71 516.06,325.7 516.1,322.95 516.13,320.48 516.17,318.34 516.21,316.53 516.25,315.09 516.28,314.02 516.32,313.35 516.36,313.07 516.4,313.19 516.43,313.72 516.47,314.63 516.51,315.93 516.55,317.6 516.58,319.61 516.62,321.95 516.66,324.59 516.7,327.49 516.73,330.62 516.77,333.96 516.81,337.45 516.85,341.06 516.88,344.75 516.92,348.47 516.96,352.19 517,355.85 517.03,359.42 517.07,362.86 517.11,366.12 517.15,369.17 517.18,371.98 517.22,374.51 517.26,376.73 517.3,378.62 517.33,380.16 517.37,381.33 517.41,382.11 517.45,382.5 517.48,382.5 517.52,382.09 517.56,381.3 517.6,380.13 517.63,378.59 517.67,376.7 517.71,374.48 517.75,371.96 517.78,369.17 517.82,366.14 517.86,362.9 517.9,359.5 517.93,355.97 517.97,352.36 518.01,348.7 518.05,345.03 518.08,341.41 518.12,337.87 518.16,334.45 518.2,331.19 518.23,328.14 518.27,325.31 518.31,322.76 518.34,320.5 518.38,318.56 518.42,316.97 518.46,315.74 518.49,314.89 518.53,314.42 518.57,314.35 518.61,314.66 518.64,315.37 518.68,316.45 518.72,317.91 518.76,319.71 518.79,321.85 518.83,324.28 518.87,327 518.91,329.96 518.94,333.13 518.98,336.47 519.02,339.96 519.06,343.53 519.09,347.17 519.13,350.81 519.17,354.43 519.21,357.97 519.24,361.4 519.28,364.69 519.32,367.78 519.36,370.65 519.39,373.27 519.43,375.6 519.47,377.61 519.51,379.29 519.54,380.62 519.58,381.57 519.62,382.15 519.66,382.34 519.69,382.14 519.73,381.55 519.77,380.59 519.81,379.26 519.84,377.58 519.88,375.56 519.92,373.24 519.96,370.64 519.99,367.79 520.03,364.72 520.07,361.47 520.11,358.07 520.14,354.57 520.18,351.01 520.22,347.42 520.26,343.85 520.29,340.34 520.33,336.93 520.37,333.66 520.41,330.57 520.44,327.69 520.48,325.05 520.52,322.69 520.56,320.64 520.59,318.91 520.63,317.53 520.67,316.51 520.71,315.86 520.74,315.6 520.78,315.72 520.82,316.22 520.86,317.1 520.89,318.34 520.93,319.94 520.97,321.87 521.01,324.11 521.04,326.63 521.08,329.41 521.12,332.39 521.15,335.56 521.19,338.89 521.23,342.34 521.27,345.86 521.3,349.41 521.34,352.97 521.38,356.47 521.42,359.89 521.45,363.19 521.49,366.32 521.53,369.25 521.57,371.95 521.6,374.38 521.64,376.52 521.68,378.34 521.72,379.82 521.75,380.95 521.79,381.7 521.83,382.08 521.87,382.08 521.9,381.69 521.94,380.92 521.98,379.78 522.02,378.29 522.05,376.46 522.09,374.31 522.13,371.86 522.17,369.15 522.2,366.2 522.24,363.05 522.28,359.74 522.32,356.3 522.35,352.77 522.39,349.2 522.43,345.62 522.47,342.08 522.5,338.61 522.54,335.26 522.58,332.07 522.62,329.06 522.65,326.28 522.69,323.76 522.73,321.53 522.77,319.61 522.8,318.03 522.84,316.8 522.88,315.93 522.92,315.45 522.95,315.34 522.99,315.62 523.03,316.28 523.07,317.32 523.1,318.72 523.14,320.46 523.18,322.52 523.22,324.89 523.25,327.53 523.29,330.42 523.33,333.52 523.37,336.79 523.4,340.19 523.44,343.7 523.48,347.26 523.52,350.84 523.55,354.39 523.59,357.87 523.63,361.25 523.67,364.49 523.7,367.54 523.74,370.37 523.78,372.95 523.82,375.25 523.85,377.24 523.89,378.9 523.93,380.21 523.96,381.16 524,381.73 524.04,381.92 524.08,381.72 524.11,381.14 524.15,380.18 524.19,378.86 524.23,377.18 524.26,375.18 524.3,372.86 524.34,370.27 524.38,367.42 524.41,364.36 524.45,361.11 524.49,357.71 524.53,354.2 524.56,350.63 524.6,347.03 524.64,343.45 524.68,339.92 524.71,336.49 524.75,333.2 524.79,330.08 524.83,327.17 524.86,324.51 524.9,322.12 524.94,320.03 524.98,318.27 525.01,316.85 525.05,315.8 525.09,315.12 525.13,314.82 525.16,314.91 525.2,315.38 525.24,316.24 525.28,317.46 525.31,319.04 525.35,320.95 525.39,323.19 525.43,325.71 525.46,328.49 525.5,331.5 525.54,334.7 525.58,338.06 525.61,341.54 525.65,345.09 525.69,348.68 525.73,352.27 525.76,355.81 525.8,359.26 525.84,362.59 525.88,365.75 525.91,368.71 525.95,371.43 525.99,373.89 526.03,376.05 526.06,377.88 526.1,379.38 526.14,380.52 526.18,381.28 526.21,381.66 526.25,381.65 526.29,381.26 526.33,380.49 526.36,379.34 526.4,377.83 526.44,375.98 526.48,373.81 526.51,371.34 526.55,368.6 526.59,365.63 526.63,362.45 526.66,359.11 526.7,355.63 526.74,352.07 526.77,348.47 526.81,344.85 526.85,341.28 526.89,337.78 526.92,334.4 526.96,331.17 527,328.14 527.04,325.33 527.07,322.79 527.11,320.54 527.15,318.6 527.19,317 527.22,315.76 527.26,314.88 527.3,314.39 527.34,314.29 527.37,314.57 527.41,315.24 527.45,316.29 527.49,317.7 527.52,319.45 527.56,321.54 527.6,323.93 527.64,326.6 527.67,329.51 527.71,332.64 527.75,335.94 527.79,339.38 527.82,342.91 527.86,346.51 527.9,350.12 527.94,353.71 527.97,357.22 528.01,360.64 528.05,363.9 528.09,366.98 528.12,369.84 528.16,372.44 528.2,374.76 528.24,376.77 528.27,378.45 528.31,379.77 528.35,380.73 528.39,381.31 528.42,381.49 528.46,381.29 528.5,380.71 528.54,379.74 528.57,378.41 528.61,376.72 528.65,374.69 528.69,372.36 528.72,369.74 528.76,366.86 528.8,363.77 528.84,360.49 528.87,357.06 528.91,353.52 528.95,349.92 528.99,346.28 529.02,342.67 529.06,339.11 529.1,335.65 529.14,332.32 529.17,329.17 529.21,326.24 529.25,323.55 529.29,321.13 529.32,319.02 529.36,317.25 529.4,315.82 529.44,314.75 529.47,314.07 529.51,313.77 529.55,313.86 529.58,314.34 529.62,315.2 529.66,316.43 529.7,318.03 529.73,319.96 529.77,322.21 529.81,324.76 529.85,327.56 529.88,330.6 529.92,333.83 529.96,337.23 530,340.74 530.03,344.32 530.07,347.95 530.11,351.57 530.15,355.14 530.18,358.63 530.22,361.99 530.26,365.18 530.3,368.16 530.33,370.91 530.37,373.39 530.41,375.57 530.45,377.43 530.48,378.94 530.52,380.08 530.56,380.85 530.6,381.24 530.63,381.23 530.67,380.84 530.71,380.06 530.75,378.9 530.78,377.38 530.82,375.51 530.86,373.32 530.9,370.82 530.93,368.06 530.97,365.06 531.01,361.85 531.05,358.47 531.08,354.97 531.12,351.38 531.16,347.73 531.2,344.09 531.23,340.48 531.27,336.94 531.31,333.53 531.35,330.27 531.38,327.21 531.42,324.38 531.46,321.82 531.5,319.54 531.53,317.59 531.57,315.97 531.61,314.72 531.65,313.84 531.68,313.34 531.72,313.24 531.76,313.52 531.8,314.2 531.83,315.25 531.87,316.68 531.91,318.45 531.95,320.56 531.98,322.97 532.02,325.66 532.06,328.6 532.1,331.76 532.13,335.09 532.17,338.56 532.21,342.13 532.25,345.76 532.28,349.4 532.32,353.02 532.36,356.58 532.39,360.03 532.43,363.33 532.47,366.45 532.51,369.34 532.54,371.98 532.58,374.34 532.62,376.38 532.66,378.09 532.69,379.44 532.73,380.42 532.77,381.01 532.81,381.21 532.84,381.02 532.88,380.44 532.92,379.47 532.96,378.12 532.99,376.42 533.03,374.38 533.07,372.01 533.11,369.36 533.14,366.45 533.18,363.31 533.22,359.98 533.26,356.5 533.29,352.91 533.33,349.24 533.37,345.55 533.41,341.87 533.44,338.24 533.48,334.71 533.52,331.33 533.56,328.11 533.59,325.12 533.63,322.37 533.67,319.9 533.71,317.74 533.74,315.92 533.78,314.45 533.82,313.36 533.86,312.65 533.89,312.34 533.93,312.42 533.97,312.9 534.01,313.77 534.04,315.03 534.08,316.65 534.12,318.62 534.16,320.92 534.19,323.52 534.23,326.39 534.27,329.5 534.31,332.81 534.34,336.28 534.38,339.88 534.42,343.56 534.46,347.28 534.49,350.99 534.53,354.66 534.57,358.25 534.61,361.7 534.64,364.98 534.68,368.06 534.72,370.89 534.76,373.45 534.79,375.7 534.83,377.62 534.87,379.18 534.91,380.37 534.94,381.17 534.98,381.58 535.02,381.59 535.06,381.19 535.09,380.4 535.13,379.21 535.17,377.65 535.2,375.74 535.24,373.48 535.28,370.92 535.32,368.07 535.35,364.98 535.39,361.67 535.43,358.19 535.47,354.57 535.5,350.85 535.54,347.09 535.58,343.32 535.62,339.58 535.65,335.92 535.69,332.39 535.73,329.01 535.77,325.84 535.8,322.9 535.84,320.23 535.88,317.87 535.92,315.83 535.95,314.15 535.99,312.84 536.03,311.92 536.07,311.39 536.1,311.28 536.14,311.56 536.18,312.26 536.22,313.34 536.25,314.82 536.29,316.65 536.33,318.84 536.37,321.34 536.4,324.14 536.44,327.2 536.48,330.48 536.52,333.95 536.55,337.56 536.59,341.28 536.63,345.07 536.67,348.87 536.7,352.65 536.74,356.36 536.78,359.96 536.82,363.4 536.85,366.65 536.89,369.67 536.93,372.43 536.97,374.89 537,377.02 537.04,378.8 537.08,380.21 537.12,381.23 537.15,381.85 537.19,382.06 537.23,381.86 537.27,381.25 537.3,380.24 537.34,378.83 537.38,377.05 537.42,374.92 537.45,372.46 537.49,369.69 537.53,366.66 537.57,363.38 537.6,359.91 537.64,356.28 537.68,352.53 537.72,348.71 537.75,344.86 537.79,341.02 537.83,337.24 537.87,333.56 537.9,330.03 537.94,326.68 537.98,323.55 538.01,320.69 538.05,318.11 538.09,315.87 538.13,313.97 538.16,312.44 538.2,311.3 538.24,310.56 538.28,310.23 538.31,310.32 538.35,310.82 538.39,311.73 538.43,313.04 538.46,314.73 538.5,316.79 538.54,319.19 538.58,321.9 538.61,324.89 538.65,328.13 538.69,331.58 538.73,335.2 538.76,338.95 538.8,342.79 538.84,346.66 538.88,350.54 538.91,354.37 538.95,358.1 538.99,361.7 539.03,365.12 539.06,368.33 539.1,371.28 539.14,373.95 539.18,376.29 539.21,378.29 539.25,379.92 539.29,381.16 539.33,382 539.36,382.42 539.4,382.43 539.44,382.01 539.48,381.19 539.51,379.95 539.55,378.33 539.59,376.33 539.63,373.98 539.66,371.31 539.7,368.34 539.74,365.12 539.78,361.67 539.81,358.04 539.85,354.27 539.89,350.4 539.93,346.48 539.96,342.55 540,338.65 540.04,334.84 540.08,331.16 540.11,327.64 540.15,324.33 540.19,321.27 540.23,318.49 540.26,316.03 540.3,313.91 540.34,312.16 540.38,310.8 540.41,309.84 540.45,309.29 540.49,309.17 540.53,309.47 540.56,310.19 540.6,311.33 540.64,312.86 540.68,314.78 540.71,317.05 540.75,319.66 540.79,322.58 540.82,325.76 540.86,329.18 540.9,332.79 540.94,336.56 540.97,340.44 541.01,344.38 541.05,348.34 541.09,352.27 541.12,356.14 541.16,359.88 541.2,363.47 541.24,366.86 541.27,370 541.31,372.87 541.35,375.43 541.39,377.65 541.42,379.51 541.46,380.97 541.5,382.03 541.54,382.68 541.57,382.9 541.61,382.69 541.65,382.05 541.69,381 541.72,379.54 541.76,377.69 541.8,375.47 541.84,372.9 541.87,370.02 541.91,366.86 541.95,363.45 541.99,359.84 542.02,356.06 542.06,352.15 542.1,348.18 542.14,344.16 542.17,340.17 542.21,336.23 542.25,332.4 542.29,328.73 542.32,325.24 542.36,321.99 542.4,319.01 542.44,316.33 542.47,313.99 542.51,312.01 542.55,310.42 542.59,309.23 542.62,308.46 542.66,308.13 542.7,308.22 542.74,308.74 542.77,309.69 542.81,311.05 542.85,312.81 542.89,314.95 542.92,317.45 542.96,320.27 543,323.39 543.04,326.76 543.07,330.35 543.11,334.12 543.15,338.02 543.19,342.02 543.22,346.05 543.26,350.09 543.3,354.07 543.34,357.96 543.37,361.7 543.41,365.26 543.45,368.6 543.49,371.67 543.52,374.44 543.56,376.88 543.6,378.97 543.63,380.67 543.67,381.96 543.71,382.84 543.75,383.28 543.78,383.29 543.82,382.86 543.86,382 543.9,380.72 543.93,379.04 543.97,376.96 544.01,374.52 544.05,371.74 544.08,368.66 544.12,365.31 544.16,361.73 544.2,357.95 544.23,354.03 544.27,350.01 544.31,345.94 544.35,341.85 544.38,337.81 544.42,333.85 544.46,330.02 544.5,326.36 544.53,322.92 544.57,319.75 544.61,316.86 544.65,314.3 544.68,312.1 544.72,310.28 544.76,308.87 544.8,307.87 544.83,307.31 544.87,307.19 544.91,307.51 544.95,308.26 544.98,309.45 545.02,311.05 545.06,313.04 545.1,315.41 545.13,318.13 545.17,321.17 545.21,324.48 545.25,328.04 545.28,331.8 545.32,335.73 545.36,339.76 545.4,343.86 545.43,347.99 545.47,352.08 545.51,356.1 545.55,360 545.58,363.74 545.62,367.26 545.66,370.54 545.7,373.53 545.73,376.19 545.77,378.5 545.81,380.43 545.85,381.96 545.88,383.07 545.92,383.74 545.96,383.97 546,383.76 546.03,383.1 546.07,382.01 546.11,380.49 546.15,378.57 546.18,376.27 546.22,373.6 546.26,370.61 546.3,367.33 546.33,363.79 546.37,360.03 546.41,356.11 546.44,352.06 546.48,347.92 546.52,343.76 546.56,339.61 546.59,335.52 546.63,331.54 546.67,327.72 546.71,324.11 546.74,320.73 546.78,317.63 546.82,314.85 546.86,312.43 546.89,310.38 546.93,308.73 546.97,307.5 547.01,306.7 547.04,306.35 547.08,306.45 547.12,307 547.16,307.99 547.19,309.41 547.23,311.25 547.27,313.48 547.31,316.08 547.34,319.01 547.38,322.25 547.42,325.76 547.46,329.5 547.49,333.42 547.53,337.48 547.57,341.63 547.61,345.83 547.64,350.02 547.68,354.17 547.72,358.21 547.76,362.11 547.79,365.81 547.83,369.28 547.87,372.48 547.91,375.36 547.94,377.9 547.98,380.06 548.02,381.83 548.06,383.17 548.09,384.08 548.13,384.54 548.17,384.55 548.21,384.11 548.24,383.21 548.28,381.88 548.32,380.13 548.36,377.97 548.39,375.44 548.43,372.55 548.47,369.35 548.51,365.87 548.54,362.15 548.58,358.23 548.62,354.16 548.66,349.98 548.69,345.74 548.73,341.5 548.77,337.3 548.81,333.19 548.84,329.21 548.88,325.41 548.92,321.84 548.96,318.54 548.99,315.55 549.03,312.89 549.07,310.6 549.11,308.72 549.14,307.25 549.18,306.22 549.22,305.63 549.25,305.51 549.29,305.84 549.33,306.62 549.37,307.85 549.4,309.51 549.44,311.59 549.48,314.05 549.52,316.87 549.55,320.03 549.59,323.47 549.63,327.17 549.67,331.07 549.7,335.14 549.74,339.33 549.78,343.59 549.82,347.88 549.85,352.13 549.89,356.3 549.93,360.35 549.97,364.23 550,367.89 550.04,371.29 550.08,374.39 550.12,377.16 550.15,379.56 550.19,381.56 550.23,383.15 550.27,384.3 550.3,385 550.34,385.23 550.38,385.01 550.42,384.33 550.45,383.2 550.49,381.62 550.53,379.63 550.57,377.23 550.6,374.47 550.64,371.36 550.68,367.95 550.72,364.28 550.75,360.38 550.79,356.31 550.83,352.1 550.87,347.81 550.9,343.49 550.94,339.18 550.98,334.94 551.02,330.81 551.05,326.85 551.09,323.09 551.13,319.59 551.17,316.37 551.2,313.49 551.24,310.97 551.28,308.84 551.32,307.13 551.35,305.85 551.39,305.03 551.43,304.67 551.47,304.77 551.5,305.34 551.54,306.37 551.58,307.85 551.62,309.75 551.65,312.07 551.69,314.76 551.73,317.81 551.77,321.17 551.8,324.82 551.84,328.69 551.88,332.76 551.92,336.97 551.95,341.28 551.99,345.64 552.03,349.99 552.06,354.29 552.1,358.48 552.14,362.53 552.18,366.37 552.21,369.97 552.25,373.29 552.29,376.28 552.33,378.91 552.36,381.16 552.4,382.99 552.44,384.38 552.48,385.33 552.51,385.8 552.55,385.81 552.59,385.35 552.63,384.42 552.66,383.04 552.7,381.22 552.74,378.99 552.78,376.36 552.81,373.36 552.85,370.04 552.89,366.43 552.93,362.57 552.96,358.5 553,354.28 553.04,349.95 553.08,345.55 553.11,341.15 553.15,336.79 553.19,332.53 553.23,328.4 553.26,324.46 553.3,320.76 553.34,317.34 553.38,314.23 553.41,311.48 553.45,309.11 553.49,307.15 553.53,305.63 553.56,304.56 553.6,303.95 553.64,303.82 553.68,304.17 553.71,304.98 553.75,306.26 553.79,307.98 553.83,310.13 553.86,312.69 553.9,315.61 553.94,318.88 553.98,322.45 554.01,326.29 554.05,330.34 554.09,334.56 554.13,338.91 554.16,343.32 554.2,347.76 554.24,352.17 554.28,356.5 554.31,360.7 554.35,364.72 554.39,368.52 554.43,372.04 554.46,375.26 554.5,378.13 554.54,380.61 554.58,382.69 554.61,384.34 554.65,385.53 554.69,386.25 554.73,386.5 554.76,386.27 554.8,385.56 554.84,384.38 554.87,382.74 554.91,380.67 554.95,378.18 554.99,375.31 555.02,372.09 555.06,368.56 555.1,364.76 555.14,360.73 555.17,356.51 555.21,352.16 555.25,347.73 555.29,343.27 555.32,338.82 555.36,334.45 555.4,330.2 555.44,326.11 555.47,322.24 555.51,318.64 555.55,315.34 555.59,312.38 555.62,309.79 555.66,307.61 555.7,305.86 555.74,304.56 555.77,303.73 555.81,303.37 555.85,303.5 555.89,304.1 555.92,305.17 555.96,306.7 556,308.67 556.04,311.06 556.07,313.85 556.11,316.99 556.15,320.45 556.19,324.2 556.22,328.19 556.26,332.37 556.3,336.7 556.34,341.13 556.37,345.6 556.41,350.06 556.45,354.46 556.49,358.76 556.52,362.9 556.56,366.84 556.6,370.52 556.64,373.91 556.67,376.96 556.71,379.65 556.75,381.94 556.79,383.81 556.82,385.23 556.86,386.18 556.9,386.66 556.94,386.66 556.97,386.19 557.01,385.23 557.05,383.82 557.09,381.95 557.12,379.67 557.16,376.98 557.2,373.92 557.24,370.54 557.27,366.85 557.31,362.92 557.35,358.78 557.39,354.48 557.42,350.07 557.46,345.61 557.5,341.14 557.54,336.71 557.57,332.38 557.61,328.19 557.65,324.2 557.68,320.45 557.72,316.98 557.76,313.84 557.8,311.06 557.83,308.66 557.87,306.69 557.91,305.16 557.95,304.09 557.98,303.49 558.02,303.38 558.06,303.74 558.1,304.58 558.13,305.88 558.17,307.64 558.21,309.83 558.25,312.43 558.28,315.4 558.32,318.72 558.36,322.34 558.4,326.23 558.43,330.33 558.47,334.6 558.51,338.99 558.55,343.46 558.58,347.94 558.62,352.4 558.66,356.76 558.7,361 558.73,365.05 558.77,368.88 558.81,372.43 558.85,375.66 558.88,378.55 558.92,381.05 558.96,383.13 559,384.78 559.03,385.97 559.07,386.69 559.11,386.93 559.15,386.69 559.18,385.98 559.22,384.79 559.26,383.14 559.3,381.06 559.33,378.56 559.37,375.68 559.41,372.44 559.45,368.89 559.48,365.07 559.52,361.02 559.56,356.78 559.6,352.41 559.63,347.96 559.67,343.47 559.71,339 559.75,334.61 559.78,330.33 559.82,326.23 559.86,322.34 559.9,318.72 559.93,315.4 559.97,312.42 560.01,309.82 560.05,307.63 560.08,305.88 560.12,304.57 560.16,303.73 560.2,303.37 560.23,303.5 560.27,304.1 560.31,305.18 560.35,306.72 560.38,308.7 560.42,311.1 560.46,313.9 560.49,317.06 560.53,320.54 560.57,324.31 560.61,328.31 560.64,332.52 560.68,336.87 560.72,341.32 560.76,345.81 560.79,350.29 560.83,354.72 560.87,359.04 560.91,363.2 560.94,367.16 560.98,370.86 561.02,374.26 561.06,377.34 561.09,380.04 561.13,382.34 561.17,384.21 561.21,385.64 561.24,386.6 561.28,387.08 561.32,387.08 561.36,386.6 561.39,385.65 561.43,384.22 561.47,382.35 561.51,380.05 561.54,377.35 561.58,374.28 561.62,370.87 561.66,367.17 561.69,363.22 561.73,359.06 561.77,354.74 561.81,350.31 561.84,345.82 561.88,341.33 561.92,336.88 561.96,332.52 561.99,328.32 562.03,324.31 562.07,320.54 562.11,317.05 562.14,313.89 562.18,311.09 562.22,308.69 562.26,306.71 562.29,305.17 562.33,304.09 562.37,303.49 562.41,303.38 562.44,303.74 562.48,304.58 562.52,305.9 562.56,307.66 562.59,309.87 562.63,312.48 562.67,315.46 562.71,318.8 562.74,322.44 562.78,326.34 562.82,330.46 562.86,334.76 562.89,339.17 562.93,343.66 562.97,348.17 563.01,352.64 563.04,357.03 563.08,361.29 563.12,365.36 563.16,369.21 563.19,372.77 563.23,376.03 563.27,378.93 563.3,381.44 563.34,383.53 563.38,385.19 563.42,386.39 563.45,387.11 563.49,387.36 563.53,387.11 563.57,386.39 563.6,385.2 563.64,383.54 563.68,381.45 563.72,378.94 563.75,376.04 563.79,372.79 563.83,369.22 563.87,365.38 563.9,361.31 563.94,357.05 563.98,352.66 564.02,348.18 564.05,343.67 564.09,339.18 564.13,334.76 564.17,330.47 564.2,326.34 564.24,322.44 564.28,318.79 564.32,315.46 564.35,312.47 564.39,309.86 564.43,307.66 564.47,305.89 564.5,304.58 564.54,303.74 564.58,303.37 564.62,303.5 564.65,304.1 564.69,305.19 564.73,306.73 564.77,308.73 564.8,311.14 564.84,313.95 564.88,317.13 564.92,320.63 564.95,324.41 564.99,328.44 565.03,332.67 565.07,337.04 565.1,341.51 565.14,346.02 565.18,350.53 565.22,354.98 565.25,359.32 565.29,363.5 565.33,367.48 565.37,371.2 565.4,374.62 565.44,377.71 565.48,380.42 565.52,382.74 565.55,384.62 565.59,386.05 565.63,387.02 565.67,387.5 565.7,387.51 565.74,387.02 565.78,386.06 565.82,384.63 565.85,382.75 565.89,380.44 565.93,377.72 565.97,374.64 566,371.21 566.04,367.49 566.08,363.52 566.11,359.34 566.15,355 566.19,350.55 566.23,346.04 566.26,341.53 566.3,337.06 566.34,332.69 566.38,328.47 566.41,324.45 566.45,320.67 566.49,317.17 566.53,314 566.56,311.2 566.6,308.79 566.64,306.81 566.68,305.27 566.71,304.19 566.75,303.6 566.79,303.48 566.83,303.85 566.86,304.71 566.9,306.03 566.94,307.81 566.98,310.02 567.01,312.64 567.05,315.64 567.09,318.99 567.13,322.64 567.16,326.56 567.2,330.69 567.24,335 567.28,339.43 567.31,343.93 567.35,348.45 567.39,352.93 567.43,357.33 567.46,361.6 567.5,365.68 567.54,369.53 567.58,373.1 567.61,376.36 567.65,379.26 567.69,381.77 567.73,383.87 567.76,385.53 567.8,386.72 567.84,387.45 567.88,387.69 567.91,387.45 567.95,386.72 567.99,385.52 568.03,383.87 568.06,381.77 568.1,379.26 568.14,376.36 568.18,373.11 568.21,369.54 568.25,365.7 568.29,361.62 568.33,357.37 568.36,352.98 568.4,348.5 568.44,344 568.48,339.51 568.51,335.1 568.55,330.81 568.59,326.69 568.63,322.79 568.66,319.16 568.7,315.83 568.74,312.85 568.78,310.24 568.81,308.05 568.85,306.29 568.89,304.99 568.92,304.15 568.96,303.8 569,303.92 569.04,304.54 569.07,305.62 569.11,307.17 569.15,309.16 569.19,311.58 569.22,314.39 569.26,317.56 569.3,321.05 569.34,324.83 569.37,328.86 569.41,333.07 569.45,337.44 569.49,341.89 569.52,346.4 569.56,350.9 569.6,355.33 569.64,359.66 569.67,363.83 569.71,367.79 569.75,371.5 569.79,374.91 569.82,377.98 569.86,380.69 569.9,382.99 569.94,384.87 569.97,386.29 570.01,387.25 570.05,387.73 570.09,387.73 570.12,387.25 570.16,386.29 570.2,384.87 570.24,382.99 570.27,380.69 570.31,377.99 570.35,374.91 570.39,371.51 570.42,367.81 570.46,363.85 570.5,359.69 570.54,355.37 570.57,350.95 570.61,346.46 570.65,341.97 570.69,337.53 570.72,333.18 570.76,328.98 570.8,324.97 570.84,321.21 570.87,317.73 570.91,314.58 570.95,311.79 570.99,309.4 571.02,307.42 571.06,305.89 571.1,304.82 571.14,304.23 571.17,304.12 571.21,304.48 571.25,305.33 571.29,306.65 571.32,308.42 571.36,310.62 571.4,313.23 571.44,316.21 571.47,319.54 571.51,323.18 571.55,327.08 571.59,331.19 571.62,335.48 571.66,339.88 571.7,344.36 571.73,348.85 571.77,353.32 571.81,357.7 571.85,361.94 571.88,366 571.92,369.83 571.96,373.38 572,376.62 572.03,379.51 572.07,382.01 572.11,384.1 572.15,385.75 572.18,386.94 572.22,387.66 572.26,387.9 572.3,387.66 572.33,386.94 572.37,385.75 572.41,384.1 572.45,382.01 572.48,379.51 572.52,376.63 572.56,373.39 572.6,369.84 572.63,366.02 572.67,361.97 572.71,357.73 572.75,353.36 572.78,348.91 572.82,344.43 572.86,339.97 572.9,335.57 572.93,331.3 572.97,327.21 573.01,323.33 573.05,319.71 573.08,316.4 573.12,313.43 573.16,310.84 573.2,308.66 573.23,306.91 573.27,305.61 573.31,304.78 573.35,304.43 573.38,304.56 573.42,305.16 573.46,306.24 573.5,307.78 573.53,309.77 573.57,312.17 573.61,314.97 573.65,318.12 573.68,321.6 573.72,325.36 573.76,329.36 573.8,333.56 573.83,337.9 573.87,342.34 573.91,346.82 573.95,351.29 573.98,355.71 574.02,360.01 574.06,364.16 574.1,368.1 574.13,371.79 574.17,375.18 574.21,378.24 574.25,380.93 574.28,383.23 574.32,385.09 574.36,386.51 574.4,387.46 574.43,387.94 574.47,387.94 574.51,387.46 574.54,386.51 574.58,385.09 574.62,383.23 574.66,380.94 574.69,378.25 574.73,375.19 574.77,371.8 574.81,368.12 574.84,364.18 574.88,360.04 574.92,355.75 574.96,351.34 574.99,346.88 575.03,342.41 575.07,337.99 575.11,333.66 575.14,329.48 575.18,325.5 575.22,321.76 575.26,318.3 575.29,315.16 575.33,312.39 575.37,310 575.41,308.04 575.44,306.51 575.48,305.45 575.52,304.86 575.56,304.75 575.59,305.11 575.63,305.96 575.67,307.27 575.71,309.03 575.74,311.22 575.78,313.81 575.82,316.79 575.86,320.1 575.89,323.71 575.93,327.59 575.97,331.69 576.01,335.95 576.04,340.33 576.08,344.79 576.12,349.26 576.16,353.7 576.19,358.06 576.23,362.28 576.27,366.32 576.31,370.13 576.34,373.67 576.38,376.89 576.42,379.76 576.46,382.25 576.49,384.33 576.53,385.97 576.57,387.15 576.61,387.87 576.64,388.11 576.68,387.87 576.72,387.15 576.76,385.97 576.79,384.33 576.83,382.25 576.87,379.76 576.91,376.89 576.94,373.68 576.98,370.14 577.02,366.34 577.06,362.31 577.09,358.09 577.13,353.75 577.17,349.32 577.21,344.86 577.24,340.42 577.28,336.05 577.32,331.8 577.35,327.72 577.39,323.86 577.43,320.27 577.47,316.97 577.5,314.02 577.54,311.45 577.58,309.28 577.62,307.54 577.65,306.25 577.69,305.43 577.73,305.08 577.77,305.21 577.8,305.82 577.84,306.89 577.88,308.42 577.92,310.39 577.95,312.78 577.99,315.55 578.03,318.68 578.07,322.14 578.1,325.87 578.14,329.84 578.18,334 578.22,338.3 578.25,342.7 578.29,347.14 578.33,351.57 578.37,355.94 578.4,360.2 578.44,364.31 578.48,368.21 578.52,371.85 578.55,375.21 578.59,378.23 578.63,380.89 578.67,383.15 578.7,384.99 578.74,386.38 578.78,387.32 578.82,387.79 578.85,387.78 578.89,387.29 578.93,386.34 578.97,384.93 579,383.07 579.04,380.8 579.08,378.13 579.12,375.1 579.15,371.75 579.19,368.1 579.23,364.21 579.27,360.11 579.3,355.86 579.34,351.5 579.38,347.09 579.42,342.68 579.45,338.31 579.49,334.03 579.53,329.91 579.57,325.97 579.6,322.28 579.64,318.86 579.68,315.77 579.72,313.03 579.75,310.68 579.79,308.74 579.83,307.24 579.87,306.2 579.9,305.62 579.94,305.51 579.98,305.87 580.02,306.7 580.05,308 580.09,309.73 580.13,311.89 580.16,314.45 580.2,317.38 580.24,320.64 580.28,324.2 580.31,328.01 580.35,332.04 580.39,336.24 580.43,340.55 580.46,344.93 580.5,349.33 580.54,353.69 580.58,357.97 580.61,362.12 580.65,366.08 580.69,369.82 580.73,373.29 580.76,376.46 580.8,379.27 580.84,381.71 580.88,383.74 580.91,385.34 580.95,386.5 580.99,387.19 581.03,387.42 581.06,387.18 581.1,386.46 581.14,385.29 581.18,383.67 581.21,381.63 581.25,379.18 581.29,376.36 581.33,373.19 581.36,369.72 581.4,365.98 581.44,362.02 581.48,357.88 581.51,353.62 581.55,349.27 581.59,344.9 581.63,340.55 581.66,336.26 581.7,332.1 581.74,328.1 581.78,324.32 581.81,320.8 581.85,317.57 581.89,314.68 581.93,312.16 581.96,310.04 582,308.33 582.04,307.07 582.08,306.26 582.11,305.92 582.15,306.05 582.19,306.64 582.23,307.7 582.26,309.2 582.3,311.13 582.34,313.46 582.38,316.18 582.41,319.25 582.45,322.63 582.49,326.29 582.53,330.18 582.56,334.25 582.6,338.47 582.64,342.77 582.68,347.12 582.71,351.47 582.75,355.75 582.79,359.93 582.83,363.95 582.86,367.76 582.9,371.34 582.94,374.62 582.97,377.59 583.01,380.19 583.05,382.4 583.09,384.21 583.12,385.57 583.16,386.49 583.2,386.95 583.24,386.94 583.27,386.46 583.31,385.53 583.35,384.14 583.39,382.33 583.42,380.1 583.46,377.49 583.5,374.52 583.54,371.23 583.57,367.66 583.61,363.85 583.65,359.83 583.69,355.67 583.72,351.4 583.76,347.08 583.8,342.76 583.84,338.48 583.87,334.29 583.91,330.25 583.95,326.39 583.99,322.77 584.02,319.43 584.06,316.4 584.1,313.72 584.14,311.42 584.17,309.52 584.21,308.05 584.25,307.02 584.29,306.46 584.32,306.35 584.36,306.71 584.4,307.52 584.44,308.79 584.47,310.49 584.51,312.6 584.55,315.11 584.59,317.97 584.62,321.17 584.66,324.66 584.7,328.4 584.74,332.34 584.77,336.45 584.81,340.67 584.85,344.96 584.89,349.27 584.92,353.54 584.96,357.74 585,361.8 585.04,365.68 585.07,369.35 585.11,372.74 585.15,375.84 585.19,378.6 585.22,380.99 585.26,382.98 585.3,384.54 585.34,385.68 585.37,386.36 585.41,386.58 585.45,386.34 585.49,385.64 585.52,384.49 585.56,382.91 585.6,380.9 585.64,378.51 585.67,375.74 585.71,372.64 585.75,369.24 585.78,365.58 585.82,361.7 585.86,357.65 585.9,353.47 585.93,349.22 585.97,344.93 586.01,340.67 586.05,336.47 586.08,332.4 586.12,328.49 586.16,324.78 586.2,321.33 586.23,318.17 586.27,315.34 586.31,312.87 586.35,310.79 586.38,309.13 586.42,307.89 586.46,307.1 586.5,306.77 586.53,306.89 586.57,307.47 586.61,308.5 586.65,309.97 586.68,311.86 586.72,314.15 586.76,316.81 586.8,319.82 586.83,323.13 586.87,326.71 586.91,330.52 586.95,334.51 586.98,338.63 587.02,342.85 587.06,347.11 587.1,351.36 587.13,355.56 587.17,359.65 587.21,363.58 587.25,367.32 587.28,370.82 587.32,374.04 587.36,376.94 587.4,379.49 587.43,381.66 587.47,383.42 587.51,384.76 587.55,385.66 587.58,386.1 587.62,386.09 587.66,385.63 587.7,384.72 587.73,383.36 587.77,381.58 587.81,379.4 587.85,376.84 587.88,373.94 587.92,370.72 587.96,367.22 588,363.48 588.03,359.56 588.07,355.48 588.11,351.3 588.15,347.07 588.18,342.84 588.22,338.64 588.26,334.55 588.3,330.59 588.33,326.82 588.37,323.27 588.41,320 588.45,317.03 588.48,314.4 588.52,312.15 588.56,310.3 588.59,308.86 588.63,307.86 588.67,307.3 588.71,307.2 588.74,307.55 588.78,308.35 588.82,309.59 588.86,311.26 588.89,313.33 588.93,315.79 588.97,318.59 589.01,321.72 589.04,325.14 589.08,328.8 589.12,332.66 589.16,336.69 589.19,340.82 589.23,345.02 589.27,349.24 589.31,353.42 589.34,357.53 589.38,361.5 589.42,365.31 589.46,368.89 589.49,372.22 589.53,375.25 589.57,377.95 589.61,380.29 589.64,382.24 589.68,383.77 589.72,384.88 589.76,385.55 589.79,385.77 589.83,385.53 589.87,384.85 589.91,383.73 589.94,382.18 589.98,380.22 590.02,377.87 590.06,375.17 590.09,372.13 590.13,368.81 590.17,365.23 590.21,361.44 590.24,357.47 590.28,353.39 590.32,349.23 590.36,345.04 590.39,340.86 590.43,336.76 590.47,332.78 590.51,328.95 590.54,325.33 590.58,321.95 590.62,318.87 590.66,316.1 590.69,313.69 590.73,311.65 590.77,310.02 590.81,308.82 590.84,308.05 590.88,307.72 590.92,307.84 590.96,308.41 590.99,309.42 591.03,310.86 591.07,312.71 591.11,314.96 591.14,317.56 591.18,320.5 591.22,323.74 591.26,327.24 591.29,330.97 591.33,334.87 591.37,338.91 591.4,343.04 591.44,347.21 591.48,351.36 591.52,355.47 591.55,359.47 591.59,363.32 591.63,366.98 591.67,370.4 591.7,373.55 591.74,376.38 591.78,378.87 591.82,381 591.85,382.72 591.89,384.03 591.93,384.91 591.97,385.35 592,385.34 592.04,384.88 592.08,383.99 592.12,382.67 592.15,380.93 592.19,378.8 592.23,376.3 592.27,373.46 592.3,370.31 592.34,366.89 592.38,363.24 592.42,359.4 592.45,355.42 592.49,351.34 592.53,347.2 592.57,343.07 592.6,338.97 592.64,334.97 592.68,331.1 592.72,327.41 592.75,323.95 592.79,320.75 592.83,317.86 592.87,315.29 592.9,313.09 592.94,311.28 592.98,309.87 593.02,308.89 593.05,308.35 593.09,308.25 593.13,308.6 593.17,309.38 593.2,310.59 593.24,312.22 593.28,314.25 593.32,316.64 593.35,319.39 593.39,322.45 593.43,325.79 593.47,329.36 593.5,333.14 593.54,337.07 593.58,341.11 593.62,345.22 593.65,349.34 593.69,353.43 593.73,357.44 593.77,361.32 593.8,365.04 593.84,368.54 593.88,371.79 593.92,374.76 593.95,377.39 593.99,379.68 594.03,381.58 594.07,383.08 594.1,384.17 594.14,384.82 594.18,385.03 594.21,384.8 594.25,384.13 594.29,383.04 594.33,381.52 594.36,379.61 594.4,377.31 594.44,374.67 594.48,371.71 594.51,368.46 594.55,364.96 594.59,361.25 594.63,357.38 594.66,353.39 594.7,349.32 594.74,345.23 594.78,341.15 594.81,337.15 594.85,333.25 594.89,329.51 594.93,325.98 594.96,322.68 595,319.66 595.04,316.96 595.08,314.6 595.11,312.61 595.15,311.02 595.19,309.84 595.23,309.09 595.26,308.77 595.3,308.89 595.34,309.45 595.38,310.44 595.41,311.84 595.45,313.65 595.49,315.84 595.53,318.39 595.56,321.26 595.6,324.43 595.64,327.85 595.68,331.49 595.71,335.3 595.75,339.25 595.79,343.28 595.83,347.35 595.86,351.41 595.9,355.42 595.94,359.33 595.98,363.09 596.01,366.66 596.05,370.01 596.09,373.08 596.13,375.85 596.16,378.29 596.2,380.36 596.24,382.05 596.28,383.32 596.31,384.18 596.35,384.61 596.39,384.6 596.43,384.16 596.46,383.29 596.5,381.99 596.54,380.3 596.58,378.21 596.61,375.77 596.65,373 596.69,369.92 596.73,366.58 596.76,363.02 596.8,359.27 596.84,355.38 596.88,351.39 596.91,347.35 596.95,343.31 596.99,339.31 597.02,335.4 597.06,331.62 597.1,328.02 597.14,324.64 597.17,321.51 597.21,318.68 597.25,316.18 597.29,314.03 597.32,312.26 597.36,310.89 597.4,309.93 597.44,309.4 597.47,309.31 597.51,309.64 597.55,310.41 597.59,311.59 597.62,313.18 597.66,315.16 597.7,317.5 597.74,320.18 597.77,323.17 597.81,326.43 597.85,329.93 597.89,333.61 597.92,337.45 597.96,341.4 598,345.41 598.04,349.43 598.07,353.43 598.11,357.35 598.15,361.14 598.19,364.77 598.22,368.19 598.26,371.37 598.3,374.26 598.34,376.84 598.37,379.07 598.41,380.93 598.45,382.39 598.49,383.45 598.52,384.08 598.56,384.29 598.6,384.07 598.64,383.42 598.67,382.34 598.71,380.87 598.75,379 598.79,376.76 598.82,374.18 598.86,371.28 598.9,368.11 598.94,364.69 598.97,361.07 599.01,357.29 599.05,353.39 599.09,349.42 599.12,345.42 599.16,341.44 599.2,337.53 599.24,333.73 599.27,330.08 599.31,326.62 599.35,323.4 599.39,320.46 599.42,317.82 599.46,315.52 599.5,313.58 599.54,312.02 599.57,310.87 599.61,310.14 599.65,309.83 599.69,309.94 599.72,310.49 599.76,311.45 599.8,312.82 599.83,314.59 599.87,316.73 599.91,319.21 599.95,322.02 599.98,325.11 600.02,328.45 600.06,332 600.1,335.73 600.13,339.58 600.17,343.52 600.21,347.5 600.25,351.47 600.28,355.38 600.32,359.2 600.36,362.88 600.4,366.37 600.43,369.64 600.47,372.64 600.51,375.35 600.55,377.73 600.58,379.76 600.62,381.41 600.66,382.66 600.7,383.5 600.73,383.92 600.77,383.91 600.81,383.48 600.85,382.63 600.88,381.37 600.92,379.71 600.96,377.68 601,375.29 601.03,372.58 601.07,369.57 601.11,366.31 601.15,362.82 601.18,359.15 601.22,355.35 601.26,351.45 601.3,347.5 601.33,343.54 601.37,339.63 601.41,335.8 601.45,332.11 601.48,328.58 601.52,325.27 601.56,322.22 601.6,319.45 601.63,316.99 601.67,314.89 601.71,313.15 601.75,311.81 601.78,310.87 601.82,310.35 601.86,310.26 601.9,310.58 601.93,311.33 601.97,312.49 602.01,314.05 602.05,315.98 602.08,318.27 602.12,320.9 602.16,323.82 602.2,327.01 602.23,330.43 602.27,334.05 602.31,337.81 602.35,341.67 602.38,345.6 602.42,349.54 602.46,353.45 602.5,357.29 602.53,361.01 602.57,364.57 602.61,367.92 602.64,371.03 602.68,373.87 602.72,376.39 602.76,378.58 602.79,380.4 602.83,381.84 602.87,382.88 602.91,383.5 602.94,383.71 602.98,383.49 603.02,382.85 603.06,381.8 603.09,380.36 603.13,378.52 603.17,376.33 603.21,373.8 603.24,370.97 603.28,367.85 603.32,364.51 603.36,360.96 603.39,357.25 603.43,353.43 603.47,349.53 603.51,345.61 603.54,341.71 603.58,337.87 603.62,334.14 603.66,330.56 603.69,327.17 603.73,324.01 603.77,321.12 603.81,318.52 603.84,316.26 603.88,314.36 603.92,312.83 603.96,311.7 603.99,310.98 604.03,310.67 604.07,310.79 604.11,311.32 604.14,312.27 604.18,313.61 604.22,315.34 604.26,317.44 604.29,319.88 604.33,322.63 604.37,325.67 604.41,328.95 604.44,332.44 604.48,336.09 604.52,339.88 604.56,343.74 604.59,347.65 604.63,351.54 604.67,355.39 604.71,359.13 604.74,362.74 604.78,366.17 604.82,369.38 604.86,372.33 604.89,374.99 604.93,377.32 604.97,379.31 605.01,380.93 605.04,382.16 605.08,382.98 605.12,383.4 605.16,383.39 605.19,382.96 605.23,382.13 605.27,380.89 605.31,379.26 605.34,377.27 605.38,374.92 605.42,372.26 605.45,369.31 605.49,366.11 605.53,362.69 605.57,359.09 605.6,355.35 605.64,351.52 605.68,347.65 605.72,343.77 605.75,339.93 605.79,336.17 605.83,332.54 605.87,329.08 605.9,325.84 605.94,322.84 605.98,320.12 606.02,317.71 606.05,315.64 606.09,313.94 606.13,312.62 606.17,311.7 606.2,311.19 606.24,311.1 606.28,311.42 606.32,312.15 606.35,313.29 606.39,314.82 606.43,316.72 606.47,318.97 606.5,321.54 606.54,324.41 606.58,327.54 606.62,330.9 606.65,334.45 606.69,338.14 606.73,341.93 606.77,345.78 606.8,349.65 606.84,353.49 606.88,357.26 606.92,360.91 606.95,364.4 606.99,367.69 607.03,370.74 607.07,373.52 607.1,376 607.14,378.15 607.18,379.94 607.22,381.35 607.25,382.37 607.29,382.98 607.33,383.18 607.37,382.97 607.4,382.34 607.44,381.31 607.48,379.89 607.52,378.09 607.55,375.94 607.59,373.46 607.63,370.68 607.67,367.62 607.7,364.34 607.74,360.86 607.78,357.22 607.82,353.47 607.85,349.64 607.89,345.8 607.93,341.97 607.97,338.2 608,334.54 608.04,331.02 608.08,327.7 608.12,324.6 608.15,321.76 608.19,319.22 608.23,317 608.26,315.13 608.3,313.63 608.34,312.52 608.38,311.82 608.41,311.52 608.45,311.63 608.49,312.15 608.53,313.08 608.56,314.4 608.6,316.1 608.64,318.16 608.68,320.55 608.71,323.25 608.75,326.23 608.79,329.45 608.83,332.87 608.86,336.46 608.9,340.17 608.94,343.96 608.98,347.79 609.01,351.62 609.05,355.39 609.09,359.07 609.13,362.61 609.16,365.97 609.2,369.12 609.24,372.01 609.28,374.62 609.31,376.91 609.35,378.87 609.39,380.45 609.43,381.66 609.46,382.47 609.5,382.87 609.54,382.86 609.58,382.45 609.61,381.63 609.65,380.41 609.69,378.81 609.73,376.86 609.76,374.56 609.8,371.95 609.84,369.05 609.88,365.91 609.91,362.55 609.95,359.02 609.99,355.36 610.03,351.6 610.06,347.8 610.1,343.99 610.14,340.22 610.18,336.54 610.21,332.98 610.25,329.58 610.29,326.4 610.33,323.45 610.36,320.79 610.4,318.43 610.44,316.4 610.48,314.73 610.51,313.44 610.55,312.53 610.59,312.03 610.63,311.94 610.66,312.26 610.7,312.98 610.74,314.09 610.78,315.59 610.81,317.45 610.85,319.66 610.89,322.19 610.93,325 610.96,328.08 611,331.37" fill="none" stroke="#7d26cd" stroke-width="0.95" stroke-dasharray="5 2.5 4.3 2.7 5.6 2.3"/>
<line x1="498.6" y1="273.2" x2="498.6" y2="393.6" stroke="#7a7a7a" stroke-width="1.5" />
<line x1="611" y1="273.2" x2="611" y2="393.6" stroke="#7a7a7a" stroke-width="1.5" />
<line x1="498.6" y1="274" x2="611" y2="274" stroke="#666" stroke-width="1.6" />
<line x1="498.6" y1="392.8" x2="611" y2="392.8" stroke="#666" stroke-width="1.6" />
<line x1="498.6" y1="290.4" x2="505.6" y2="290.4" stroke="#000" stroke-width="1.3" />
<text transform="translate(495.6,296.9) scale(0.69,1)" font-size="21.5" text-anchor="end" >1</text>
<line x1="498.6" y1="317.4" x2="505.6" y2="317.4" stroke="#000" stroke-width="1.3" />
<text transform="translate(495.6,323.9) scale(0.69,1)" font-size="21.5" text-anchor="end" >0.5</text>
<line x1="498.6" y1="344.4" x2="505.6" y2="344.4" stroke="#000" stroke-width="1.3" />
<text transform="translate(495.6,350.9) scale(0.69,1)" font-size="21.5" text-anchor="end" >0</text>
<line x1="498.6" y1="371.4" x2="505.6" y2="371.4" stroke="#000" stroke-width="1.3" />
<text transform="translate(495.6,377.9) scale(0.69,1)" font-size="21.5" text-anchor="end" >-0.5</text>
<text transform="translate(498.6,413.7) scale(0.69,1)" font-size="21.5" text-anchor="middle" >0</text>
<line x1="554.8" y1="392.8" x2="554.8" y2="383.2" stroke="#000" stroke-width="1.0" />
<text transform="translate(554.8,413.7) scale(0.69,1)" font-size="21.5" text-anchor="middle" >50</text>
<text transform="translate(611,413.7) scale(0.69,1)" font-size="21.5" text-anchor="middle" >100</text>
<text transform="translate(556,294.3) scale(0.69,1)" font-size="21.5" text-anchor="middle" >RO</text>
<text transform="translate(595,298) scale(0.69,1)" font-size="21.5" text-anchor="middle" >(e)</text>
<text transform="translate(555,432) scale(0.69,1)" font-size="23" text-anchor="middle" font-style="italic" >t</text>
</g>
</svg>
</body></html>
